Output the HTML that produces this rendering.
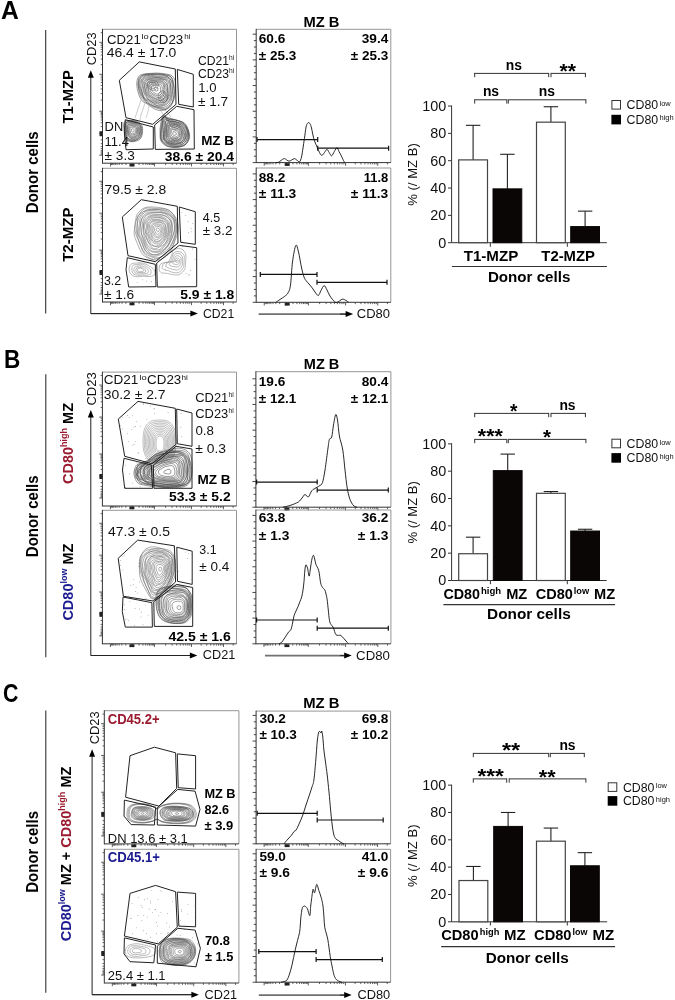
<!DOCTYPE html>
<html><head><meta charset="utf-8"><style>
html,body{margin:0;padding:0;background:#fff;}
svg{display:block;will-change:transform;font-family:"Liberation Sans", sans-serif;}
</style></head><body>
<svg width="675" height="1000" viewBox="0 0 675 1000">
<rect width="675" height="1000" fill="#fff"/>
<text x="1.1" y="19.2" font-size="26" fill="#000" font-weight="bold" textLength="17.8" lengthAdjust="spacingAndGlyphs">A</text>
<line x1="45.7" y1="29.9" x2="45.7" y2="313.6" stroke="#333" stroke-width="1.1"/>
<text transform="translate(38.3,172.3) rotate(-90)" x="0" y="0" font-size="15.6" fill="#000" font-weight="bold" text-anchor="middle" textLength="81.8" lengthAdjust="spacingAndGlyphs">Donor cells</text>
<text transform="translate(72.6,96.8) rotate(-90)" x="0" y="0" font-size="14.5" fill="#000" font-weight="bold" text-anchor="middle" textLength="53.5" lengthAdjust="spacingAndGlyphs">T1-MZP</text>
<text transform="translate(72.6,234.6) rotate(-90)" x="0" y="0" font-size="14.5" fill="#000" font-weight="bold" text-anchor="middle" textLength="54.5" lengthAdjust="spacingAndGlyphs">T2-MZP</text>
<text transform="translate(96.3,48.8) rotate(-90)" x="0" y="0" font-size="13.2" fill="#111" text-anchor="middle" textLength="32.8" lengthAdjust="spacingAndGlyphs">CD23</text>
<line x1="90.8" y1="313.6" x2="90.8" y2="76.3" stroke="#222" stroke-width="1"/>
<polygon points="90.8,70.3 87.8,77.8 93.8,77.8" stroke="none" stroke-width="0" fill="#000" stroke-linejoin="miter"/>
<line x1="90.8" y1="313.6" x2="193" y2="313.6" stroke="#333" stroke-width="1"/>
<line x1="90.8" y1="313.6" x2="191.9" y2="313.6" stroke="#222" stroke-width="1"/>
<polygon points="197.9,313.6 190.4,310.6 190.4,316.6" stroke="none" stroke-width="0" fill="#000" stroke-linejoin="miter"/>
<text x="202.9" y="317.9" font-size="12.6" fill="#111" textLength="31.3" lengthAdjust="spacingAndGlyphs">CD21</text>
<line x1="102.5" y1="29.3" x2="236.5" y2="29.3" stroke="#8a8a8a" stroke-width="0.9"/>
<line x1="236.5" y1="29.3" x2="236.5" y2="163.2" stroke="#8a8a8a" stroke-width="0.9"/>
<line x1="102.5" y1="28.85" x2="102.5" y2="163.65" stroke="#333" stroke-width="1"/>
<line x1="102.5" y1="163.2" x2="236.5" y2="163.2" stroke="#333" stroke-width="1"/>
<line x1="99.3" y1="155.21" x2="102.5" y2="155.21" stroke="#3a3a3a" stroke-width="0.8"/>
<line x1="99.3" y1="133.22" x2="102.5" y2="133.22" stroke="#3a3a3a" stroke-width="0.8"/>
<line x1="99.3" y1="111.24" x2="102.5" y2="111.24" stroke="#3a3a3a" stroke-width="0.8"/>
<line x1="99.3" y1="74.27" x2="102.5" y2="74.27" stroke="#3a3a3a" stroke-width="0.8"/>
<line x1="99.3" y1="42.29" x2="102.5" y2="42.29" stroke="#3a3a3a" stroke-width="0.8"/>
<line x1="100.7" y1="139.84" x2="102.5" y2="139.84" stroke="#3a3a3a" stroke-width="0.8"/>
<line x1="100.7" y1="126.6" x2="102.5" y2="126.6" stroke="#3a3a3a" stroke-width="0.8"/>
<line x1="100.7" y1="100.11" x2="102.5" y2="100.11" stroke="#3a3a3a" stroke-width="0.8"/>
<line x1="100.7" y1="64.64" x2="102.5" y2="64.64" stroke="#3a3a3a" stroke-width="0.8"/>
<line x1="100.7" y1="32.66" x2="102.5" y2="32.66" stroke="#3a3a3a" stroke-width="0.8"/>
<line x1="100.7" y1="143.71" x2="102.5" y2="143.71" stroke="#3a3a3a" stroke-width="0.8"/>
<line x1="100.7" y1="122.73" x2="102.5" y2="122.73" stroke="#3a3a3a" stroke-width="0.8"/>
<line x1="100.7" y1="93.6" x2="102.5" y2="93.6" stroke="#3a3a3a" stroke-width="0.8"/>
<line x1="100.7" y1="59.01" x2="102.5" y2="59.01" stroke="#3a3a3a" stroke-width="0.8"/>
<line x1="100.7" y1="146.46" x2="102.5" y2="146.46" stroke="#3a3a3a" stroke-width="0.8"/>
<line x1="100.7" y1="119.99" x2="102.5" y2="119.99" stroke="#3a3a3a" stroke-width="0.8"/>
<line x1="100.7" y1="88.98" x2="102.5" y2="88.98" stroke="#3a3a3a" stroke-width="0.8"/>
<line x1="100.7" y1="55.01" x2="102.5" y2="55.01" stroke="#3a3a3a" stroke-width="0.8"/>
<line x1="100.7" y1="148.59" x2="102.5" y2="148.59" stroke="#3a3a3a" stroke-width="0.8"/>
<line x1="100.7" y1="117.86" x2="102.5" y2="117.86" stroke="#3a3a3a" stroke-width="0.8"/>
<line x1="100.7" y1="85.4" x2="102.5" y2="85.4" stroke="#3a3a3a" stroke-width="0.8"/>
<line x1="100.7" y1="51.92" x2="102.5" y2="51.92" stroke="#3a3a3a" stroke-width="0.8"/>
<line x1="100.7" y1="150.33" x2="102.5" y2="150.33" stroke="#3a3a3a" stroke-width="0.8"/>
<line x1="100.7" y1="116.12" x2="102.5" y2="116.12" stroke="#3a3a3a" stroke-width="0.8"/>
<line x1="100.7" y1="82.47" x2="102.5" y2="82.47" stroke="#3a3a3a" stroke-width="0.8"/>
<line x1="100.7" y1="49.38" x2="102.5" y2="49.38" stroke="#3a3a3a" stroke-width="0.8"/>
<line x1="100.7" y1="151.8" x2="102.5" y2="151.8" stroke="#3a3a3a" stroke-width="0.8"/>
<line x1="100.7" y1="114.64" x2="102.5" y2="114.64" stroke="#3a3a3a" stroke-width="0.8"/>
<line x1="100.7" y1="79.99" x2="102.5" y2="79.99" stroke="#3a3a3a" stroke-width="0.8"/>
<line x1="100.7" y1="47.24" x2="102.5" y2="47.24" stroke="#3a3a3a" stroke-width="0.8"/>
<line x1="100.7" y1="153.08" x2="102.5" y2="153.08" stroke="#3a3a3a" stroke-width="0.8"/>
<line x1="100.7" y1="113.37" x2="102.5" y2="113.37" stroke="#3a3a3a" stroke-width="0.8"/>
<line x1="100.7" y1="77.85" x2="102.5" y2="77.85" stroke="#3a3a3a" stroke-width="0.8"/>
<line x1="100.7" y1="45.39" x2="102.5" y2="45.39" stroke="#3a3a3a" stroke-width="0.8"/>
<line x1="100.7" y1="154.2" x2="102.5" y2="154.2" stroke="#3a3a3a" stroke-width="0.8"/>
<line x1="100.7" y1="112.24" x2="102.5" y2="112.24" stroke="#3a3a3a" stroke-width="0.8"/>
<line x1="100.7" y1="75.96" x2="102.5" y2="75.96" stroke="#3a3a3a" stroke-width="0.8"/>
<line x1="100.7" y1="43.75" x2="102.5" y2="43.75" stroke="#3a3a3a" stroke-width="0.8"/>
<line x1="110.5" y1="163.2" x2="110.5" y2="166.4" stroke="#3a3a3a" stroke-width="0.8"/>
<line x1="132.5" y1="163.2" x2="132.5" y2="166.4" stroke="#3a3a3a" stroke-width="0.8"/>
<line x1="154.5" y1="163.2" x2="154.5" y2="166.4" stroke="#3a3a3a" stroke-width="0.8"/>
<line x1="191.5" y1="163.2" x2="191.5" y2="166.4" stroke="#3a3a3a" stroke-width="0.8"/>
<line x1="223.5" y1="163.2" x2="223.5" y2="166.4" stroke="#3a3a3a" stroke-width="0.8"/>
<line x1="125.88" y1="163.2" x2="125.88" y2="165" stroke="#3a3a3a" stroke-width="0.8"/>
<line x1="139.12" y1="163.2" x2="139.12" y2="165" stroke="#3a3a3a" stroke-width="0.8"/>
<line x1="165.64" y1="163.2" x2="165.64" y2="165" stroke="#3a3a3a" stroke-width="0.8"/>
<line x1="201.13" y1="163.2" x2="201.13" y2="165" stroke="#3a3a3a" stroke-width="0.8"/>
<line x1="233.13" y1="163.2" x2="233.13" y2="165" stroke="#3a3a3a" stroke-width="0.8"/>
<line x1="122" y1="163.2" x2="122" y2="165" stroke="#3a3a3a" stroke-width="0.8"/>
<line x1="143" y1="163.2" x2="143" y2="165" stroke="#3a3a3a" stroke-width="0.8"/>
<line x1="172.15" y1="163.2" x2="172.15" y2="165" stroke="#3a3a3a" stroke-width="0.8"/>
<line x1="206.77" y1="163.2" x2="206.77" y2="165" stroke="#3a3a3a" stroke-width="0.8"/>
<line x1="119.25" y1="163.2" x2="119.25" y2="165" stroke="#3a3a3a" stroke-width="0.8"/>
<line x1="145.75" y1="163.2" x2="145.75" y2="165" stroke="#3a3a3a" stroke-width="0.8"/>
<line x1="176.78" y1="163.2" x2="176.78" y2="165" stroke="#3a3a3a" stroke-width="0.8"/>
<line x1="210.77" y1="163.2" x2="210.77" y2="165" stroke="#3a3a3a" stroke-width="0.8"/>
<line x1="117.12" y1="163.2" x2="117.12" y2="165" stroke="#3a3a3a" stroke-width="0.8"/>
<line x1="147.88" y1="163.2" x2="147.88" y2="165" stroke="#3a3a3a" stroke-width="0.8"/>
<line x1="180.36" y1="163.2" x2="180.36" y2="165" stroke="#3a3a3a" stroke-width="0.8"/>
<line x1="213.87" y1="163.2" x2="213.87" y2="165" stroke="#3a3a3a" stroke-width="0.8"/>
<line x1="115.38" y1="163.2" x2="115.38" y2="165" stroke="#3a3a3a" stroke-width="0.8"/>
<line x1="149.62" y1="163.2" x2="149.62" y2="165" stroke="#3a3a3a" stroke-width="0.8"/>
<line x1="183.29" y1="163.2" x2="183.29" y2="165" stroke="#3a3a3a" stroke-width="0.8"/>
<line x1="216.4" y1="163.2" x2="216.4" y2="165" stroke="#3a3a3a" stroke-width="0.8"/>
<line x1="113.91" y1="163.2" x2="113.91" y2="165" stroke="#3a3a3a" stroke-width="0.8"/>
<line x1="151.09" y1="163.2" x2="151.09" y2="165" stroke="#3a3a3a" stroke-width="0.8"/>
<line x1="185.77" y1="163.2" x2="185.77" y2="165" stroke="#3a3a3a" stroke-width="0.8"/>
<line x1="218.54" y1="163.2" x2="218.54" y2="165" stroke="#3a3a3a" stroke-width="0.8"/>
<line x1="112.63" y1="163.2" x2="112.63" y2="165" stroke="#3a3a3a" stroke-width="0.8"/>
<line x1="152.37" y1="163.2" x2="152.37" y2="165" stroke="#3a3a3a" stroke-width="0.8"/>
<line x1="187.91" y1="163.2" x2="187.91" y2="165" stroke="#3a3a3a" stroke-width="0.8"/>
<line x1="220.4" y1="163.2" x2="220.4" y2="165" stroke="#3a3a3a" stroke-width="0.8"/>
<line x1="111.51" y1="163.2" x2="111.51" y2="165" stroke="#3a3a3a" stroke-width="0.8"/>
<line x1="153.49" y1="163.2" x2="153.49" y2="165" stroke="#3a3a3a" stroke-width="0.8"/>
<line x1="189.81" y1="163.2" x2="189.81" y2="165" stroke="#3a3a3a" stroke-width="0.8"/>
<line x1="222.04" y1="163.2" x2="222.04" y2="165" stroke="#3a3a3a" stroke-width="0.8"/>
<rect x="129.5" y="163.7" width="5" height="2.8" fill="#222" stroke="none" stroke-width="1"/>
<rect x="99.5" y="131.2" width="3" height="5" fill="#222" stroke="none" stroke-width="1"/>
<path d="M154.14,88.51 C154.14,88.24 154.15,87.96 154.24,87.8 C154.34,87.63 154.52,87.58 154.71,87.52 C154.91,87.45 155.15,87.41 155.4,87.39 C155.64,87.36 155.94,87.36 156.2,87.38 C156.46,87.4 156.74,87.44 156.97,87.5 C157.19,87.56 157.37,87.62 157.54,87.75 C157.7,87.88 157.89,88.04 157.95,88.28 C158.01,88.52 157.94,88.9 157.91,89.2 C157.89,89.5 157.87,89.81 157.81,90.08 C157.75,90.34 157.71,90.6 157.56,90.77 C157.41,90.94 157.12,91.03 156.9,91.1 C156.67,91.16 156.42,91.21 156.21,91.16 C155.99,91.11 155.79,90.9 155.6,90.8 C155.41,90.69 155.25,90.64 155.09,90.52 C154.93,90.4 154.78,90.25 154.64,90.07 C154.5,89.88 154.31,89.66 154.23,89.4 C154.15,89.14 154.14,88.78 154.14,88.51Z" stroke="#444" stroke-width="0.55" fill="none" />
<path d="M151.4,87.79 C151.41,87.16 151.63,86.57 151.88,86.17 C152.12,85.77 152.43,85.57 152.88,85.4 C153.33,85.24 153.97,85.19 154.57,85.19 C155.16,85.18 155.82,85.35 156.45,85.37 C157.09,85.38 157.84,85.19 158.4,85.28 C158.96,85.37 159.46,85.57 159.79,85.92 C160.12,86.27 160.29,86.79 160.4,87.38 C160.5,87.97 160.4,88.74 160.41,89.45 C160.43,90.17 160.63,91.07 160.48,91.66 C160.33,92.25 159.91,92.6 159.52,92.99 C159.13,93.38 158.66,93.84 158.15,94.03 C157.65,94.21 157,94.21 156.48,94.09 C155.97,93.97 155.49,93.55 155.04,93.31 C154.6,93.07 154.2,92.94 153.81,92.65 C153.43,92.36 153.07,92.01 152.73,91.57 C152.4,91.12 152.01,90.59 151.78,89.96 C151.56,89.33 151.38,88.42 151.4,87.79Z" stroke="#444" stroke-width="0.55" fill="none" />
<path d="M149.95,87.41 C149.93,86.53 149.92,85.59 150.21,85.03 C150.51,84.47 151.06,84.22 151.72,84.06 C152.37,83.9 153.33,84.05 154.14,84.05 C154.96,84.05 155.79,84.02 156.62,84.03 C157.45,84.05 158.34,84.05 159.12,84.16 C159.9,84.27 160.82,84.25 161.3,84.69 C161.79,85.13 161.88,85.95 162.04,86.77 C162.21,87.6 162.33,88.7 162.3,89.65 C162.26,90.59 162.07,91.66 161.82,92.46 C161.57,93.26 161.29,93.91 160.8,94.44 C160.3,94.97 159.54,95.45 158.85,95.65 C158.16,95.85 157.32,95.78 156.63,95.63 C155.94,95.49 155.3,95.09 154.71,94.79 C154.12,94.49 153.66,94.19 153.1,93.83 C152.55,93.47 151.84,93.22 151.38,92.63 C150.92,92.04 150.56,91.17 150.32,90.3 C150.09,89.43 149.97,88.29 149.95,87.41Z" stroke="#444" stroke-width="0.55" fill="none" />
<path d="M148.3,86.97 C148.31,85.9 148.55,84.85 148.95,84.17 C149.35,83.49 149.93,83.15 150.71,82.89 C151.49,82.64 152.61,82.65 153.62,82.65 C154.63,82.65 155.69,82.88 156.76,82.9 C157.83,82.92 159.07,82.62 160.03,82.75 C160.99,82.89 161.89,83.15 162.5,83.72 C163.11,84.29 163.49,85.16 163.68,86.17 C163.88,87.18 163.73,88.59 163.68,89.79 C163.63,90.99 163.69,92.43 163.37,93.38 C163.05,94.34 162.37,94.83 161.74,95.51 C161.11,96.18 160.44,97.15 159.62,97.44 C158.79,97.74 157.65,97.53 156.79,97.27 C155.93,97.02 155.16,96.36 154.46,95.93 C153.76,95.5 153.28,95.09 152.6,94.67 C151.91,94.25 150.98,94.1 150.36,93.43 C149.74,92.76 149.22,91.7 148.88,90.63 C148.53,89.55 148.29,88.05 148.3,86.97Z" stroke="#444" stroke-width="0.55" fill="none" />
<path d="M147.61,86.79 C147.55,85.56 147.4,84.15 147.81,83.39 C148.23,82.62 149.18,82.45 150.1,82.2 C151.02,81.95 152.2,81.96 153.34,81.9 C154.47,81.83 155.68,81.83 156.9,81.81 C158.12,81.79 159.56,81.59 160.67,81.77 C161.77,81.95 162.91,82.19 163.53,82.88 C164.14,83.58 164.12,84.75 164.36,85.92 C164.61,87.09 165.03,88.6 164.99,89.92 C164.95,91.24 164.48,92.68 164.14,93.84 C163.81,95.01 163.65,96.13 162.97,96.9 C162.29,97.67 161.06,98.13 160.06,98.46 C159.05,98.79 157.93,99.04 156.94,98.89 C155.95,98.73 154.94,98.04 154.1,97.54 C153.26,97.03 152.68,96.41 151.89,95.85 C151.09,95.3 149.98,95.07 149.35,94.23 C148.72,93.38 148.42,92.04 148.13,90.8 C147.84,89.56 147.66,88.03 147.61,86.79Z" stroke="#444" stroke-width="0.55" fill="none" />
<path d="M146.51,86.5 C146.51,85.11 146.37,83.57 146.88,82.75 C147.38,81.92 148.51,81.84 149.53,81.53 C150.55,81.23 151.72,81.05 152.97,80.93 C154.22,80.8 155.65,80.79 157.03,80.79 C158.4,80.78 160.05,80.63 161.22,80.91 C162.39,81.19 163.34,81.7 164.05,82.46 C164.75,83.23 165.08,84.25 165.47,85.51 C165.85,86.78 166.39,88.55 166.38,90.06 C166.37,91.58 165.81,93.26 165.42,94.6 C165.03,95.95 164.81,97.18 164.04,98.11 C163.27,99.05 161.97,99.93 160.8,100.2 C159.63,100.48 158.17,100.07 157.02,99.75 C155.88,99.43 154.89,98.78 153.94,98.28 C152.99,97.78 152.22,97.36 151.34,96.77 C150.46,96.18 149.42,95.7 148.68,94.75 C147.93,93.81 147.24,92.46 146.88,91.08 C146.52,89.71 146.51,87.89 146.51,86.5Z" stroke="#444" stroke-width="0.55" fill="none" />
<path d="M145.04,86.12 C145.05,84.57 145.32,83.05 145.86,82.05 C146.4,81.04 147.16,80.46 148.28,80.09 C149.39,79.72 151.08,79.85 152.55,79.81 C154.03,79.78 155.59,79.85 157.14,79.87 C158.69,79.89 160.53,79.64 161.84,79.95 C163.15,80.25 164.17,80.85 164.99,81.7 C165.8,82.55 166.29,83.63 166.73,85.05 C167.17,86.46 167.63,88.48 167.62,90.19 C167.6,91.9 167.13,93.89 166.64,95.32 C166.14,96.76 165.59,97.92 164.64,98.79 C163.7,99.67 162.21,100.22 160.96,100.58 C159.71,100.94 158.35,101.17 157.14,100.97 C155.93,100.77 154.71,100.01 153.69,99.4 C152.67,98.78 152,97.95 151.03,97.28 C150.07,96.61 148.75,96.36 147.89,95.37 C147.03,94.38 146.33,92.86 145.85,91.32 C145.38,89.78 145.04,87.66 145.04,86.12Z" stroke="#444" stroke-width="0.55" fill="none" />
<path d="M144.49,85.97 C144.44,84.29 144.34,82.45 144.9,81.39 C145.46,80.33 146.65,80.04 147.86,79.61 C149.07,79.18 150.62,78.9 152.18,78.81 C153.74,78.72 155.54,79.02 157.24,79.07 C158.94,79.12 160.88,78.84 162.38,79.11 C163.88,79.37 165.39,79.74 166.24,80.68 C167.09,81.63 167.21,83.18 167.47,84.77 C167.74,86.36 167.76,88.34 167.81,90.21 C167.86,92.08 168.12,94.36 167.78,96 C167.44,97.65 166.81,99.08 165.77,100.07 C164.73,101.06 162.96,101.58 161.54,101.92 C160.12,102.27 158.6,102.4 157.25,102.14 C155.91,101.88 154.61,101.03 153.47,100.39 C152.33,99.74 151.46,99.04 150.43,98.28 C149.4,97.52 148.18,96.97 147.31,95.83 C146.43,94.7 145.65,93.12 145.18,91.47 C144.71,89.83 144.54,87.65 144.49,85.97Z" stroke="#444" stroke-width="0.55" fill="none" />
<path d="M143.22,85.64 C143.18,83.82 143.34,81.89 144.02,80.78 C144.7,79.67 145.98,79.39 147.31,78.97 C148.63,78.54 150.28,78.41 151.96,78.23 C153.64,78.05 155.63,77.78 157.39,77.89 C159.15,77.99 160.95,78.49 162.54,78.86 C164.13,79.24 165.83,79.23 166.93,80.12 C168.04,81 168.8,82.45 169.16,84.15 C169.51,85.86 169.19,88.31 169.05,90.34 C168.91,92.36 168.73,94.56 168.29,96.31 C167.86,98.06 167.49,99.72 166.44,100.83 C165.39,101.94 163.51,102.63 161.99,102.97 C160.47,103.32 158.77,103.22 157.33,102.92 C155.88,102.61 154.55,101.76 153.3,101.17 C152.04,100.58 150.87,100.18 149.79,99.36 C148.7,98.53 147.71,97.52 146.79,96.24 C145.87,94.96 144.87,93.45 144.28,91.68 C143.68,89.91 143.27,87.45 143.22,85.64Z" stroke="#444" stroke-width="0.55" fill="none" />
<path d="M142.33,85.4 C142.23,83.43 142.19,81.23 142.89,80.01 C143.6,78.8 145.13,78.62 146.56,78.11 C148,77.61 149.69,77.08 151.5,77 C153.31,76.92 155.47,77.5 157.42,77.64 C159.37,77.78 161.47,77.55 163.2,77.84 C164.93,78.14 166.63,78.42 167.81,79.4 C168.99,80.39 169.89,81.9 170.29,83.74 C170.68,85.58 170.35,88.27 170.17,90.45 C169.99,92.64 169.79,95.09 169.2,96.85 C168.6,98.61 167.71,99.77 166.61,101.02 C165.51,102.28 164.11,103.87 162.58,104.35 C161.05,104.84 159.02,104.26 157.42,103.94 C155.83,103.62 154.37,103.07 153.01,102.45 C151.65,101.84 150.42,101.18 149.26,100.24 C148.1,99.3 147.01,98.22 146.05,96.82 C145.08,95.43 144.08,93.77 143.46,91.87 C142.84,89.96 142.42,87.38 142.33,85.4Z" stroke="#444" stroke-width="0.55" fill="none" />
<path d="M140.86,85.02 C140.91,82.91 141.44,80.89 142.24,79.56 C143.03,78.24 144.12,77.53 145.64,77.05 C147.17,76.58 149.41,76.73 151.39,76.71 C153.37,76.69 155.47,76.85 157.51,76.93 C159.55,77 161.78,76.86 163.65,77.15 C165.52,77.44 167.59,77.57 168.73,78.65 C169.88,79.74 170.13,81.68 170.5,83.66 C170.88,85.64 171.01,88.23 170.98,90.54 C170.94,92.84 170.85,95.56 170.29,97.5 C169.73,99.43 168.81,100.85 167.59,102.13 C166.37,103.42 164.61,104.59 162.95,105.21 C161.28,105.84 159.27,106.31 157.61,105.88 C155.95,105.45 154.36,103.56 152.98,102.61 C151.59,101.67 150.65,100.99 149.28,100.2 C147.9,99.41 145.94,99.19 144.73,97.86 C143.51,96.52 142.62,94.35 141.98,92.2 C141.33,90.06 140.82,87.12 140.86,85.02Z" stroke="#444" stroke-width="0.55" fill="none" />
<path d="M139.73,84.72 C139.65,82.55 140.79,80.58 141.65,79.16 C142.51,77.74 143.36,76.82 144.9,76.19 C146.44,75.56 148.77,75.37 150.88,75.36 C153,75.35 155.36,76 157.61,76.1 C159.87,76.21 162.42,75.66 164.41,75.97 C166.39,76.29 168.3,76.8 169.55,77.99 C170.79,79.19 171.44,81.04 171.87,83.15 C172.29,85.26 172.25,88.19 172.1,90.65 C171.95,93.11 171.64,95.88 170.99,97.91 C170.34,99.95 169.5,101.5 168.21,102.84 C166.92,104.17 165.03,105.45 163.26,105.93 C161.49,106.41 159.35,106.05 157.59,105.71 C155.83,105.38 154.16,104.7 152.68,103.94 C151.2,103.18 150.12,102.1 148.71,101.15 C147.29,100.21 145.27,99.79 144.17,98.29 C143.07,96.8 142.84,94.44 142.1,92.18 C141.36,89.91 139.8,86.89 139.73,84.72Z" stroke="#444" stroke-width="0.55" fill="none" />
<path d="M138.94,84.51 C138.85,82.18 139.65,79.9 140.54,78.4 C141.44,76.9 142.63,76.14 144.31,75.51 C145.99,74.88 148.37,74.79 150.62,74.64 C152.86,74.5 155.44,74.51 157.8,74.64 C160.15,74.77 162.82,74.85 164.75,75.43 C166.68,76.02 168.03,76.91 169.38,78.13 C170.73,79.36 172.33,80.7 172.85,82.79 C173.37,84.89 172.69,88.09 172.52,90.69 C172.35,93.3 172.38,96.2 171.83,98.42 C171.28,100.63 170.55,102.5 169.22,103.98 C167.89,105.46 165.76,106.78 163.84,107.3 C161.93,107.83 159.64,107.49 157.73,107.14 C155.82,106.79 154,106.04 152.4,105.21 C150.79,104.38 149.5,103.29 148.1,102.16 C146.7,101.04 145.15,100.07 143.98,98.45 C142.81,96.82 141.92,94.73 141.08,92.41 C140.24,90.09 139.03,86.85 138.94,84.51Z" stroke="#444" stroke-width="0.55" fill="none" />
<path d="M138.13,84.3 C138.08,81.87 139.08,79.6 140.03,78.05 C140.98,76.5 142.09,75.56 143.85,74.98 C145.6,74.39 148.26,74.59 150.58,74.55 C152.9,74.5 155.35,74.69 157.78,74.73 C160.22,74.77 162.97,74.44 165.17,74.79 C167.37,75.14 169.71,75.48 171,76.81 C172.29,78.14 172.37,80.43 172.91,82.77 C173.45,85.11 174.15,88.1 174.24,90.87 C174.34,93.64 174.18,97.05 173.48,99.4 C172.78,101.74 171.56,103.37 170.05,104.92 C168.54,106.47 166.49,108.28 164.44,108.7 C162.39,109.12 159.78,107.95 157.76,107.44 C155.73,106.93 154.01,106.35 152.31,105.63 C150.6,104.9 148.97,104.27 147.53,103.11 C146.09,101.96 144.87,100.45 143.66,98.69 C142.46,96.94 141.22,94.99 140.29,92.59 C139.37,90.19 138.17,86.72 138.13,84.3Z" stroke="#444" stroke-width="0.55" fill="none" />
<path d="M138.14,84.3 C138.1,81.75 138.29,79.08 139.21,77.48 C140.12,75.89 141.78,75.35 143.63,74.72 C145.47,74.1 147.88,73.94 150.27,73.71 C152.66,73.48 155.47,73.17 157.96,73.34 C160.45,73.51 163.06,74.14 165.19,74.75 C167.33,75.36 169.37,75.7 170.78,76.99 C172.18,78.29 173.09,80.19 173.65,82.5 C174.21,84.81 174.2,88.08 174.11,90.86 C174.02,93.64 173.64,96.66 173.1,99.17 C172.57,101.68 172.28,104.15 170.91,105.9 C169.54,107.65 167.04,109.25 164.86,109.68 C162.69,110.1 159.97,109.02 157.85,108.44 C155.74,107.87 153.89,107.12 152.17,106.24 C150.45,105.36 149.07,104.3 147.51,103.15 C145.95,102.01 144.14,101.1 142.79,99.38 C141.45,97.65 140.22,95.3 139.44,92.78 C138.67,90.27 138.18,86.85 138.14,84.3Z" stroke="#444" stroke-width="0.55" fill="none" />
<path d="M136.78,83.94 C136.79,81.25 137.32,78.55 138.38,76.92 C139.44,75.29 141.18,74.75 143.14,74.17 C145.11,73.58 147.68,73.55 150.15,73.4 C152.62,73.24 155.38,73.12 157.97,73.22 C160.56,73.31 163.35,73.51 165.7,73.97 C168.05,74.42 170.47,74.62 172.07,75.94 C173.68,77.26 174.79,79.37 175.33,81.88 C175.87,84.39 175.55,88.02 175.31,90.98 C175.07,93.94 174.66,97.2 173.88,99.63 C173.1,102.06 172.11,103.87 170.61,105.56 C169.12,107.26 167.01,109.02 164.91,109.79 C162.81,110.56 160.18,110.57 158.02,110.18 C155.85,109.78 153.73,108.46 151.91,107.41 C150.09,106.35 148.79,105.05 147.09,103.86 C145.38,102.67 143.12,102.07 141.66,100.27 C140.2,98.46 139.14,95.76 138.33,93.04 C137.51,90.32 136.77,86.63 136.78,83.94Z" stroke="#444" stroke-width="0.55" fill="none" />
<path d="M151.18,84.47 C151.41,84.2 151.91,84.05 152.35,84.05 C152.8,84.05 153.55,84.19 153.84,84.46 C154.13,84.73 154.21,85.26 154.1,85.65 C154,86.04 153.62,86.63 153.22,86.8 C152.83,86.98 152.13,86.88 151.76,86.69 C151.38,86.5 151.05,86.02 150.95,85.66 C150.85,85.29 150.94,84.74 151.18,84.47Z" stroke="#555" stroke-width="0.5" fill="none" />
<path d="M149.5,83.17 C149.97,82.56 151.19,82.16 152.17,82.18 C153.14,82.2 154.71,82.67 155.36,83.28 C156.01,83.88 156.3,84.98 156.09,85.83 C155.87,86.68 154.96,88.01 154.1,88.37 C153.23,88.74 151.71,88.46 150.92,88.03 C150.13,87.61 149.59,86.63 149.35,85.81 C149.12,85 149.04,83.78 149.5,83.17Z" stroke="#555" stroke-width="0.5" fill="none" />
<path d="M148.1,82.08 C148.84,81.14 150.48,80.36 151.98,80.33 C153.49,80.3 156.09,80.96 157.12,81.91 C158.14,82.86 158.48,84.65 158.13,86.01 C157.79,87.38 156.41,89.54 155.06,90.11 C153.71,90.67 151.31,90.09 150.06,89.4 C148.81,88.72 147.9,87.21 147.58,85.99 C147.25,84.77 147.37,83.02 148.1,82.08Z" stroke="#555" stroke-width="0.5" fill="none" />
<path d="M161.79,95.79 C162,95.48 162.59,95.12 163,95.17 C163.41,95.21 164,95.67 164.23,96.08 C164.46,96.49 164.55,97.16 164.4,97.62 C164.24,98.08 163.69,98.73 163.31,98.83 C162.92,98.94 162.34,98.55 162.07,98.24 C161.8,97.93 161.75,97.41 161.7,97 C161.65,96.59 161.57,96.09 161.79,95.79Z" stroke="#555" stroke-width="0.5" fill="none" />
<path d="M160.41,94.41 C160.88,93.73 162.13,92.86 163,92.96 C163.87,93.06 165.13,94.13 165.63,95.03 C166.13,95.92 166.35,97.38 166.02,98.34 C165.69,99.3 164.46,100.57 163.63,100.78 C162.8,100.99 161.64,100.22 161.05,99.59 C160.47,98.96 160.24,97.86 160.13,97 C160.03,96.14 159.93,95.08 160.41,94.41Z" stroke="#555" stroke-width="0.5" fill="none" />
<path d="M158.99,92.99 C159.75,91.98 161.69,90.78 163,90.96 C164.31,91.15 166.11,92.79 166.84,94.12 C167.58,95.45 167.87,97.49 167.4,98.95 C166.92,100.42 165.23,102.53 163.98,102.89 C162.73,103.26 160.83,102.12 159.9,101.13 C158.97,100.15 158.56,98.36 158.4,97 C158.25,95.64 158.22,93.99 158.99,92.99Z" stroke="#555" stroke-width="0.5" fill="none" />
<path d="M141,100 C140.67,101 139.67,104 139,106 C138.33,108 137.67,110 137,112 C136.33,114 135.33,117 135,118" stroke="#888" stroke-width="0.45" fill="none" />
<path d="M145,103 C144.67,104 143.67,107 143,109 C142.33,111 141.5,113.17 141,115 C140.5,116.83 140.17,119.17 140,120" stroke="#888" stroke-width="0.45" fill="none" />
<path d="M149,106 C148.83,107 148.5,110 148,112 C147.5,114 146.33,117 146,118" stroke="#999" stroke-width="0.45" fill="none" />
<path d="M160,110 C160.5,110.67 162,112.67 163,114 C164,115.33 165.5,117.33 166,118" stroke="#888" stroke-width="0.45" fill="none" />
<path d="M164,109 C164.67,109.67 166.83,111.67 168,113 C169.17,114.33 170.5,116.33 171,117" stroke="#888" stroke-width="0.45" fill="none" />
<path d="M131.47,129.06 C131.63,128.79 132.01,128.79 132.3,128.77 C132.58,128.75 132.89,128.83 133.18,128.95 C133.47,129.06 133.9,129.22 134.06,129.48 C134.21,129.75 134.16,130.19 134.11,130.54 C134.07,130.9 134.05,131.34 133.8,131.61 C133.54,131.87 132.94,132.12 132.59,132.11 C132.25,132.1 131.93,131.85 131.73,131.56 C131.53,131.28 131.43,130.82 131.39,130.41 C131.35,129.99 131.32,129.33 131.47,129.06Z" stroke="#444" stroke-width="0.55" fill="none" />
<path d="M130.15,127.71 C130.45,127.17 131.3,127.28 131.9,127.24 C132.49,127.19 133.11,127.22 133.71,127.46 C134.3,127.69 135.13,128.08 135.46,128.64 C135.79,129.2 135.79,130.09 135.71,130.82 C135.64,131.56 135.53,132.54 134.99,133.03 C134.46,133.53 133.21,133.83 132.49,133.81 C131.77,133.79 131.07,133.48 130.68,132.93 C130.28,132.38 130.19,131.38 130.1,130.51 C130.01,129.64 129.85,128.26 130.15,127.71Z" stroke="#444" stroke-width="0.55" fill="none" />
<path d="M129.35,126.91 C129.76,126.14 130.78,126.03 131.56,125.96 C132.35,125.89 133.25,126.13 134.06,126.48 C134.86,126.84 135.93,127.34 136.37,128.09 C136.8,128.84 136.76,130.02 136.66,130.99 C136.55,131.96 136.44,133.26 135.74,133.92 C135.03,134.57 133.38,134.94 132.42,134.92 C131.47,134.9 130.57,134.51 130.01,133.79 C129.46,133.07 129.21,131.74 129.1,130.59 C128.99,129.44 128.95,127.69 129.35,126.91Z" stroke="#444" stroke-width="0.55" fill="none" />
<path d="M128.59,126.14 C129.11,125.24 130.43,125.31 131.38,125.26 C132.33,125.22 133.34,125.46 134.27,125.87 C135.2,126.29 136.43,126.87 136.95,127.74 C137.48,128.61 137.53,129.99 137.41,131.12 C137.29,132.25 137.08,133.66 136.23,134.51 C135.39,135.36 133.47,136.21 132.35,136.2 C131.22,136.2 130.16,135.4 129.48,134.48 C128.8,133.56 128.43,132.05 128.28,130.66 C128.14,129.27 128.07,127.04 128.59,126.14Z" stroke="#444" stroke-width="0.55" fill="none" />
<path d="M127.9,125.44 C128.48,124.43 130.11,124.71 131.22,124.65 C132.33,124.59 133.48,124.62 134.56,125.06 C135.64,125.5 137.12,126.26 137.7,127.29 C138.28,128.32 138.21,129.91 138.06,131.23 C137.91,132.55 137.79,134.23 136.83,135.22 C135.86,136.21 133.59,137.19 132.29,137.17 C130.99,137.15 129.77,136.17 129.01,135.09 C128.25,134.02 127.9,132.31 127.71,130.7 C127.53,129.09 127.31,126.45 127.9,125.44Z" stroke="#444" stroke-width="0.55" fill="none" />
<path d="M127.62,125.15 C128.22,123.98 129.75,123.84 130.96,123.67 C132.17,123.51 133.67,123.61 134.88,124.16 C136.08,124.72 137.55,125.79 138.19,126.99 C138.83,128.19 138.88,129.9 138.72,131.34 C138.56,132.79 138.29,134.6 137.21,135.68 C136.13,136.75 133.69,137.81 132.25,137.81 C130.81,137.8 129.4,136.83 128.58,135.65 C127.76,134.47 127.48,132.48 127.32,130.73 C127.16,128.98 127.01,126.33 127.62,125.15Z" stroke="#444" stroke-width="0.55" fill="none" />
<path d="M126.91,124.44 C127.62,123.1 129.38,122.89 130.73,122.78 C132.08,122.67 133.66,123.14 135.02,123.78 C136.37,124.41 138.08,125.3 138.86,126.59 C139.64,127.88 139.89,129.9 139.7,131.51 C139.5,133.12 138.94,135.06 137.69,136.24 C136.44,137.43 133.8,138.61 132.2,138.61 C130.6,138.62 129.04,137.58 128.09,136.28 C127.14,134.98 126.7,132.77 126.5,130.8 C126.31,128.83 126.21,125.78 126.91,124.44Z" stroke="#444" stroke-width="0.55" fill="none" />
<path d="M126.16,123.68 C126.91,122.32 129.18,122.75 130.7,122.66 C132.21,122.56 133.78,122.52 135.25,123.11 C136.72,123.7 138.73,124.78 139.53,126.19 C140.33,127.6 140.25,129.79 140.03,131.57 C139.81,133.35 139.53,135.52 138.21,136.87 C136.9,138.22 133.95,139.59 132.14,139.66 C130.33,139.72 128.33,138.73 127.34,137.26 C126.35,135.79 126.41,133.09 126.21,130.82 C126.01,128.56 125.41,125.04 126.16,123.68Z" stroke="#444" stroke-width="0.55" fill="none" />
<path d="M125.78,123.3 C126.62,121.72 128.78,121.53 130.38,121.44 C131.98,121.35 133.77,122.01 135.38,122.74 C137,123.48 139.21,124.37 140.07,125.86 C140.93,127.35 140.77,129.73 140.54,131.66 C140.31,133.59 140.1,136.03 138.7,137.44 C137.29,138.86 134.04,140.13 132.11,140.15 C130.18,140.17 128.23,139.12 127.1,137.57 C125.97,136.03 125.54,133.27 125.32,130.89 C125.1,128.51 124.94,124.87 125.78,123.3Z" stroke="#444" stroke-width="0.55" fill="none" />
<path d="M125.65,123.17 C126.5,121.56 128.65,121.49 130.33,121.26 C132.01,121.03 134.01,121.08 135.72,121.8 C137.42,122.51 139.63,123.89 140.57,125.56 C141.52,127.23 141.61,129.74 141.37,131.8 C141.14,133.87 140.69,136.42 139.14,137.97 C137.58,139.52 134.12,141.08 132.05,141.1 C129.98,141.12 127.84,139.78 126.71,138.08 C125.58,136.38 125.44,133.38 125.27,130.9 C125.09,128.41 124.81,124.77 125.65,123.17Z" stroke="#444" stroke-width="0.55" fill="none" />
<path d="M124.76,122.27 C125.67,120.56 128.34,120.82 130.18,120.7 C132.02,120.58 134.03,120.77 135.8,121.56 C137.58,122.34 139.81,123.68 140.83,125.41 C141.85,127.13 142.14,129.73 141.92,131.9 C141.7,134.07 141.15,136.89 139.5,138.41 C137.86,139.92 134.26,140.96 132.06,140.99 C129.86,141.03 127.52,140.28 126.3,138.61 C125.08,136.93 124.99,133.66 124.74,130.94 C124.48,128.22 123.86,123.97 124.76,122.27Z" stroke="#444" stroke-width="0.55" fill="none" />
<path d="M124.31,121.81 C125.32,120.04 128.14,120.56 130.1,120.39 C132.06,120.22 134.14,120.04 136.07,120.79 C138.01,121.54 140.65,123 141.72,124.87 C142.79,126.74 142.76,129.62 142.5,132 C142.23,134.38 141.87,137.52 140.12,139.15 C138.38,140.77 134.39,141.76 132.01,141.76 C129.64,141.77 127.2,140.96 125.87,139.17 C124.55,137.37 124.31,133.89 124.05,131 C123.79,128.1 123.31,123.58 124.31,121.81Z" stroke="#444" stroke-width="0.55" fill="none" />
<path d="M173.13,131.58 C173.26,131.44 173.46,131.75 173.72,131.81 C173.98,131.87 174.37,131.84 174.69,131.94 C175.01,132.04 175.38,132.2 175.64,132.42 C175.9,132.64 176.13,132.96 176.24,133.26 C176.35,133.56 176.37,133.93 176.29,134.22 C176.2,134.51 176,134.83 175.73,135.02 C175.46,135.21 175.04,135.33 174.68,135.36 C174.32,135.39 173.9,135.32 173.59,135.19 C173.28,135.06 172.97,134.86 172.84,134.6 C172.72,134.33 172.83,133.94 172.84,133.62 C172.85,133.3 172.86,133.01 172.91,132.67 C172.95,132.33 172.99,131.73 173.13,131.58Z" stroke="#3a3a3a" stroke-width="0.55" fill="none" />
<path d="M171.76,129.48 C172.02,129.17 172.34,129.63 172.86,129.74 C173.38,129.85 174.23,129.91 174.88,130.15 C175.52,130.38 176.2,130.73 176.75,131.16 C177.31,131.59 177.96,132.15 178.21,132.75 C178.46,133.36 178.46,134.17 178.28,134.8 C178.1,135.43 177.69,136.13 177.12,136.52 C176.55,136.91 175.61,137.11 174.87,137.13 C174.14,137.15 173.3,136.93 172.7,136.65 C172.11,136.36 171.59,135.95 171.3,135.43 C171.01,134.91 170.97,134.16 170.97,133.53 C170.97,132.89 171.16,132.31 171.29,131.63 C171.42,130.96 171.5,129.8 171.76,129.48Z" stroke="#3a3a3a" stroke-width="0.55" fill="none" />
<path d="M170.85,128.09 C171.23,127.72 171.74,128.5 172.43,128.7 C173.12,128.89 174.11,129 174.97,129.25 C175.83,129.51 176.88,129.69 177.58,130.23 C178.29,130.77 178.88,131.68 179.19,132.5 C179.5,133.32 179.66,134.32 179.45,135.14 C179.23,135.95 178.66,136.86 177.92,137.38 C177.18,137.9 175.97,138.19 174.99,138.24 C174.02,138.29 172.88,138.06 172.06,137.7 C171.24,137.35 170.42,136.81 170.05,136.11 C169.69,135.4 169.84,134.34 169.86,133.47 C169.89,132.61 170.02,131.82 170.19,130.92 C170.35,130.02 170.48,128.46 170.85,128.09Z" stroke="#3a3a3a" stroke-width="0.55" fill="none" />
<path d="M169.8,126.47 C170.24,125.97 170.96,127.04 171.85,127.29 C172.73,127.54 174.03,127.62 175.1,127.97 C176.18,128.33 177.46,128.71 178.29,129.43 C179.13,130.14 179.79,131.28 180.11,132.27 C180.42,133.26 180.44,134.39 180.19,135.35 C179.93,136.32 179.41,137.47 178.55,138.06 C177.7,138.66 176.25,138.84 175.07,138.93 C173.89,139.03 172.46,139.03 171.49,138.63 C170.52,138.23 169.7,137.41 169.24,136.54 C168.78,135.67 168.73,134.46 168.73,133.42 C168.73,132.38 169.07,131.47 169.25,130.32 C169.43,129.16 169.37,126.98 169.8,126.47Z" stroke="#3a3a3a" stroke-width="0.55" fill="none" />
<path d="M169.09,125.38 C169.59,124.81 170.46,126.03 171.47,126.38 C172.48,126.74 173.95,127.09 175.15,127.52 C176.36,127.95 177.68,128.22 178.71,128.96 C179.73,129.7 180.88,130.85 181.29,131.97 C181.71,133.08 181.5,134.47 181.2,135.65 C180.89,136.82 180.45,138.31 179.44,139.02 C178.44,139.73 176.55,139.9 175.17,139.91 C173.8,139.92 172.36,139.56 171.22,139.09 C170.07,138.61 168.87,138 168.31,137.04 C167.76,136.09 167.84,134.58 167.87,133.38 C167.9,132.17 168.29,131.16 168.49,129.83 C168.69,128.49 168.6,125.95 169.09,125.38Z" stroke="#3a3a3a" stroke-width="0.55" fill="none" />
<path d="M168.83,124.97 C169.43,124.39 170.15,125.6 171.23,125.8 C172.31,126.01 173.92,125.8 175.29,126.19 C176.66,126.58 178.38,127.19 179.44,128.13 C180.51,129.08 181.26,130.59 181.67,131.87 C182.07,133.16 182.22,134.61 181.89,135.85 C181.56,137.08 180.79,138.5 179.68,139.28 C178.57,140.05 176.75,140.35 175.24,140.49 C173.72,140.63 171.83,140.65 170.59,140.12 C169.34,139.59 168.36,138.46 167.79,137.33 C167.23,136.2 167.2,134.68 167.17,133.34 C167.15,132 167.37,130.68 167.65,129.28 C167.92,127.89 168.23,125.55 168.83,124.97Z" stroke="#3a3a3a" stroke-width="0.55" fill="none" />
<path d="M168.19,123.98 C168.87,123.32 169.58,124.37 170.77,124.7 C171.96,125.03 173.8,125.46 175.32,125.94 C176.84,126.43 178.73,126.65 179.91,127.61 C181.09,128.56 181.93,130.26 182.41,131.68 C182.89,133.1 183.13,134.73 182.78,136.11 C182.42,137.48 181.52,139.04 180.27,139.91 C179.03,140.78 177.02,141.16 175.33,141.32 C173.64,141.49 171.55,141.45 170.12,140.88 C168.68,140.32 167.31,139.17 166.72,137.91 C166.13,136.65 166.58,134.85 166.58,133.31 C166.57,131.77 166.4,130.21 166.67,128.65 C166.94,127.1 167.5,124.64 168.19,123.98Z" stroke="#3a3a3a" stroke-width="0.55" fill="none" />
<path d="M167.61,123.09 C168.28,122.36 169.24,123.88 170.55,124.15 C171.85,124.43 173.81,124.26 175.45,124.74 C177.09,125.23 179.12,125.94 180.39,127.06 C181.67,128.19 182.52,129.94 183.11,131.5 C183.7,133.07 184.32,134.95 183.93,136.44 C183.55,137.94 182.21,139.55 180.79,140.47 C179.37,141.4 177.23,141.84 175.4,142 C173.57,142.16 171.31,142.06 169.8,141.41 C168.29,140.76 166.99,139.47 166.33,138.12 C165.68,136.76 165.84,134.87 165.87,133.28 C165.9,131.68 166.21,130.24 166.5,128.55 C166.79,126.85 166.94,123.83 167.61,123.09Z" stroke="#3a3a3a" stroke-width="0.55" fill="none" />
<path d="M167.14,122.37 C167.87,121.56 168.78,122.89 170.17,123.24 C171.56,123.6 173.69,123.94 175.47,124.5 C177.25,125.05 179.42,125.43 180.84,126.56 C182.26,127.69 183.43,129.61 184,131.28 C184.57,132.94 184.64,134.84 184.26,136.53 C183.87,138.23 183.16,140.4 181.7,141.45 C180.24,142.5 177.52,142.75 175.49,142.82 C173.46,142.89 171.21,142.58 169.51,141.89 C167.81,141.2 166.01,140.11 165.31,138.67 C164.6,137.23 165.19,135.01 165.28,133.25 C165.36,131.49 165.5,129.92 165.81,128.1 C166.12,126.29 166.41,123.18 167.14,122.37Z" stroke="#3a3a3a" stroke-width="0.55" fill="none" />
<path d="M166.09,120.75 C166.85,119.85 168.2,121.78 169.78,122.3 C171.35,122.81 173.66,123.18 175.54,123.84 C177.42,124.51 179.49,125.11 181.06,126.31 C182.63,127.51 184.25,129.27 184.97,131.03 C185.68,132.79 185.89,135.11 185.35,136.85 C184.82,138.6 183.38,140.35 181.76,141.51 C180.13,142.67 177.72,143.63 175.6,143.83 C173.48,144.02 170.82,143.5 169.03,142.68 C167.24,141.86 165.62,140.49 164.86,138.91 C164.09,137.33 164.37,135.07 164.44,133.21 C164.5,131.34 164.97,129.81 165.24,127.73 C165.52,125.66 165.33,121.66 166.09,120.75Z" stroke="#3a3a3a" stroke-width="0.55" fill="none" />
<path d="M166.16,120.86 C166.97,119.88 167.85,121.04 169.42,121.44 C171,121.83 173.55,122.55 175.61,123.23 C177.66,123.91 180.17,124.22 181.77,125.51 C183.37,126.8 184.52,129.05 185.21,130.97 C185.9,132.89 186.39,135.14 185.94,137.02 C185.48,138.91 184.19,141.13 182.47,142.28 C180.75,143.43 177.86,143.85 175.61,143.92 C173.37,144 170.91,143.5 169,142.72 C167.09,141.95 164.97,140.88 164.15,139.3 C163.34,137.71 164.03,135.19 164.1,133.19 C164.17,131.19 164.21,129.34 164.55,127.29 C164.89,125.23 165.35,121.83 166.16,120.86Z" stroke="#3a3a3a" stroke-width="0.55" fill="none" />
<path d="M165.29,119.53 C166.18,118.53 167.44,120.38 169.17,120.83 C170.91,121.29 173.58,121.53 175.71,122.28 C177.83,123.03 180.15,123.93 181.94,125.32 C183.73,126.72 185.76,128.7 186.44,130.65 C187.12,132.61 186.67,135.1 186.02,137.05 C185.37,139 184.27,141.12 182.54,142.36 C180.82,143.6 178.01,144.31 175.67,144.5 C173.34,144.68 170.47,144.32 168.55,143.46 C166.62,142.6 164.98,141.03 164.12,139.31 C163.26,137.6 163.44,135.24 163.4,133.16 C163.35,131.08 163.54,129.11 163.85,126.84 C164.17,124.57 164.4,120.53 165.29,119.53Z" stroke="#3a3a3a" stroke-width="0.55" fill="none" />
<path d="M164.79,118.76 C165.86,117.88 167.38,120.38 169.2,120.91 C171.03,121.43 173.49,121.32 175.75,121.91 C178,122.5 180.83,123.01 182.72,124.44 C184.62,125.86 186.41,128.32 187.14,130.47 C187.87,132.63 187.7,135.21 187.08,137.36 C186.47,139.5 185.33,142 183.45,143.33 C181.56,144.67 178.28,145.3 175.77,145.36 C173.26,145.43 170.41,144.69 168.38,143.73 C166.36,142.77 164.49,141.37 163.59,139.6 C162.68,137.83 163.09,135.38 162.96,133.14 C162.83,130.89 162.49,128.55 162.79,126.16 C163.1,123.76 163.72,119.63 164.79,118.76Z" stroke="#3a3a3a" stroke-width="0.55" fill="none" />
<path d="M164.21,117.86 C165.26,116.78 166.63,118.72 168.56,119.36 C170.49,119.99 173.37,120.87 175.77,121.67 C178.17,122.47 181.05,122.71 182.96,124.17 C184.87,125.63 186.45,128.21 187.26,130.45 C188.06,132.68 188.39,135.38 187.78,137.56 C187.17,139.74 185.6,142.05 183.62,143.51 C181.63,144.97 178.46,146.23 175.87,146.34 C173.29,146.45 170.34,145.2 168.12,144.17 C165.9,143.14 163.64,142 162.56,140.15 C161.49,138.31 161.72,135.47 161.66,133.07 C161.61,130.68 161.8,128.33 162.23,125.79 C162.65,123.25 163.15,118.93 164.21,117.86Z" stroke="#3a3a3a" stroke-width="0.55" fill="none" />
<path d="M163.7,117.08 C164.77,115.97 166.38,118.46 168.41,119 C170.45,119.54 173.39,119.56 175.91,120.31 C178.44,121.06 181.58,121.84 183.54,123.51 C185.51,125.18 186.9,127.96 187.7,130.33 C188.5,132.7 188.88,135.37 188.34,137.72 C187.8,140.07 186.56,142.93 184.49,144.45 C182.42,145.96 178.73,146.71 175.92,146.79 C173.11,146.88 169.99,145.99 167.63,144.96 C165.28,143.92 162.89,142.57 161.77,140.58 C160.66,138.6 160.9,135.53 160.94,133.04 C160.98,130.55 161.53,128.3 161.99,125.64 C162.45,122.98 162.63,118.19 163.7,117.08Z" stroke="#3a3a3a" stroke-width="0.55" fill="none" />
<path d="M163.34,116.52 C164.48,115.43 166.21,118.18 168.31,118.75 C170.41,119.33 173.38,119.2 175.95,119.96 C178.52,120.72 181.71,121.61 183.71,123.33 C185.71,125.04 187.11,127.84 187.97,130.26 C188.83,132.69 189.38,135.42 188.88,137.88 C188.39,140.33 187.14,143.41 184.99,144.99 C182.84,146.57 178.96,147.24 175.99,147.37 C173.01,147.49 169.55,146.86 167.16,145.74 C164.77,144.62 162.75,142.77 161.64,140.65 C160.53,138.53 160.53,135.58 160.5,133.01 C160.46,130.45 160.97,128.03 161.44,125.28 C161.91,122.53 162.19,117.61 163.34,116.52Z" stroke="#3a3a3a" stroke-width="0.55" fill="none" />
<path d="M163.05,116.08 C164.27,114.9 165.67,116.93 167.82,117.58 C169.97,118.22 173.22,119.1 175.95,119.97 C178.68,120.84 182.11,121.09 184.19,122.79 C186.27,124.48 187.58,127.6 188.45,130.14 C189.33,132.68 190,135.56 189.42,138.03 C188.84,140.51 187.23,143.45 184.98,144.98 C182.74,146.51 178.98,147 175.97,147.2 C172.95,147.4 169.38,147.23 166.88,146.2 C164.39,145.16 162.14,143.2 161,141 C159.87,138.8 160.15,135.71 160.07,132.99 C159.99,130.28 160.05,127.53 160.55,124.71 C161.04,121.89 161.84,117.27 163.05,116.08Z" stroke="#3a3a3a" stroke-width="0.55" fill="none" />
<polygon points="119.3,80.3 139.3,61.9 175.3,69 176,104.3 152.7,124.3 126,117.7" stroke="#222" stroke-width="1" fill="none" stroke-linejoin="miter"/>
<polygon points="177.3,69.4 193.3,74.3 193.3,107 178.7,104.3" stroke="#222" stroke-width="1" fill="none" stroke-linejoin="miter"/>
<polygon points="176.7,106.3 194,109.7 194.3,149 155.3,149.4 154.7,125" stroke="#222" stroke-width="1" fill="none" stroke-linejoin="miter"/>
<polygon points="125.3,119.7 153.3,127 153.3,149 126,149.7 124.5,135" stroke="#222" stroke-width="1" fill="none" stroke-linejoin="miter"/>
<text x="107.1" y="43.6" font-size="13.1" fill="#111" textLength="33.6" lengthAdjust="spacingAndGlyphs">CD21</text>
<text x="141.5" y="39.1" font-size="7.8" fill="#111" textLength="7.2" lengthAdjust="spacingAndGlyphs">lo</text>
<text x="149.2" y="43.6" font-size="13.1" fill="#111" textLength="34.1" lengthAdjust="spacingAndGlyphs">CD23</text>
<text x="184.2" y="39.1" font-size="7.6" fill="#111" textLength="6.3" lengthAdjust="spacingAndGlyphs">hi</text>
<text x="106.7" y="56.9" font-size="13.1" fill="#111" textLength="69.6" lengthAdjust="spacingAndGlyphs">46.4 ± 17.0</text>
<text x="198" y="64.9" font-size="13.1" fill="#111" textLength="31" lengthAdjust="spacingAndGlyphs">CD21</text>
<text x="229" y="59.8" font-size="7.4" fill="#111" textLength="5.2" lengthAdjust="spacingAndGlyphs">hi</text>
<text x="198" y="78.3" font-size="13.1" fill="#111" textLength="31" lengthAdjust="spacingAndGlyphs">CD23</text>
<text x="229" y="73.2" font-size="7.4" fill="#111" textLength="5.2" lengthAdjust="spacingAndGlyphs">hi</text>
<text x="198.3" y="92" font-size="13.1" fill="#111" textLength="18.2" lengthAdjust="spacingAndGlyphs">1.0</text>
<text x="198" y="106.3" font-size="13.1" fill="#111" textLength="30.2" lengthAdjust="spacingAndGlyphs">± 1.7</text>
<text x="104.6" y="130.6" font-size="12.7" fill="#111" textLength="18.6" lengthAdjust="spacingAndGlyphs">DN</text>
<text x="104.6" y="145.7" font-size="12.7" fill="#111" textLength="24.4" lengthAdjust="spacingAndGlyphs">11.4</text>
<text x="104.6" y="160.2" font-size="12.7" fill="#111" textLength="30.2" lengthAdjust="spacingAndGlyphs">± 3.3</text>
<text x="201.2" y="144.8" font-size="13.4" fill="#000" font-weight="bold" textLength="32.8" lengthAdjust="spacingAndGlyphs">MZ B</text>
<text x="164.7" y="161" font-size="13.4" fill="#000" font-weight="bold" textLength="69.3" lengthAdjust="spacingAndGlyphs">38.6 ± 20.4</text>
<line x1="102.5" y1="168.3" x2="236.5" y2="168.3" stroke="#8a8a8a" stroke-width="0.9"/>
<line x1="236.5" y1="168.3" x2="236.5" y2="302" stroke="#8a8a8a" stroke-width="0.9"/>
<line x1="102.5" y1="167.85" x2="102.5" y2="302.45" stroke="#333" stroke-width="1"/>
<line x1="102.5" y1="302" x2="236.5" y2="302" stroke="#333" stroke-width="1"/>
<line x1="99.3" y1="294.02" x2="102.5" y2="294.02" stroke="#3a3a3a" stroke-width="0.8"/>
<line x1="99.3" y1="272.07" x2="102.5" y2="272.07" stroke="#3a3a3a" stroke-width="0.8"/>
<line x1="99.3" y1="250.12" x2="102.5" y2="250.12" stroke="#3a3a3a" stroke-width="0.8"/>
<line x1="99.3" y1="213.2" x2="102.5" y2="213.2" stroke="#3a3a3a" stroke-width="0.8"/>
<line x1="99.3" y1="181.27" x2="102.5" y2="181.27" stroke="#3a3a3a" stroke-width="0.8"/>
<line x1="100.7" y1="278.67" x2="102.5" y2="278.67" stroke="#3a3a3a" stroke-width="0.8"/>
<line x1="100.7" y1="265.46" x2="102.5" y2="265.46" stroke="#3a3a3a" stroke-width="0.8"/>
<line x1="100.7" y1="239" x2="102.5" y2="239" stroke="#3a3a3a" stroke-width="0.8"/>
<line x1="100.7" y1="203.59" x2="102.5" y2="203.59" stroke="#3a3a3a" stroke-width="0.8"/>
<line x1="100.7" y1="171.66" x2="102.5" y2="171.66" stroke="#3a3a3a" stroke-width="0.8"/>
<line x1="100.7" y1="282.54" x2="102.5" y2="282.54" stroke="#3a3a3a" stroke-width="0.8"/>
<line x1="100.7" y1="261.59" x2="102.5" y2="261.59" stroke="#3a3a3a" stroke-width="0.8"/>
<line x1="100.7" y1="232.5" x2="102.5" y2="232.5" stroke="#3a3a3a" stroke-width="0.8"/>
<line x1="100.7" y1="197.97" x2="102.5" y2="197.97" stroke="#3a3a3a" stroke-width="0.8"/>
<line x1="100.7" y1="285.28" x2="102.5" y2="285.28" stroke="#3a3a3a" stroke-width="0.8"/>
<line x1="100.7" y1="258.85" x2="102.5" y2="258.85" stroke="#3a3a3a" stroke-width="0.8"/>
<line x1="100.7" y1="227.89" x2="102.5" y2="227.89" stroke="#3a3a3a" stroke-width="0.8"/>
<line x1="100.7" y1="193.98" x2="102.5" y2="193.98" stroke="#3a3a3a" stroke-width="0.8"/>
<line x1="100.7" y1="287.41" x2="102.5" y2="287.41" stroke="#3a3a3a" stroke-width="0.8"/>
<line x1="100.7" y1="256.72" x2="102.5" y2="256.72" stroke="#3a3a3a" stroke-width="0.8"/>
<line x1="100.7" y1="224.31" x2="102.5" y2="224.31" stroke="#3a3a3a" stroke-width="0.8"/>
<line x1="100.7" y1="190.88" x2="102.5" y2="190.88" stroke="#3a3a3a" stroke-width="0.8"/>
<line x1="100.7" y1="289.15" x2="102.5" y2="289.15" stroke="#3a3a3a" stroke-width="0.8"/>
<line x1="100.7" y1="254.99" x2="102.5" y2="254.99" stroke="#3a3a3a" stroke-width="0.8"/>
<line x1="100.7" y1="221.39" x2="102.5" y2="221.39" stroke="#3a3a3a" stroke-width="0.8"/>
<line x1="100.7" y1="188.35" x2="102.5" y2="188.35" stroke="#3a3a3a" stroke-width="0.8"/>
<line x1="100.7" y1="290.62" x2="102.5" y2="290.62" stroke="#3a3a3a" stroke-width="0.8"/>
<line x1="100.7" y1="253.52" x2="102.5" y2="253.52" stroke="#3a3a3a" stroke-width="0.8"/>
<line x1="100.7" y1="218.92" x2="102.5" y2="218.92" stroke="#3a3a3a" stroke-width="0.8"/>
<line x1="100.7" y1="186.22" x2="102.5" y2="186.22" stroke="#3a3a3a" stroke-width="0.8"/>
<line x1="100.7" y1="291.89" x2="102.5" y2="291.89" stroke="#3a3a3a" stroke-width="0.8"/>
<line x1="100.7" y1="252.24" x2="102.5" y2="252.24" stroke="#3a3a3a" stroke-width="0.8"/>
<line x1="100.7" y1="216.78" x2="102.5" y2="216.78" stroke="#3a3a3a" stroke-width="0.8"/>
<line x1="100.7" y1="184.37" x2="102.5" y2="184.37" stroke="#3a3a3a" stroke-width="0.8"/>
<line x1="100.7" y1="293.01" x2="102.5" y2="293.01" stroke="#3a3a3a" stroke-width="0.8"/>
<line x1="100.7" y1="251.12" x2="102.5" y2="251.12" stroke="#3a3a3a" stroke-width="0.8"/>
<line x1="100.7" y1="214.89" x2="102.5" y2="214.89" stroke="#3a3a3a" stroke-width="0.8"/>
<line x1="100.7" y1="182.73" x2="102.5" y2="182.73" stroke="#3a3a3a" stroke-width="0.8"/>
<line x1="110.5" y1="302" x2="110.5" y2="305.2" stroke="#3a3a3a" stroke-width="0.8"/>
<line x1="132.5" y1="302" x2="132.5" y2="305.2" stroke="#3a3a3a" stroke-width="0.8"/>
<line x1="154.5" y1="302" x2="154.5" y2="305.2" stroke="#3a3a3a" stroke-width="0.8"/>
<line x1="191.5" y1="302" x2="191.5" y2="305.2" stroke="#3a3a3a" stroke-width="0.8"/>
<line x1="223.5" y1="302" x2="223.5" y2="305.2" stroke="#3a3a3a" stroke-width="0.8"/>
<line x1="125.88" y1="302" x2="125.88" y2="303.8" stroke="#3a3a3a" stroke-width="0.8"/>
<line x1="139.12" y1="302" x2="139.12" y2="303.8" stroke="#3a3a3a" stroke-width="0.8"/>
<line x1="165.64" y1="302" x2="165.64" y2="303.8" stroke="#3a3a3a" stroke-width="0.8"/>
<line x1="201.13" y1="302" x2="201.13" y2="303.8" stroke="#3a3a3a" stroke-width="0.8"/>
<line x1="233.13" y1="302" x2="233.13" y2="303.8" stroke="#3a3a3a" stroke-width="0.8"/>
<line x1="122" y1="302" x2="122" y2="303.8" stroke="#3a3a3a" stroke-width="0.8"/>
<line x1="143" y1="302" x2="143" y2="303.8" stroke="#3a3a3a" stroke-width="0.8"/>
<line x1="172.15" y1="302" x2="172.15" y2="303.8" stroke="#3a3a3a" stroke-width="0.8"/>
<line x1="206.77" y1="302" x2="206.77" y2="303.8" stroke="#3a3a3a" stroke-width="0.8"/>
<line x1="119.25" y1="302" x2="119.25" y2="303.8" stroke="#3a3a3a" stroke-width="0.8"/>
<line x1="145.75" y1="302" x2="145.75" y2="303.8" stroke="#3a3a3a" stroke-width="0.8"/>
<line x1="176.78" y1="302" x2="176.78" y2="303.8" stroke="#3a3a3a" stroke-width="0.8"/>
<line x1="210.77" y1="302" x2="210.77" y2="303.8" stroke="#3a3a3a" stroke-width="0.8"/>
<line x1="117.12" y1="302" x2="117.12" y2="303.8" stroke="#3a3a3a" stroke-width="0.8"/>
<line x1="147.88" y1="302" x2="147.88" y2="303.8" stroke="#3a3a3a" stroke-width="0.8"/>
<line x1="180.36" y1="302" x2="180.36" y2="303.8" stroke="#3a3a3a" stroke-width="0.8"/>
<line x1="213.87" y1="302" x2="213.87" y2="303.8" stroke="#3a3a3a" stroke-width="0.8"/>
<line x1="115.38" y1="302" x2="115.38" y2="303.8" stroke="#3a3a3a" stroke-width="0.8"/>
<line x1="149.62" y1="302" x2="149.62" y2="303.8" stroke="#3a3a3a" stroke-width="0.8"/>
<line x1="183.29" y1="302" x2="183.29" y2="303.8" stroke="#3a3a3a" stroke-width="0.8"/>
<line x1="216.4" y1="302" x2="216.4" y2="303.8" stroke="#3a3a3a" stroke-width="0.8"/>
<line x1="113.91" y1="302" x2="113.91" y2="303.8" stroke="#3a3a3a" stroke-width="0.8"/>
<line x1="151.09" y1="302" x2="151.09" y2="303.8" stroke="#3a3a3a" stroke-width="0.8"/>
<line x1="185.77" y1="302" x2="185.77" y2="303.8" stroke="#3a3a3a" stroke-width="0.8"/>
<line x1="218.54" y1="302" x2="218.54" y2="303.8" stroke="#3a3a3a" stroke-width="0.8"/>
<line x1="112.63" y1="302" x2="112.63" y2="303.8" stroke="#3a3a3a" stroke-width="0.8"/>
<line x1="152.37" y1="302" x2="152.37" y2="303.8" stroke="#3a3a3a" stroke-width="0.8"/>
<line x1="187.91" y1="302" x2="187.91" y2="303.8" stroke="#3a3a3a" stroke-width="0.8"/>
<line x1="220.4" y1="302" x2="220.4" y2="303.8" stroke="#3a3a3a" stroke-width="0.8"/>
<line x1="111.51" y1="302" x2="111.51" y2="303.8" stroke="#3a3a3a" stroke-width="0.8"/>
<line x1="153.49" y1="302" x2="153.49" y2="303.8" stroke="#3a3a3a" stroke-width="0.8"/>
<line x1="189.81" y1="302" x2="189.81" y2="303.8" stroke="#3a3a3a" stroke-width="0.8"/>
<line x1="222.04" y1="302" x2="222.04" y2="303.8" stroke="#3a3a3a" stroke-width="0.8"/>
<rect x="129.5" y="302.5" width="5" height="2.8" fill="#222" stroke="none" stroke-width="1"/>
<rect x="99.5" y="270" width="3" height="5" fill="#222" stroke="none" stroke-width="1"/>
<path d="M156.4,229.33 C156.42,229.11 156.38,228.85 156.49,228.66 C156.6,228.46 156.82,228.28 157.06,228.18 C157.29,228.08 157.63,228.04 157.91,228.07 C158.19,228.09 158.5,228.2 158.73,228.34 C158.96,228.47 159.18,228.65 159.28,228.88 C159.39,229.11 159.38,229.44 159.36,229.7 C159.34,229.96 159.27,230.17 159.18,230.43 C159.1,230.68 159.02,231.01 158.86,231.22 C158.69,231.43 158.4,231.59 158.18,231.69 C157.96,231.8 157.73,231.91 157.53,231.85 C157.33,231.79 157.15,231.55 156.99,231.34 C156.84,231.14 156.73,230.84 156.62,230.62 C156.52,230.39 156.42,230.19 156.38,229.98 C156.34,229.76 156.38,229.55 156.4,229.33Z" stroke="#5e5e5e" stroke-width="0.5" fill="none" />
<path d="M154.5,228.89 C154.56,228.43 154.59,227.9 154.86,227.53 C155.13,227.17 155.64,226.88 156.13,226.69 C156.62,226.51 157.25,226.41 157.81,226.44 C158.38,226.47 159.02,226.62 159.52,226.86 C160.02,227.1 160.57,227.42 160.81,227.89 C161.06,228.37 161.03,229.13 160.99,229.7 C160.96,230.27 160.79,230.75 160.59,231.29 C160.39,231.82 160.16,232.43 159.8,232.89 C159.43,233.36 158.87,233.83 158.4,234.07 C157.93,234.31 157.42,234.46 156.99,234.33 C156.55,234.2 156.11,233.74 155.8,233.29 C155.49,232.84 155.35,232.1 155.13,231.61 C154.92,231.11 154.61,230.75 154.5,230.3 C154.39,229.85 154.44,229.35 154.5,228.89Z" stroke="#5e5e5e" stroke-width="0.5" fill="none" />
<path d="M153.18,228.58 C153.25,227.92 153.15,227.15 153.5,226.59 C153.84,226.04 154.52,225.5 155.23,225.24 C155.94,224.98 156.9,224.96 157.73,225.02 C158.56,225.08 159.51,225.23 160.19,225.6 C160.88,225.97 161.54,226.54 161.85,227.23 C162.17,227.91 162.15,228.93 162.08,229.7 C162.02,230.47 161.73,231.07 161.48,231.83 C161.22,232.58 161.03,233.55 160.55,234.23 C160.07,234.91 159.24,235.57 158.57,235.92 C157.91,236.26 157.17,236.48 156.56,236.29 C155.95,236.09 155.36,235.39 154.91,234.75 C154.45,234.11 154.14,233.17 153.84,232.47 C153.53,231.77 153.19,231.19 153.08,230.55 C152.97,229.9 153.11,229.24 153.18,228.58Z" stroke="#5e5e5e" stroke-width="0.5" fill="none" />
<path d="M152.04,228.32 C152.09,227.49 151.89,226.47 152.3,225.77 C152.72,225.06 153.62,224.4 154.51,224.08 C155.4,223.77 156.63,223.79 157.67,223.87 C158.71,223.95 159.88,224.11 160.75,224.55 C161.63,225 162.54,225.67 162.94,226.53 C163.34,227.39 163.24,228.71 163.17,229.7 C163.1,230.69 162.88,231.54 162.55,232.49 C162.22,233.43 161.83,234.55 161.19,235.36 C160.55,236.18 159.52,237 158.71,237.36 C157.89,237.72 157.05,237.75 156.29,237.53 C155.52,237.31 154.7,236.76 154.13,236.02 C153.55,235.29 153.19,234.01 152.84,233.13 C152.48,232.25 152.12,231.53 151.99,230.73 C151.85,229.93 151.98,229.14 152.04,228.32Z" stroke="#5e5e5e" stroke-width="0.5" fill="none" />
<path d="M150.79,228.03 C150.87,227.05 150.79,225.9 151.31,225.08 C151.84,224.27 152.88,223.59 153.92,223.14 C154.97,222.69 156.32,222.41 157.58,222.41 C158.85,222.41 160.47,222.54 161.52,223.12 C162.57,223.71 163.39,224.83 163.88,225.93 C164.37,227.02 164.49,228.49 164.46,229.7 C164.42,230.91 164.14,232.09 163.68,233.18 C163.22,234.27 162.48,235.29 161.67,236.21 C160.86,237.14 159.81,238.16 158.83,238.73 C157.86,239.3 156.76,239.85 155.82,239.65 C154.88,239.45 153.92,238.47 153.21,237.52 C152.5,236.58 151.98,235.07 151.58,233.97 C151.18,232.87 150.94,231.92 150.81,230.93 C150.67,229.94 150.7,229 150.79,228.03Z" stroke="#5e5e5e" stroke-width="0.5" fill="none" />
<path d="M149.46,227.72 C149.56,226.54 149.33,225.14 149.91,224.12 C150.49,223.09 151.67,222.06 152.94,221.56 C154.21,221.06 156.02,220.96 157.51,221.12 C158.99,221.28 160.59,221.82 161.85,222.5 C163.12,223.17 164.52,223.95 165.1,225.15 C165.67,226.35 165.41,228.28 165.31,229.7 C165.21,231.12 165,232.41 164.49,233.68 C163.99,234.95 163.21,236.12 162.3,237.33 C161.39,238.54 160.17,240.29 159.03,240.92 C157.9,241.54 156.6,241.45 155.51,241.08 C154.41,240.72 153.27,239.81 152.48,238.71 C151.69,237.62 151.32,235.75 150.79,234.49 C150.26,233.24 149.54,232.32 149.32,231.19 C149.1,230.06 149.36,228.9 149.46,227.72Z" stroke="#5e5e5e" stroke-width="0.5" fill="none" />
<path d="M148.17,227.42 C148.31,226.11 148.29,224.59 149.01,223.49 C149.73,222.4 151.08,221.41 152.49,220.83 C153.89,220.25 155.79,219.91 157.45,220.01 C159.1,220.11 161.05,220.63 162.43,221.42 C163.8,222.21 165.09,223.37 165.71,224.75 C166.33,226.13 166.22,228.12 166.16,229.7 C166.1,231.28 165.9,232.77 165.36,234.21 C164.81,235.65 163.92,237.1 162.87,238.35 C161.83,239.6 160.37,241.09 159.11,241.71 C157.84,242.33 156.51,242.39 155.29,242.08 C154.07,241.78 152.72,241 151.77,239.87 C150.82,238.74 150.17,236.71 149.58,235.3 C148.99,233.88 148.44,232.7 148.2,231.38 C147.97,230.07 148.04,228.74 148.17,227.42Z" stroke="#5e5e5e" stroke-width="0.5" fill="none" />
<path d="M147.5,227.27 C147.71,225.8 147.35,224.1 148.08,222.85 C148.81,221.61 150.3,220.38 151.85,219.81 C153.41,219.24 155.59,219.27 157.41,219.42 C159.24,219.57 161.19,219.97 162.81,220.71 C164.42,221.45 166.39,222.36 167.1,223.86 C167.81,225.36 167.27,227.91 167.08,229.7 C166.89,231.49 166.56,232.95 165.97,234.58 C165.37,236.21 164.63,237.99 163.51,239.48 C162.4,240.97 160.7,242.84 159.27,243.52 C157.85,244.19 156.33,243.97 154.97,243.54 C153.61,243.1 152.18,242.18 151.14,240.9 C150.1,239.63 149.46,237.41 148.74,235.86 C148.02,234.31 147.01,233.05 146.8,231.62 C146.6,230.19 147.29,228.73 147.5,227.27Z" stroke="#5e5e5e" stroke-width="0.5" fill="none" />
<path d="M146.46,227.02 C146.68,225.43 146.38,223.61 147.16,222.22 C147.94,220.82 149.45,219.44 151.14,218.66 C152.83,217.89 155.24,217.43 157.3,217.55 C159.37,217.67 161.81,218.37 163.53,219.37 C165.25,220.37 166.8,221.8 167.63,223.52 C168.45,225.24 168.6,227.77 168.46,229.7 C168.32,231.63 167.53,233.32 166.78,235.08 C166.03,236.84 165.19,238.65 163.96,240.28 C162.73,241.9 160.98,243.86 159.39,244.82 C157.8,245.77 155.95,246.42 154.43,246 C152.91,245.59 151.36,243.91 150.27,242.32 C149.18,240.72 148.63,238.18 147.88,236.43 C147.14,234.67 146.04,233.36 145.8,231.79 C145.57,230.23 146.23,228.62 146.46,227.02Z" stroke="#5e5e5e" stroke-width="0.5" fill="none" />
<path d="M144.52,226.58 C144.66,224.86 145.25,223.09 146.24,221.59 C147.23,220.09 148.62,218.32 150.46,217.57 C152.3,216.82 155.04,216.89 157.28,217.07 C159.52,217.26 162.05,217.68 163.9,218.67 C165.74,219.67 167.5,221.22 168.34,223.06 C169.19,224.9 169.11,227.61 168.99,229.7 C168.87,231.79 168.37,233.67 167.62,235.59 C166.87,237.52 165.86,239.5 164.5,241.24 C163.15,242.99 161.2,245.2 159.51,246.05 C157.82,246.91 156.01,246.78 154.35,246.35 C152.7,245.92 150.84,245 149.56,243.49 C148.27,241.97 147.35,239.18 146.65,237.24 C145.96,235.31 145.76,233.64 145.41,231.86 C145.05,230.08 144.38,228.29 144.52,226.58Z" stroke="#5e5e5e" stroke-width="0.5" fill="none" />
<path d="M143.5,226.34 C143.74,224.48 144.28,222.58 145.35,220.97 C146.42,219.36 147.94,217.55 149.91,216.69 C151.89,215.83 154.79,215.65 157.2,215.82 C159.62,215.98 162.43,216.57 164.43,217.68 C166.43,218.8 168.25,220.51 169.2,222.52 C170.14,224.52 170.28,227.46 170.12,229.7 C169.95,231.94 168.99,233.74 168.23,235.97 C167.46,238.19 166.96,241.21 165.52,243.05 C164.08,244.88 161.54,246.03 159.59,246.99 C157.64,247.95 155.54,249.32 153.81,248.82 C152.09,248.32 150.55,245.84 149.25,243.99 C147.95,242.13 146.9,239.65 146.01,237.67 C145.13,235.69 144.36,234 143.94,232.11 C143.52,230.23 143.27,228.2 143.5,226.34Z" stroke="#5e5e5e" stroke-width="0.5" fill="none" />
<path d="M143.32,226.3 C143.53,224.32 143.46,222.11 144.48,220.37 C145.49,218.62 147.28,216.76 149.39,215.85 C151.51,214.94 154.52,214.85 157.15,214.91 C159.79,214.97 162.95,215.11 165.21,216.22 C167.47,217.32 169.82,219.29 170.72,221.54 C171.62,223.79 170.84,227.18 170.61,229.7 C170.38,232.22 170.18,234.4 169.35,236.66 C168.52,238.91 167.21,241.11 165.62,243.23 C164.03,245.34 161.8,248.3 159.81,249.34 C157.82,250.38 155.63,250.01 153.68,249.44 C151.72,248.87 149.55,247.73 148.08,245.9 C146.61,244.07 145.68,240.71 144.86,238.44 C144.05,236.16 143.47,234.26 143.21,232.24 C142.95,230.22 143.11,228.28 143.32,226.3Z" stroke="#5e5e5e" stroke-width="0.5" fill="none" />
<path d="M142.35,226.07 C142.73,223.91 142.39,221.59 143.41,219.63 C144.42,217.66 146.14,215.19 148.43,214.29 C150.71,213.4 154.28,214.03 157.12,214.27 C159.96,214.51 163.17,214.55 165.47,215.74 C167.77,216.93 169.89,219.07 170.94,221.39 C172,223.72 171.9,227.05 171.81,229.7 C171.72,232.35 171.33,234.87 170.39,237.29 C169.45,239.72 167.94,242.04 166.2,244.25 C164.45,246.46 162.08,249.36 159.92,250.55 C157.76,251.74 155.35,251.96 153.25,251.38 C151.16,250.8 148.91,249.13 147.36,247.07 C145.82,245.01 145.03,241.43 143.99,239.02 C142.96,236.6 141.43,234.75 141.16,232.59 C140.89,230.43 141.98,228.23 142.35,226.07Z" stroke="#5e5e5e" stroke-width="0.5" fill="none" />
<path d="M140.76,225.7 C140.89,223.39 140.86,220.72 142.07,218.71 C143.28,216.69 145.53,214.69 148.01,213.63 C150.5,212.58 153.97,212.24 157.01,212.36 C160.04,212.48 163.8,212.91 166.21,214.36 C168.62,215.8 170.44,218.49 171.48,221.05 C172.52,223.61 172.54,226.94 172.44,229.7 C172.34,232.46 171.78,234.9 170.9,237.6 C170.02,240.31 168.96,243.61 167.15,245.93 C165.33,248.26 162.35,250.52 160.01,251.55 C157.67,252.57 155.32,252.65 153.1,252.09 C150.87,251.53 148.29,250.32 146.67,248.21 C145.04,246.1 144.27,242.03 143.37,239.43 C142.47,236.82 141.68,234.86 141.25,232.58 C140.81,230.29 140.62,228.02 140.76,225.7Z" stroke="#5e5e5e" stroke-width="0.5" fill="none" />
<path d="M140.31,225.6 C140.74,223.21 140.69,220.74 141.86,218.56 C143.03,216.38 144.81,213.57 147.34,212.54 C149.86,211.52 153.8,212.2 157.01,212.39 C160.21,212.58 163.88,212.42 166.57,213.68 C169.26,214.94 171.85,217.3 173.16,219.97 C174.46,222.64 174.58,226.65 174.38,229.7 C174.18,232.75 173.12,235.47 171.96,238.25 C170.79,241.03 169.36,243.91 167.39,246.37 C165.42,248.83 162.61,251.65 160.15,253 C157.68,254.34 154.9,255.11 152.58,254.44 C150.26,253.76 147.9,251.33 146.23,248.92 C144.55,246.52 143.68,242.66 142.52,240 C141.36,237.33 139.64,235.31 139.27,232.92 C138.9,230.52 139.88,227.99 140.31,225.6Z" stroke="#5e5e5e" stroke-width="0.5" fill="none" />
<path d="M139.25,225.35 C139.66,222.78 139.37,220.03 140.58,217.68 C141.79,215.32 143.79,212.35 146.51,211.22 C149.24,210.09 153.55,210.52 156.92,210.89 C160.29,211.25 163.9,211.96 166.72,213.39 C169.55,214.83 172.58,216.79 173.89,219.5 C175.19,222.22 174.9,226.59 174.55,229.7 C174.2,232.81 172.96,235.32 171.8,238.16 C170.64,240.99 169.53,244.16 167.59,246.73 C165.66,249.3 162.71,252.23 160.2,253.57 C157.69,254.91 154.98,255.32 152.51,254.78 C150.04,254.24 147.16,252.71 145.36,250.33 C143.56,247.96 142.93,243.39 141.72,240.53 C140.51,237.66 138.51,235.64 138.1,233.12 C137.69,230.59 138.84,227.93 139.25,225.35Z" stroke="#5e5e5e" stroke-width="0.5" fill="none" />
<path d="M137.07,224.85 C137.4,222.14 138.04,219.37 139.52,216.94 C140.99,214.51 143.04,211.52 145.92,210.27 C148.81,209.02 153.27,209.12 156.84,209.45 C160.41,209.78 164.47,210.59 167.34,212.25 C170.2,213.91 172.68,216.51 174.02,219.42 C175.37,222.33 175.49,226.39 175.42,229.7 C175.35,233.01 174.75,236.15 173.6,239.26 C172.45,242.37 170.73,245.79 168.51,248.36 C166.3,250.93 163.02,253.37 160.3,254.67 C157.58,255.97 154.72,256.84 152.21,256.17 C149.69,255.49 147.06,253.15 145.18,250.63 C143.31,248.1 142.24,243.93 140.96,241.03 C139.68,238.13 138.17,235.91 137.53,233.21 C136.88,230.52 136.74,227.56 137.07,224.85Z" stroke="#5e5e5e" stroke-width="0.5" fill="none" />
<path d="M137.45,224.94 C137.65,222.03 136.54,218.28 137.99,215.89 C139.43,213.5 142.99,211.65 146.13,210.6 C149.27,209.55 153.22,209.46 156.85,209.57 C160.47,209.67 164.87,209.7 167.87,211.25 C170.88,212.8 173.36,215.8 174.87,218.88 C176.37,221.95 177.06,226.28 176.89,229.7 C176.72,233.12 175.16,236.15 173.84,239.41 C172.53,242.67 171.23,246.27 169.01,249.25 C166.79,252.22 163.37,255.95 160.54,257.26 C157.7,258.57 154.71,257.95 152,257.09 C149.29,256.24 146.36,254.63 144.27,252.12 C142.18,249.61 140.71,245.16 139.46,242.03 C138.21,238.9 137.11,236.19 136.78,233.34 C136.44,230.49 137.25,227.85 137.45,224.94Z" stroke="#5e5e5e" stroke-width="0.5" fill="none" />
<path d="M134.85,224.34 C135.31,221.44 136.7,218.78 138.37,216.15 C140.04,213.53 141.82,209.86 144.89,208.6 C147.96,207.34 152.85,208.33 156.79,208.57 C160.73,208.8 165.43,208.36 168.53,210.01 C171.64,211.67 174.1,215.24 175.42,218.52 C176.75,221.8 176.62,226.14 176.48,229.7 C176.34,233.26 175.68,236.34 174.58,239.86 C173.48,243.38 172.23,247.91 169.89,250.81 C167.55,253.7 163.59,255.87 160.54,257.23 C157.49,258.6 154.38,259.71 151.59,258.99 C148.8,258.27 145.85,255.7 143.79,252.9 C141.73,250.1 140.59,245.41 139.23,242.18 C137.87,238.96 136.35,236.52 135.62,233.54 C134.89,230.57 134.39,227.23 134.85,224.34Z" stroke="#5e5e5e" stroke-width="0.5" fill="none" />
<path d="M135.61,224.51 C136.06,221.39 135.32,217.84 136.79,215.06 C138.25,212.28 141.1,209.15 144.42,207.86 C147.75,206.56 152.71,206.91 156.72,207.29 C160.72,207.67 165.24,208.34 168.46,210.15 C171.68,211.95 174.38,214.87 176.03,218.13 C177.67,221.39 178.46,226.02 178.32,229.7 C178.18,233.38 176.52,236.57 175.2,240.24 C173.88,243.91 172.81,248.48 170.4,251.71 C167.99,254.93 163.9,258.29 160.75,259.56 C157.6,260.83 154.5,260.17 151.51,259.32 C148.52,258.48 145.18,257.14 142.81,254.5 C140.45,251.85 138.76,246.91 137.31,243.46 C135.86,240.01 134.39,236.96 134.11,233.8 C133.83,230.64 135.17,227.64 135.61,224.51Z" stroke="#5e5e5e" stroke-width="0.5" fill="none" />
<path d="M137.74,268.52 C138.05,268.23 138.76,268.32 139.28,268.27 C139.8,268.22 140.36,268.11 140.84,268.22 C141.33,268.32 141.72,268.62 142.19,268.91 C142.65,269.19 143.44,269.54 143.64,269.92 C143.83,270.3 143.63,270.91 143.36,271.2 C143.1,271.49 142.48,271.61 142.06,271.67 C141.64,271.74 141.31,271.59 140.84,271.6 C140.36,271.61 139.75,271.8 139.23,271.75 C138.71,271.7 138.04,271.59 137.74,271.3 C137.44,271.01 137.43,270.46 137.43,270 C137.43,269.54 137.44,268.81 137.74,268.52Z" stroke="#777" stroke-width="0.5" fill="none" />
<path d="M136.63,267.79 C137.12,267.32 138.03,267.21 138.8,267.13 C139.58,267.05 140.49,267.11 141.27,267.3 C142.05,267.49 142.78,267.84 143.46,268.27 C144.15,268.7 145.01,269.26 145.37,269.88 C145.73,270.51 146,271.56 145.65,272.02 C145.29,272.47 143.95,272.54 143.23,272.63 C142.51,272.71 142.05,272.53 141.32,272.53 C140.59,272.53 139.66,272.69 138.85,272.61 C138.04,272.52 136.97,272.46 136.47,272.03 C135.98,271.59 135.85,270.71 135.88,270 C135.91,269.29 136.15,268.27 136.63,267.79Z" stroke="#777" stroke-width="0.5" fill="none" />
<path d="M135.09,266.78 C135.84,266.1 137.14,266 138.28,265.86 C139.41,265.73 140.77,265.72 141.89,265.99 C143.01,266.26 143.98,266.85 145.01,267.49 C146.05,268.13 147.62,268.93 148.11,269.83 C148.61,270.72 148.56,272.19 147.98,272.85 C147.4,273.51 145.64,273.62 144.64,273.77 C143.64,273.92 143.03,273.72 141.97,273.76 C140.9,273.79 139.41,274.11 138.25,273.97 C137.09,273.82 135.77,273.52 135.02,272.86 C134.28,272.2 133.76,271.01 133.77,270 C133.78,268.99 134.34,267.47 135.09,266.78Z" stroke="#777" stroke-width="0.5" fill="none" />
<path d="M132.94,265.37 C133.91,264.44 136.04,264.55 137.66,264.38 C139.28,264.21 141.15,263.96 142.67,264.34 C144.19,264.71 145.43,265.71 146.76,266.62 C148.08,267.53 149.97,268.58 150.62,269.77 C151.27,270.97 151.34,272.89 150.65,273.8 C149.96,274.72 147.81,275.06 146.47,275.25 C145.13,275.45 144.09,274.97 142.62,275 C141.14,275.02 139.17,275.6 137.62,275.4 C136.07,275.21 134.29,274.74 133.32,273.84 C132.35,272.94 131.87,271.41 131.8,270 C131.74,268.59 131.96,266.31 132.94,265.37Z" stroke="#777" stroke-width="0.5" fill="none" />
<path d="M131.03,264.12 C132.36,262.96 135.07,263.18 137.1,263.03 C139.12,262.88 141.27,262.78 143.2,263.21 C145.13,263.65 146.88,264.58 148.67,265.66 C150.47,266.74 153.01,268.12 153.96,269.7 C154.92,271.28 155.37,274 154.38,275.14 C153.39,276.27 149.89,276.34 148.04,276.53 C146.18,276.71 145.11,276.2 143.27,276.25 C141.43,276.3 138.96,277.03 137,276.8 C135.04,276.57 132.84,276.01 131.52,274.87 C130.21,273.74 129.21,271.79 129.12,270 C129.04,268.21 129.7,265.29 131.03,264.12Z" stroke="#777" stroke-width="0.5" fill="none" />
<path d="M176.84,260 C176.94,259.9 177.11,259.8 177.27,259.77 C177.43,259.74 177.65,259.74 177.79,259.83 C177.93,259.92 178.04,260.15 178.11,260.31 C178.17,260.47 178.18,260.61 178.19,260.8 C178.19,260.98 178.16,261.23 178.13,261.41 C178.11,261.59 178.16,261.72 178.05,261.88 C177.94,262.04 177.7,262.28 177.49,262.36 C177.28,262.43 176.99,262.36 176.79,262.35 C176.59,262.33 176.48,262.29 176.31,262.26 C176.13,262.23 175.87,262.24 175.74,262.17 C175.61,262.11 175.55,261.99 175.54,261.85 C175.52,261.71 175.55,261.45 175.64,261.33 C175.73,261.21 175.96,261.19 176.09,261.15 C176.22,261.1 176.32,261.2 176.42,261.07 C176.51,260.94 176.61,260.56 176.68,260.38 C176.75,260.2 176.74,260.1 176.84,260Z" stroke="#777" stroke-width="0.5" fill="none" />
<path d="M176.14,258.49 C176.39,258.22 176.84,257.88 177.22,257.84 C177.61,257.8 178.08,258.01 178.45,258.24 C178.82,258.46 179.24,258.81 179.43,259.18 C179.62,259.56 179.59,260.01 179.57,260.48 C179.55,260.95 179.38,261.52 179.32,261.98 C179.26,262.44 179.46,262.81 179.2,263.24 C178.95,263.67 178.36,264.32 177.81,264.56 C177.26,264.8 176.41,264.74 175.91,264.67 C175.41,264.6 175.24,264.27 174.83,264.14 C174.41,264.02 173.78,264.07 173.41,263.92 C173.04,263.78 172.66,263.62 172.6,263.27 C172.54,262.92 172.78,262.16 173.05,261.84 C173.32,261.53 173.88,261.49 174.23,261.37 C174.59,261.26 174.95,261.5 175.19,261.17 C175.44,260.85 175.57,259.87 175.73,259.43 C175.89,258.98 175.9,258.75 176.14,258.49Z" stroke="#777" stroke-width="0.5" fill="none" />
<path d="M175.33,256.72 C175.73,256.25 176.51,255.73 177.17,255.65 C177.82,255.58 178.63,255.92 179.26,256.3 C179.88,256.68 180.59,257.29 180.9,257.93 C181.21,258.56 181.12,259.31 181.12,260.12 C181.13,260.93 181.06,262.03 180.93,262.77 C180.8,263.52 180.81,263.89 180.35,264.58 C179.88,265.28 179.02,266.57 178.15,266.94 C177.28,267.3 175.98,266.85 175.11,266.78 C174.24,266.72 173.64,266.7 172.93,266.55 C172.21,266.4 171.42,266.15 170.82,265.87 C170.22,265.59 169.4,265.44 169.3,264.86 C169.21,264.29 169.82,262.93 170.26,262.4 C170.69,261.87 171.37,261.84 171.91,261.66 C172.46,261.47 173.03,261.84 173.51,261.31 C173.98,260.78 174.48,259.25 174.78,258.48 C175.09,257.72 174.94,257.2 175.33,256.72Z" stroke="#777" stroke-width="0.5" fill="none" />
<path d="M174.47,254.84 C175.07,254.2 176.16,253.5 177.11,253.37 C178.06,253.24 179.33,253.49 180.19,254.06 C181.05,254.62 181.88,255.8 182.27,256.76 C182.66,257.71 182.51,258.67 182.53,259.8 C182.56,260.92 182.58,262.44 182.44,263.51 C182.31,264.58 182.38,265.18 181.73,266.2 C181.07,267.23 179.82,269.09 178.54,269.65 C177.25,270.22 175.27,269.76 174.04,269.62 C172.8,269.48 172.12,269.12 171.14,268.82 C170.17,268.52 169.03,268.24 168.2,267.84 C167.36,267.44 166.36,267.19 166.12,266.4 C165.89,265.61 166.16,263.84 166.78,263.09 C167.41,262.34 168.98,262.18 169.87,261.91 C170.75,261.63 171.49,262.21 172.1,261.42 C172.7,260.64 173.11,258.3 173.5,257.2 C173.9,256.1 173.87,255.48 174.47,254.84Z" stroke="#777" stroke-width="0.5" fill="none" />
<path d="M173.58,252.91 C174.35,252.15 175.84,251.63 177.06,251.53 C178.29,251.42 179.77,251.65 180.93,252.27 C182.09,252.89 183.48,254.07 184.03,255.26 C184.57,256.45 184.24,257.92 184.21,259.41 C184.19,260.9 184.05,262.8 183.88,264.21 C183.7,265.62 183.97,266.51 183.14,267.87 C182.32,269.23 180.62,271.61 178.93,272.38 C177.23,273.14 174.55,272.68 172.96,272.46 C171.37,272.24 170.64,271.48 169.38,271.06 C168.12,270.64 166.6,270.4 165.42,269.93 C164.23,269.47 162.58,269.3 162.26,268.27 C161.95,267.24 162.59,264.76 163.51,263.74 C164.43,262.72 166.65,262.52 167.79,262.16 C168.93,261.8 169.58,262.58 170.35,261.57 C171.12,260.56 171.87,257.55 172.4,256.1 C172.94,254.66 172.8,253.67 173.58,252.91Z" stroke="#777" stroke-width="0.5" fill="none" />
<path d="M172.74,251.08 C173.65,250 175.42,249.08 176.99,248.78 C178.57,248.48 180.75,248.42 182.17,249.28 C183.6,250.15 184.93,252.33 185.56,253.95 C186.18,255.57 185.97,257.19 185.92,259.02 C185.88,260.84 185.53,263.15 185.3,264.9 C185.07,266.65 185.56,267.91 184.55,269.53 C183.54,271.14 181.31,273.77 179.24,274.61 C177.18,275.45 174.12,274.76 172.17,274.56 C170.21,274.36 169.29,273.7 167.53,273.41 C165.77,273.12 162.96,273.43 161.58,272.81 C160.2,272.2 159.46,271.13 159.25,269.73 C159.03,268.32 159.41,265.58 160.3,264.38 C161.19,263.18 163.22,262.99 164.59,262.55 C165.95,262.11 167.33,262.94 168.49,261.72 C169.64,260.5 170.81,256.99 171.52,255.22 C172.22,253.44 171.82,252.15 172.74,251.08Z" stroke="#777" stroke-width="0.5" fill="none" />
<polygon points="122.3,217 141.3,199.7 177.3,206.3 178,243 155.3,261.7 128,255.7" stroke="#222" stroke-width="1" fill="none" stroke-linejoin="miter"/>
<polygon points="179.3,207 195.3,211.7 195.3,244.3 180.7,242.3" stroke="#222" stroke-width="1" fill="none" stroke-linejoin="miter"/>
<circle cx="185.4" cy="215.61" r="0.45" fill="#777"/>
<circle cx="181.96" cy="241.09" r="0.45" fill="#777"/>
<circle cx="188.55" cy="232.74" r="0.45" fill="#777"/>
<circle cx="188.15" cy="221.31" r="0.45" fill="#777"/>
<circle cx="191.01" cy="228.5" r="0.45" fill="#777"/>
<circle cx="191.8" cy="231.68" r="0.45" fill="#777"/>
<circle cx="192.73" cy="223.39" r="0.45" fill="#777"/>
<circle cx="181.78" cy="212.59" r="0.45" fill="#777"/>
<circle cx="182.28" cy="246.44" r="0.45" fill="#777"/>
<circle cx="167.7" cy="254.69" r="0.45" fill="#777"/>
<circle cx="186.16" cy="273.55" r="0.45" fill="#777"/>
<circle cx="192.39" cy="249.02" r="0.45" fill="#777"/>
<circle cx="165.45" cy="266.42" r="0.45" fill="#777"/>
<circle cx="165.52" cy="269.91" r="0.45" fill="#777"/>
<circle cx="188.93" cy="274.44" r="0.45" fill="#777"/>
<circle cx="194.99" cy="259.4" r="0.45" fill="#777"/>
<circle cx="190.6" cy="270.52" r="0.45" fill="#777"/>
<circle cx="188.99" cy="275.76" r="0.45" fill="#777"/>
<circle cx="146.15" cy="280.93" r="0.45" fill="#777"/>
<circle cx="126.57" cy="270.37" r="0.45" fill="#777"/>
<circle cx="137.17" cy="282.67" r="0.45" fill="#777"/>
<circle cx="142.41" cy="279.83" r="0.45" fill="#777"/>
<circle cx="139.02" cy="262.86" r="0.45" fill="#777"/>
<circle cx="151.53" cy="281.73" r="0.45" fill="#777"/>
<polygon points="179.3,245.4 196.7,247.7 196.7,286.7 157.3,287 156.7,263" stroke="#222" stroke-width="1" fill="none" stroke-linejoin="miter"/>
<polygon points="127.3,257.7 155.3,264.3 156,286.7 128.7,287 126,269.7" stroke="#222" stroke-width="1" fill="none" stroke-linejoin="miter"/>
<text x="104.5" y="193.9" font-size="13" fill="#111" textLength="61.6" lengthAdjust="spacingAndGlyphs">79.5 ± 2.8</text>
<text x="202.8" y="222.1" font-size="13" fill="#111" textLength="17.3" lengthAdjust="spacingAndGlyphs">4.5</text>
<text x="202.8" y="235.4" font-size="13" fill="#111" textLength="29.7" lengthAdjust="spacingAndGlyphs">± 3.2</text>
<text x="103.9" y="284.6" font-size="13" fill="#111" textLength="17.3" lengthAdjust="spacingAndGlyphs">3.2</text>
<text x="103.9" y="299.2" font-size="13" fill="#111" textLength="30.3" lengthAdjust="spacingAndGlyphs">± 1.6</text>
<text x="180.3" y="299.2" font-size="13" fill="#000" font-weight="bold" textLength="53.9" lengthAdjust="spacingAndGlyphs">5.9 ± 1.8</text>
<text x="321.5" y="26.5" font-size="14.8" fill="#000" font-weight="bold" text-anchor="middle" textLength="36" lengthAdjust="spacingAndGlyphs">MZ B</text>
<line x1="256.2" y1="29.3" x2="390.8" y2="29.3" stroke="#8a8a8a" stroke-width="0.9"/>
<line x1="390.8" y1="29.3" x2="390.8" y2="162.6" stroke="#8a8a8a" stroke-width="0.9"/>
<line x1="256.2" y1="28.85" x2="256.2" y2="163.05" stroke="#333" stroke-width="1"/>
<line x1="256.2" y1="162.6" x2="390.8" y2="162.6" stroke="#333" stroke-width="1"/>
<line x1="252.7" y1="162.6" x2="256.2" y2="162.6" stroke="#333" stroke-width="0.9"/>
<line x1="253.9" y1="156.18" x2="256.2" y2="156.18" stroke="#333" stroke-width="0.9"/>
<line x1="253.9" y1="149.76" x2="256.2" y2="149.76" stroke="#333" stroke-width="0.9"/>
<line x1="253.9" y1="143.34" x2="256.2" y2="143.34" stroke="#333" stroke-width="0.9"/>
<line x1="252.7" y1="136.92" x2="256.2" y2="136.92" stroke="#333" stroke-width="0.9"/>
<line x1="253.9" y1="130.5" x2="256.2" y2="130.5" stroke="#333" stroke-width="0.9"/>
<line x1="253.9" y1="124.08" x2="256.2" y2="124.08" stroke="#333" stroke-width="0.9"/>
<line x1="253.9" y1="117.66" x2="256.2" y2="117.66" stroke="#333" stroke-width="0.9"/>
<line x1="252.7" y1="111.24" x2="256.2" y2="111.24" stroke="#333" stroke-width="0.9"/>
<line x1="253.9" y1="104.82" x2="256.2" y2="104.82" stroke="#333" stroke-width="0.9"/>
<line x1="253.9" y1="98.4" x2="256.2" y2="98.4" stroke="#333" stroke-width="0.9"/>
<line x1="253.9" y1="91.98" x2="256.2" y2="91.98" stroke="#333" stroke-width="0.9"/>
<line x1="252.7" y1="85.56" x2="256.2" y2="85.56" stroke="#333" stroke-width="0.9"/>
<line x1="253.9" y1="79.14" x2="256.2" y2="79.14" stroke="#333" stroke-width="0.9"/>
<line x1="253.9" y1="72.72" x2="256.2" y2="72.72" stroke="#333" stroke-width="0.9"/>
<line x1="253.9" y1="66.3" x2="256.2" y2="66.3" stroke="#333" stroke-width="0.9"/>
<line x1="252.7" y1="59.88" x2="256.2" y2="59.88" stroke="#333" stroke-width="0.9"/>
<line x1="253.9" y1="53.46" x2="256.2" y2="53.46" stroke="#333" stroke-width="0.9"/>
<line x1="253.9" y1="47.04" x2="256.2" y2="47.04" stroke="#333" stroke-width="0.9"/>
<line x1="253.9" y1="40.62" x2="256.2" y2="40.62" stroke="#333" stroke-width="0.9"/>
<line x1="252.7" y1="34.2" x2="256.2" y2="34.2" stroke="#333" stroke-width="0.9"/>
<line x1="264.24" y1="162.6" x2="264.24" y2="165.8" stroke="#3a3a3a" stroke-width="0.8"/>
<line x1="286.33" y1="162.6" x2="286.33" y2="165.8" stroke="#3a3a3a" stroke-width="0.8"/>
<line x1="308.43" y1="162.6" x2="308.43" y2="165.8" stroke="#3a3a3a" stroke-width="0.8"/>
<line x1="345.6" y1="162.6" x2="345.6" y2="165.8" stroke="#3a3a3a" stroke-width="0.8"/>
<line x1="377.74" y1="162.6" x2="377.74" y2="165.8" stroke="#3a3a3a" stroke-width="0.8"/>
<line x1="279.68" y1="162.6" x2="279.68" y2="164.4" stroke="#3a3a3a" stroke-width="0.8"/>
<line x1="292.99" y1="162.6" x2="292.99" y2="164.4" stroke="#3a3a3a" stroke-width="0.8"/>
<line x1="319.62" y1="162.6" x2="319.62" y2="164.4" stroke="#3a3a3a" stroke-width="0.8"/>
<line x1="355.27" y1="162.6" x2="355.27" y2="164.4" stroke="#3a3a3a" stroke-width="0.8"/>
<line x1="387.42" y1="162.6" x2="387.42" y2="164.4" stroke="#3a3a3a" stroke-width="0.8"/>
<line x1="275.79" y1="162.6" x2="275.79" y2="164.4" stroke="#3a3a3a" stroke-width="0.8"/>
<line x1="296.88" y1="162.6" x2="296.88" y2="164.4" stroke="#3a3a3a" stroke-width="0.8"/>
<line x1="326.17" y1="162.6" x2="326.17" y2="164.4" stroke="#3a3a3a" stroke-width="0.8"/>
<line x1="360.93" y1="162.6" x2="360.93" y2="164.4" stroke="#3a3a3a" stroke-width="0.8"/>
<line x1="273.03" y1="162.6" x2="273.03" y2="164.4" stroke="#3a3a3a" stroke-width="0.8"/>
<line x1="299.64" y1="162.6" x2="299.64" y2="164.4" stroke="#3a3a3a" stroke-width="0.8"/>
<line x1="330.81" y1="162.6" x2="330.81" y2="164.4" stroke="#3a3a3a" stroke-width="0.8"/>
<line x1="364.95" y1="162.6" x2="364.95" y2="164.4" stroke="#3a3a3a" stroke-width="0.8"/>
<line x1="270.89" y1="162.6" x2="270.89" y2="164.4" stroke="#3a3a3a" stroke-width="0.8"/>
<line x1="301.78" y1="162.6" x2="301.78" y2="164.4" stroke="#3a3a3a" stroke-width="0.8"/>
<line x1="334.41" y1="162.6" x2="334.41" y2="164.4" stroke="#3a3a3a" stroke-width="0.8"/>
<line x1="368.07" y1="162.6" x2="368.07" y2="164.4" stroke="#3a3a3a" stroke-width="0.8"/>
<line x1="269.14" y1="162.6" x2="269.14" y2="164.4" stroke="#3a3a3a" stroke-width="0.8"/>
<line x1="303.53" y1="162.6" x2="303.53" y2="164.4" stroke="#3a3a3a" stroke-width="0.8"/>
<line x1="337.35" y1="162.6" x2="337.35" y2="164.4" stroke="#3a3a3a" stroke-width="0.8"/>
<line x1="370.61" y1="162.6" x2="370.61" y2="164.4" stroke="#3a3a3a" stroke-width="0.8"/>
<line x1="267.66" y1="162.6" x2="267.66" y2="164.4" stroke="#3a3a3a" stroke-width="0.8"/>
<line x1="305.01" y1="162.6" x2="305.01" y2="164.4" stroke="#3a3a3a" stroke-width="0.8"/>
<line x1="339.84" y1="162.6" x2="339.84" y2="164.4" stroke="#3a3a3a" stroke-width="0.8"/>
<line x1="372.76" y1="162.6" x2="372.76" y2="164.4" stroke="#3a3a3a" stroke-width="0.8"/>
<line x1="266.38" y1="162.6" x2="266.38" y2="164.4" stroke="#3a3a3a" stroke-width="0.8"/>
<line x1="306.29" y1="162.6" x2="306.29" y2="164.4" stroke="#3a3a3a" stroke-width="0.8"/>
<line x1="342" y1="162.6" x2="342" y2="164.4" stroke="#3a3a3a" stroke-width="0.8"/>
<line x1="374.63" y1="162.6" x2="374.63" y2="164.4" stroke="#3a3a3a" stroke-width="0.8"/>
<line x1="265.25" y1="162.6" x2="265.25" y2="164.4" stroke="#3a3a3a" stroke-width="0.8"/>
<line x1="307.42" y1="162.6" x2="307.42" y2="164.4" stroke="#3a3a3a" stroke-width="0.8"/>
<line x1="343.9" y1="162.6" x2="343.9" y2="164.4" stroke="#3a3a3a" stroke-width="0.8"/>
<line x1="376.27" y1="162.6" x2="376.27" y2="164.4" stroke="#3a3a3a" stroke-width="0.8"/>
<rect x="284.7" y="163.1" width="5" height="2.8" fill="#222" stroke="none" stroke-width="1"/>
<text x="258.8" y="43.3" font-size="13.5" fill="#000" font-weight="bold" textLength="26.5" lengthAdjust="spacingAndGlyphs">60.6</text>
<text x="258.8" y="60" font-size="13.5" fill="#000" font-weight="bold" textLength="37.5" lengthAdjust="spacingAndGlyphs">± 25.3</text>
<text x="388.3" y="43.3" font-size="13.5" fill="#000" font-weight="bold" text-anchor="end" textLength="26.5" lengthAdjust="spacingAndGlyphs">39.4</text>
<text x="388.3" y="60" font-size="13.5" fill="#000" font-weight="bold" text-anchor="end" textLength="37.5" lengthAdjust="spacingAndGlyphs">± 25.3</text>
<path d="M276,162.6 C276.38,162.57 277.47,162.75 278.3,162.4 C279.13,162.05 280.02,161.13 281,160.5 C281.98,159.87 283.23,158.68 284.2,158.6 C285.17,158.52 286,159.57 286.8,160 C287.6,160.43 288.18,161.2 289,161.2 C289.82,161.2 290.82,160.43 291.7,160 C292.58,159.57 293.42,158.57 294.3,158.6 C295.18,158.63 296.12,159.67 297,160.2 C297.88,160.73 298.85,162.33 299.6,161.8 C300.35,161.27 300.93,159.3 301.5,157 C302.07,154.7 302.52,151.05 303,148 C303.48,144.95 303.88,142.22 304.4,138.7 C304.92,135.18 305.57,129.48 306.1,126.9 C306.63,124.32 307.1,123.9 307.6,123.2 C308.1,122.5 308.63,122.48 309.1,122.7 C309.57,122.92 310,123.62 310.4,124.5 C310.8,125.38 310.93,125.63 311.5,128 C312.07,130.37 312.92,135.63 313.8,138.7 C314.68,141.77 316,144.43 316.8,146.4 C317.6,148.37 318.02,149.23 318.6,150.5 C319.18,151.77 319.72,153.2 320.3,154 C320.88,154.8 321.4,155.55 322.1,155.3 C322.8,155.05 323.7,153.48 324.5,152.5 C325.3,151.52 326.12,149.4 326.9,149.4 C327.68,149.4 328.42,151.42 329.2,152.5 C329.98,153.58 330.75,156.07 331.6,155.9 C332.45,155.73 333.4,152.88 334.3,151.5 C335.2,150.12 336.22,147.6 337,147.6 C337.78,147.6 338.32,150.22 339,151.5 C339.68,152.78 340.43,153.97 341.1,155.3 C341.77,156.63 342.4,158.28 343,159.5 C343.6,160.72 344.42,162.08 344.7,162.6" stroke="#111" stroke-width="0.9" fill="none" />
<line x1="257" y1="139.6" x2="317.7" y2="139.6" stroke="#111" stroke-width="1.2"/>
<line x1="257" y1="137.1" x2="257" y2="142.1" stroke="#111" stroke-width="1.2"/>
<line x1="317.7" y1="137.1" x2="317.7" y2="142.1" stroke="#111" stroke-width="1.2"/>
<line x1="317.7" y1="148.2" x2="388.6" y2="148.2" stroke="#111" stroke-width="1.2"/>
<line x1="317.7" y1="145.7" x2="317.7" y2="150.7" stroke="#111" stroke-width="1.2"/>
<line x1="388.6" y1="145.7" x2="388.6" y2="150.7" stroke="#111" stroke-width="1.2"/>
<line x1="256.2" y1="168" x2="390.8" y2="168" stroke="#8a8a8a" stroke-width="0.9"/>
<line x1="390.8" y1="168" x2="390.8" y2="302.3" stroke="#8a8a8a" stroke-width="0.9"/>
<line x1="256.2" y1="167.55" x2="256.2" y2="302.75" stroke="#333" stroke-width="1"/>
<line x1="256.2" y1="302.3" x2="390.8" y2="302.3" stroke="#333" stroke-width="1"/>
<line x1="252.7" y1="302.3" x2="256.2" y2="302.3" stroke="#333" stroke-width="0.9"/>
<line x1="253.9" y1="295.88" x2="256.2" y2="295.88" stroke="#333" stroke-width="0.9"/>
<line x1="253.9" y1="289.46" x2="256.2" y2="289.46" stroke="#333" stroke-width="0.9"/>
<line x1="253.9" y1="283.04" x2="256.2" y2="283.04" stroke="#333" stroke-width="0.9"/>
<line x1="252.7" y1="276.62" x2="256.2" y2="276.62" stroke="#333" stroke-width="0.9"/>
<line x1="253.9" y1="270.2" x2="256.2" y2="270.2" stroke="#333" stroke-width="0.9"/>
<line x1="253.9" y1="263.78" x2="256.2" y2="263.78" stroke="#333" stroke-width="0.9"/>
<line x1="253.9" y1="257.36" x2="256.2" y2="257.36" stroke="#333" stroke-width="0.9"/>
<line x1="252.7" y1="250.94" x2="256.2" y2="250.94" stroke="#333" stroke-width="0.9"/>
<line x1="253.9" y1="244.52" x2="256.2" y2="244.52" stroke="#333" stroke-width="0.9"/>
<line x1="253.9" y1="238.1" x2="256.2" y2="238.1" stroke="#333" stroke-width="0.9"/>
<line x1="253.9" y1="231.68" x2="256.2" y2="231.68" stroke="#333" stroke-width="0.9"/>
<line x1="252.7" y1="225.26" x2="256.2" y2="225.26" stroke="#333" stroke-width="0.9"/>
<line x1="253.9" y1="218.84" x2="256.2" y2="218.84" stroke="#333" stroke-width="0.9"/>
<line x1="253.9" y1="212.42" x2="256.2" y2="212.42" stroke="#333" stroke-width="0.9"/>
<line x1="253.9" y1="206" x2="256.2" y2="206" stroke="#333" stroke-width="0.9"/>
<line x1="252.7" y1="199.58" x2="256.2" y2="199.58" stroke="#333" stroke-width="0.9"/>
<line x1="253.9" y1="193.16" x2="256.2" y2="193.16" stroke="#333" stroke-width="0.9"/>
<line x1="253.9" y1="186.74" x2="256.2" y2="186.74" stroke="#333" stroke-width="0.9"/>
<line x1="253.9" y1="180.32" x2="256.2" y2="180.32" stroke="#333" stroke-width="0.9"/>
<line x1="252.7" y1="173.9" x2="256.2" y2="173.9" stroke="#333" stroke-width="0.9"/>
<line x1="264.24" y1="302.3" x2="264.24" y2="305.5" stroke="#3a3a3a" stroke-width="0.8"/>
<line x1="286.33" y1="302.3" x2="286.33" y2="305.5" stroke="#3a3a3a" stroke-width="0.8"/>
<line x1="308.43" y1="302.3" x2="308.43" y2="305.5" stroke="#3a3a3a" stroke-width="0.8"/>
<line x1="345.6" y1="302.3" x2="345.6" y2="305.5" stroke="#3a3a3a" stroke-width="0.8"/>
<line x1="377.74" y1="302.3" x2="377.74" y2="305.5" stroke="#3a3a3a" stroke-width="0.8"/>
<line x1="279.68" y1="302.3" x2="279.68" y2="304.1" stroke="#3a3a3a" stroke-width="0.8"/>
<line x1="292.99" y1="302.3" x2="292.99" y2="304.1" stroke="#3a3a3a" stroke-width="0.8"/>
<line x1="319.62" y1="302.3" x2="319.62" y2="304.1" stroke="#3a3a3a" stroke-width="0.8"/>
<line x1="355.27" y1="302.3" x2="355.27" y2="304.1" stroke="#3a3a3a" stroke-width="0.8"/>
<line x1="387.42" y1="302.3" x2="387.42" y2="304.1" stroke="#3a3a3a" stroke-width="0.8"/>
<line x1="275.79" y1="302.3" x2="275.79" y2="304.1" stroke="#3a3a3a" stroke-width="0.8"/>
<line x1="296.88" y1="302.3" x2="296.88" y2="304.1" stroke="#3a3a3a" stroke-width="0.8"/>
<line x1="326.17" y1="302.3" x2="326.17" y2="304.1" stroke="#3a3a3a" stroke-width="0.8"/>
<line x1="360.93" y1="302.3" x2="360.93" y2="304.1" stroke="#3a3a3a" stroke-width="0.8"/>
<line x1="273.03" y1="302.3" x2="273.03" y2="304.1" stroke="#3a3a3a" stroke-width="0.8"/>
<line x1="299.64" y1="302.3" x2="299.64" y2="304.1" stroke="#3a3a3a" stroke-width="0.8"/>
<line x1="330.81" y1="302.3" x2="330.81" y2="304.1" stroke="#3a3a3a" stroke-width="0.8"/>
<line x1="364.95" y1="302.3" x2="364.95" y2="304.1" stroke="#3a3a3a" stroke-width="0.8"/>
<line x1="270.89" y1="302.3" x2="270.89" y2="304.1" stroke="#3a3a3a" stroke-width="0.8"/>
<line x1="301.78" y1="302.3" x2="301.78" y2="304.1" stroke="#3a3a3a" stroke-width="0.8"/>
<line x1="334.41" y1="302.3" x2="334.41" y2="304.1" stroke="#3a3a3a" stroke-width="0.8"/>
<line x1="368.07" y1="302.3" x2="368.07" y2="304.1" stroke="#3a3a3a" stroke-width="0.8"/>
<line x1="269.14" y1="302.3" x2="269.14" y2="304.1" stroke="#3a3a3a" stroke-width="0.8"/>
<line x1="303.53" y1="302.3" x2="303.53" y2="304.1" stroke="#3a3a3a" stroke-width="0.8"/>
<line x1="337.35" y1="302.3" x2="337.35" y2="304.1" stroke="#3a3a3a" stroke-width="0.8"/>
<line x1="370.61" y1="302.3" x2="370.61" y2="304.1" stroke="#3a3a3a" stroke-width="0.8"/>
<line x1="267.66" y1="302.3" x2="267.66" y2="304.1" stroke="#3a3a3a" stroke-width="0.8"/>
<line x1="305.01" y1="302.3" x2="305.01" y2="304.1" stroke="#3a3a3a" stroke-width="0.8"/>
<line x1="339.84" y1="302.3" x2="339.84" y2="304.1" stroke="#3a3a3a" stroke-width="0.8"/>
<line x1="372.76" y1="302.3" x2="372.76" y2="304.1" stroke="#3a3a3a" stroke-width="0.8"/>
<line x1="266.38" y1="302.3" x2="266.38" y2="304.1" stroke="#3a3a3a" stroke-width="0.8"/>
<line x1="306.29" y1="302.3" x2="306.29" y2="304.1" stroke="#3a3a3a" stroke-width="0.8"/>
<line x1="342" y1="302.3" x2="342" y2="304.1" stroke="#3a3a3a" stroke-width="0.8"/>
<line x1="374.63" y1="302.3" x2="374.63" y2="304.1" stroke="#3a3a3a" stroke-width="0.8"/>
<line x1="265.25" y1="302.3" x2="265.25" y2="304.1" stroke="#3a3a3a" stroke-width="0.8"/>
<line x1="307.42" y1="302.3" x2="307.42" y2="304.1" stroke="#3a3a3a" stroke-width="0.8"/>
<line x1="343.9" y1="302.3" x2="343.9" y2="304.1" stroke="#3a3a3a" stroke-width="0.8"/>
<line x1="376.27" y1="302.3" x2="376.27" y2="304.1" stroke="#3a3a3a" stroke-width="0.8"/>
<rect x="284.7" y="302.8" width="5" height="2.8" fill="#222" stroke="none" stroke-width="1"/>
<text x="258.8" y="181.5" font-size="13.5" fill="#000" font-weight="bold" textLength="26.5" lengthAdjust="spacingAndGlyphs">88.2</text>
<text x="258.8" y="198" font-size="13.5" fill="#000" font-weight="bold" textLength="37.5" lengthAdjust="spacingAndGlyphs">± 11.3</text>
<text x="388.3" y="181.5" font-size="13.5" fill="#000" font-weight="bold" text-anchor="end" textLength="24.5" lengthAdjust="spacingAndGlyphs">11.8</text>
<text x="388.3" y="198" font-size="13.5" fill="#000" font-weight="bold" text-anchor="end" textLength="37.5" lengthAdjust="spacingAndGlyphs">± 11.3</text>
<path d="M275.8,302.3 C276.5,301.83 278.57,300.47 280,299.5 C281.43,298.53 283.07,297.58 284.4,296.5 C285.73,295.42 286.98,294.92 288,293 C289.02,291.08 289.75,290.17 290.5,285 C291.25,279.83 291.62,268.6 292.5,262 C293.38,255.4 294.8,247.07 295.8,245.4 C296.8,243.73 297.53,248.23 298.5,252 C299.47,255.77 300.68,263.83 301.6,268 C302.52,272.17 303.27,274.92 304,277 C304.73,279.08 305.17,279.33 306,280.5 C306.83,281.67 307.95,282.75 309,284 C310.05,285.25 311.3,286.67 312.3,288 C313.3,289.33 314,290.75 315,292 C316,293.25 317.3,295.75 318.3,295.5 C319.3,295.25 320.03,292.15 321,290.5 C321.97,288.85 323.1,285.68 324.1,285.6 C325.1,285.52 326.02,288.27 327,290 C327.98,291.73 328.68,294 330,296 C331.32,298 333.57,301 334.9,302 C336.23,303 336.98,302.37 338,302 C339.02,301.63 340.1,300.27 341,299.8 C341.9,299.33 342.57,299.08 343.4,299.2 C344.23,299.32 345.1,299.98 346,300.5 C346.9,301.02 348.33,302 348.8,302.3" stroke="#111" stroke-width="0.9" fill="none" />
<line x1="260.3" y1="274.4" x2="317" y2="274.4" stroke="#111" stroke-width="1.2"/>
<line x1="260.3" y1="271.9" x2="260.3" y2="276.9" stroke="#111" stroke-width="1.2"/>
<line x1="317" y1="271.9" x2="317" y2="276.9" stroke="#111" stroke-width="1.2"/>
<line x1="317" y1="282.3" x2="387" y2="282.3" stroke="#111" stroke-width="1.2"/>
<line x1="317" y1="279.8" x2="317" y2="284.8" stroke="#111" stroke-width="1.2"/>
<line x1="387" y1="279.8" x2="387" y2="284.8" stroke="#111" stroke-width="1.2"/>
<line x1="258.6" y1="314.1" x2="346" y2="314.1" stroke="#707070" stroke-width="1.6"/>
<line x1="340" y1="314.1" x2="347.1" y2="314.1" stroke="#222" stroke-width="1"/>
<polygon points="353.1,314.1 345.6,311.1 345.6,317.1" stroke="none" stroke-width="0" fill="#000" stroke-linejoin="miter"/>
<text x="356.8" y="317.8" font-size="12.6" fill="#111" textLength="33.2" lengthAdjust="spacingAndGlyphs">CD80</text>
<line x1="451.6" y1="105.55" x2="451.6" y2="242.7" stroke="#333" stroke-width="1"/>
<line x1="451.6" y1="242.7" x2="606.9" y2="242.7" stroke="#333" stroke-width="1"/>
<line x1="448" y1="242.7" x2="451.6" y2="242.7" stroke="#333" stroke-width="1"/>
<text x="446.3" y="247.6" font-size="14.4" fill="#111" text-anchor="end">0</text>
<line x1="448" y1="215.37" x2="451.6" y2="215.37" stroke="#333" stroke-width="1"/>
<text x="446.3" y="220.27" font-size="14.4" fill="#111" text-anchor="end">20</text>
<line x1="448" y1="188.04" x2="451.6" y2="188.04" stroke="#333" stroke-width="1"/>
<text x="446.3" y="192.94" font-size="14.4" fill="#111" text-anchor="end">40</text>
<line x1="448" y1="160.71" x2="451.6" y2="160.71" stroke="#333" stroke-width="1"/>
<text x="446.3" y="165.61" font-size="14.4" fill="#111" text-anchor="end">60</text>
<line x1="448" y1="133.38" x2="451.6" y2="133.38" stroke="#333" stroke-width="1"/>
<text x="446.3" y="138.28" font-size="14.4" fill="#111" text-anchor="end">80</text>
<line x1="448" y1="106.05" x2="451.6" y2="106.05" stroke="#333" stroke-width="1"/>
<text x="446.3" y="110.95" font-size="14.4" fill="#111" text-anchor="end">100</text>
<line x1="490.3" y1="242.7" x2="490.3" y2="246.8" stroke="#333" stroke-width="1"/>
<line x1="567.3" y1="242.7" x2="567.3" y2="246.8" stroke="#333" stroke-width="1"/>
<line x1="473.1" y1="159.89" x2="473.1" y2="125.32" stroke="#222" stroke-width="1.1"/>
<line x1="465.9" y1="125.32" x2="480.3" y2="125.32" stroke="#222" stroke-width="1.1"/>
<rect x="458.7" y="159.89" width="28.8" height="82.81" fill="#fff" stroke="#444" stroke-width="1.2"/>
<line x1="507.4" y1="188.86" x2="507.4" y2="154.29" stroke="#222" stroke-width="1.1"/>
<line x1="500.2" y1="154.29" x2="514.6" y2="154.29" stroke="#222" stroke-width="1.1"/>
<rect x="493" y="188.86" width="28.8" height="53.84" fill="#0a0606" stroke="#0a0606" stroke-width="1"/>
<line x1="550.9" y1="122.17" x2="550.9" y2="106.73" stroke="#222" stroke-width="1.1"/>
<line x1="543.7" y1="106.73" x2="558.1" y2="106.73" stroke="#222" stroke-width="1.1"/>
<rect x="536.5" y="122.17" width="28.8" height="120.53" fill="#fff" stroke="#444" stroke-width="1.2"/>
<line x1="585.1" y1="226.58" x2="585.1" y2="211.13" stroke="#222" stroke-width="1.1"/>
<line x1="577.9" y1="211.13" x2="592.3" y2="211.13" stroke="#222" stroke-width="1.1"/>
<rect x="570.7" y="226.58" width="28.8" height="16.12" fill="#0a0606" stroke="#0a0606" stroke-width="1"/>
<text transform="translate(416.7,174.5) rotate(-90)" x="0" y="0" font-size="12.5" fill="#111" text-anchor="middle" textLength="62.5" lengthAdjust="spacingAndGlyphs">% (/ MZ B)</text>
<text x="463.7" y="261.1" font-size="14" fill="#000" font-weight="bold" textLength="54.6" lengthAdjust="spacingAndGlyphs">T1-MZP</text>
<text x="541.3" y="261.1" font-size="14" fill="#000" font-weight="bold" textLength="53.7" lengthAdjust="spacingAndGlyphs">T2-MZP</text>
<line x1="451.9" y1="266.5" x2="606.9" y2="266.5" stroke="#333" stroke-width="1.1"/>
<text x="487.9" y="281.7" font-size="14" fill="#000" font-weight="bold" textLength="82.5" lengthAdjust="spacingAndGlyphs">Donor cells</text>
<line x1="474.7" y1="73.4" x2="548.7" y2="73.4" stroke="#333" stroke-width="1"/>
<line x1="474.7" y1="72.9" x2="474.7" y2="77.2" stroke="#333" stroke-width="1"/>
<line x1="548.7" y1="72.9" x2="548.7" y2="77.2" stroke="#333" stroke-width="1"/>
<line x1="551" y1="73.4" x2="585.4" y2="73.4" stroke="#333" stroke-width="1"/>
<line x1="551" y1="72.9" x2="551" y2="77.2" stroke="#333" stroke-width="1"/>
<line x1="585.4" y1="72.9" x2="585.4" y2="77.2" stroke="#333" stroke-width="1"/>
<line x1="474.7" y1="99.8" x2="506.8" y2="99.8" stroke="#333" stroke-width="1"/>
<line x1="474.7" y1="99.3" x2="474.7" y2="103.6" stroke="#333" stroke-width="1"/>
<line x1="506.8" y1="99.3" x2="506.8" y2="103.6" stroke="#333" stroke-width="1"/>
<line x1="508.3" y1="99.8" x2="585.9" y2="99.8" stroke="#333" stroke-width="1"/>
<line x1="508.3" y1="99.3" x2="508.3" y2="103.6" stroke="#333" stroke-width="1"/>
<line x1="585.9" y1="99.3" x2="585.9" y2="103.6" stroke="#333" stroke-width="1"/>
<text x="513.9" y="69.7" font-size="14" fill="#000" font-weight="bold" text-anchor="middle" textLength="16.2" lengthAdjust="spacingAndGlyphs">ns</text>
<text x="559.6" y="77.6" font-size="21" fill="#000" font-weight="bold" textLength="16.5" lengthAdjust="spacingAndGlyphs">**</text>
<text x="491" y="96" font-size="14" fill="#000" font-weight="bold" text-anchor="middle" textLength="16.2" lengthAdjust="spacingAndGlyphs">ns</text>
<text x="546.9" y="95.6" font-size="14" fill="#000" font-weight="bold" text-anchor="middle" textLength="16.2" lengthAdjust="spacingAndGlyphs">ns</text>
<rect x="611.9" y="100.5" width="8.6" height="8.6" fill="#fff" stroke="#333" stroke-width="1"/>
<rect x="611.4" y="114.8" width="9.6" height="9.6" fill="#000" stroke="none" stroke-width="1"/>
<text x="626.6" y="109.2" font-size="12.6" fill="#111" textLength="31.6" lengthAdjust="spacingAndGlyphs">CD80</text>
<text x="659.5" y="105.8" font-size="7.4" fill="#111" textLength="11.2" lengthAdjust="spacingAndGlyphs">low</text>
<text x="626.6" y="124" font-size="12.6" fill="#111" textLength="31.6" lengthAdjust="spacingAndGlyphs">CD80</text>
<text x="659.5" y="120.4" font-size="7.4" fill="#111" textLength="14.2" lengthAdjust="spacingAndGlyphs">high</text>
<text x="3.9" y="367.6" font-size="26" fill="#000" font-weight="bold" textLength="16.3" lengthAdjust="spacingAndGlyphs">B</text>
<line x1="45.8" y1="374.3" x2="45.8" y2="657.2" stroke="#333" stroke-width="1.1"/>
<text transform="translate(37.5,516.3) rotate(-90)" x="0" y="0" font-size="15.6" fill="#000" font-weight="bold" text-anchor="middle" textLength="81.8" lengthAdjust="spacingAndGlyphs">Donor cells</text>
<text transform="translate(72.6,484) rotate(-90)" font-size="14.5" font-weight="bold"><tspan fill="#9a1b2f">CD80</tspan><tspan fill="#9a1b2f" font-size="9" dy="-5.6">high</tspan><tspan dy="5.6" fill="#000"> MZ</tspan></text>
<text transform="translate(72.6,620.6) rotate(-90)" font-size="14.5" font-weight="bold"><tspan fill="#1b1b8f">CD80</tspan><tspan fill="#1b1b8f" font-size="9" dy="-5.6">low</tspan><tspan dy="5.6" fill="#000"> MZ</tspan></text>
<text transform="translate(96.4,389) rotate(-90)" x="0" y="0" font-size="13.2" fill="#111" text-anchor="middle" textLength="33.2" lengthAdjust="spacingAndGlyphs">CD23</text>
<line x1="90.8" y1="655.5" x2="90.8" y2="416" stroke="#222" stroke-width="1"/>
<polygon points="90.8,410 87.8,417.5 93.8,417.5" stroke="none" stroke-width="0" fill="#000" stroke-linejoin="miter"/>
<line x1="90.8" y1="655.5" x2="193" y2="655.5" stroke="#333" stroke-width="1"/>
<line x1="90.8" y1="655.5" x2="191.4" y2="655.5" stroke="#222" stroke-width="1"/>
<polygon points="197.4,655.5 189.9,652.5 189.9,658.5" stroke="none" stroke-width="0" fill="#000" stroke-linejoin="miter"/>
<text x="202.8" y="659" font-size="12.6" fill="#111" textLength="32.5" lengthAdjust="spacingAndGlyphs">CD21</text>
<line x1="102.4" y1="372.1" x2="236.5" y2="372.1" stroke="#8a8a8a" stroke-width="0.9"/>
<line x1="236.5" y1="372.1" x2="236.5" y2="506" stroke="#8a8a8a" stroke-width="0.9"/>
<line x1="102.4" y1="371.65" x2="102.4" y2="506.45" stroke="#333" stroke-width="1"/>
<line x1="102.4" y1="506" x2="236.5" y2="506" stroke="#333" stroke-width="1"/>
<line x1="99.2" y1="498.01" x2="102.4" y2="498.01" stroke="#3a3a3a" stroke-width="0.8"/>
<line x1="99.2" y1="476.02" x2="102.4" y2="476.02" stroke="#3a3a3a" stroke-width="0.8"/>
<line x1="99.2" y1="454.04" x2="102.4" y2="454.04" stroke="#3a3a3a" stroke-width="0.8"/>
<line x1="99.2" y1="417.07" x2="102.4" y2="417.07" stroke="#3a3a3a" stroke-width="0.8"/>
<line x1="99.2" y1="385.09" x2="102.4" y2="385.09" stroke="#3a3a3a" stroke-width="0.8"/>
<line x1="100.6" y1="482.64" x2="102.4" y2="482.64" stroke="#3a3a3a" stroke-width="0.8"/>
<line x1="100.6" y1="469.4" x2="102.4" y2="469.4" stroke="#3a3a3a" stroke-width="0.8"/>
<line x1="100.6" y1="442.91" x2="102.4" y2="442.91" stroke="#3a3a3a" stroke-width="0.8"/>
<line x1="100.6" y1="407.44" x2="102.4" y2="407.44" stroke="#3a3a3a" stroke-width="0.8"/>
<line x1="100.6" y1="375.46" x2="102.4" y2="375.46" stroke="#3a3a3a" stroke-width="0.8"/>
<line x1="100.6" y1="486.51" x2="102.4" y2="486.51" stroke="#3a3a3a" stroke-width="0.8"/>
<line x1="100.6" y1="465.53" x2="102.4" y2="465.53" stroke="#3a3a3a" stroke-width="0.8"/>
<line x1="100.6" y1="436.4" x2="102.4" y2="436.4" stroke="#3a3a3a" stroke-width="0.8"/>
<line x1="100.6" y1="401.81" x2="102.4" y2="401.81" stroke="#3a3a3a" stroke-width="0.8"/>
<line x1="100.6" y1="489.26" x2="102.4" y2="489.26" stroke="#3a3a3a" stroke-width="0.8"/>
<line x1="100.6" y1="462.79" x2="102.4" y2="462.79" stroke="#3a3a3a" stroke-width="0.8"/>
<line x1="100.6" y1="431.78" x2="102.4" y2="431.78" stroke="#3a3a3a" stroke-width="0.8"/>
<line x1="100.6" y1="397.81" x2="102.4" y2="397.81" stroke="#3a3a3a" stroke-width="0.8"/>
<line x1="100.6" y1="491.39" x2="102.4" y2="491.39" stroke="#3a3a3a" stroke-width="0.8"/>
<line x1="100.6" y1="460.66" x2="102.4" y2="460.66" stroke="#3a3a3a" stroke-width="0.8"/>
<line x1="100.6" y1="428.2" x2="102.4" y2="428.2" stroke="#3a3a3a" stroke-width="0.8"/>
<line x1="100.6" y1="394.72" x2="102.4" y2="394.72" stroke="#3a3a3a" stroke-width="0.8"/>
<line x1="100.6" y1="493.13" x2="102.4" y2="493.13" stroke="#3a3a3a" stroke-width="0.8"/>
<line x1="100.6" y1="458.92" x2="102.4" y2="458.92" stroke="#3a3a3a" stroke-width="0.8"/>
<line x1="100.6" y1="425.27" x2="102.4" y2="425.27" stroke="#3a3a3a" stroke-width="0.8"/>
<line x1="100.6" y1="392.18" x2="102.4" y2="392.18" stroke="#3a3a3a" stroke-width="0.8"/>
<line x1="100.6" y1="494.6" x2="102.4" y2="494.6" stroke="#3a3a3a" stroke-width="0.8"/>
<line x1="100.6" y1="457.44" x2="102.4" y2="457.44" stroke="#3a3a3a" stroke-width="0.8"/>
<line x1="100.6" y1="422.79" x2="102.4" y2="422.79" stroke="#3a3a3a" stroke-width="0.8"/>
<line x1="100.6" y1="390.04" x2="102.4" y2="390.04" stroke="#3a3a3a" stroke-width="0.8"/>
<line x1="100.6" y1="495.88" x2="102.4" y2="495.88" stroke="#3a3a3a" stroke-width="0.8"/>
<line x1="100.6" y1="456.17" x2="102.4" y2="456.17" stroke="#3a3a3a" stroke-width="0.8"/>
<line x1="100.6" y1="420.65" x2="102.4" y2="420.65" stroke="#3a3a3a" stroke-width="0.8"/>
<line x1="100.6" y1="388.19" x2="102.4" y2="388.19" stroke="#3a3a3a" stroke-width="0.8"/>
<line x1="100.6" y1="497" x2="102.4" y2="497" stroke="#3a3a3a" stroke-width="0.8"/>
<line x1="100.6" y1="455.04" x2="102.4" y2="455.04" stroke="#3a3a3a" stroke-width="0.8"/>
<line x1="100.6" y1="418.76" x2="102.4" y2="418.76" stroke="#3a3a3a" stroke-width="0.8"/>
<line x1="100.6" y1="386.55" x2="102.4" y2="386.55" stroke="#3a3a3a" stroke-width="0.8"/>
<line x1="110.41" y1="506" x2="110.41" y2="509.2" stroke="#3a3a3a" stroke-width="0.8"/>
<line x1="132.42" y1="506" x2="132.42" y2="509.2" stroke="#3a3a3a" stroke-width="0.8"/>
<line x1="154.44" y1="506" x2="154.44" y2="509.2" stroke="#3a3a3a" stroke-width="0.8"/>
<line x1="191.47" y1="506" x2="191.47" y2="509.2" stroke="#3a3a3a" stroke-width="0.8"/>
<line x1="223.49" y1="506" x2="223.49" y2="509.2" stroke="#3a3a3a" stroke-width="0.8"/>
<line x1="125.79" y1="506" x2="125.79" y2="507.8" stroke="#3a3a3a" stroke-width="0.8"/>
<line x1="139.05" y1="506" x2="139.05" y2="507.8" stroke="#3a3a3a" stroke-width="0.8"/>
<line x1="165.59" y1="506" x2="165.59" y2="507.8" stroke="#3a3a3a" stroke-width="0.8"/>
<line x1="201.11" y1="506" x2="201.11" y2="507.8" stroke="#3a3a3a" stroke-width="0.8"/>
<line x1="233.13" y1="506" x2="233.13" y2="507.8" stroke="#3a3a3a" stroke-width="0.8"/>
<line x1="121.92" y1="506" x2="121.92" y2="507.8" stroke="#3a3a3a" stroke-width="0.8"/>
<line x1="142.93" y1="506" x2="142.93" y2="507.8" stroke="#3a3a3a" stroke-width="0.8"/>
<line x1="172.11" y1="506" x2="172.11" y2="507.8" stroke="#3a3a3a" stroke-width="0.8"/>
<line x1="206.75" y1="506" x2="206.75" y2="507.8" stroke="#3a3a3a" stroke-width="0.8"/>
<line x1="119.17" y1="506" x2="119.17" y2="507.8" stroke="#3a3a3a" stroke-width="0.8"/>
<line x1="145.68" y1="506" x2="145.68" y2="507.8" stroke="#3a3a3a" stroke-width="0.8"/>
<line x1="176.73" y1="506" x2="176.73" y2="507.8" stroke="#3a3a3a" stroke-width="0.8"/>
<line x1="210.75" y1="506" x2="210.75" y2="507.8" stroke="#3a3a3a" stroke-width="0.8"/>
<line x1="117.03" y1="506" x2="117.03" y2="507.8" stroke="#3a3a3a" stroke-width="0.8"/>
<line x1="147.81" y1="506" x2="147.81" y2="507.8" stroke="#3a3a3a" stroke-width="0.8"/>
<line x1="180.32" y1="506" x2="180.32" y2="507.8" stroke="#3a3a3a" stroke-width="0.8"/>
<line x1="213.85" y1="506" x2="213.85" y2="507.8" stroke="#3a3a3a" stroke-width="0.8"/>
<line x1="115.29" y1="506" x2="115.29" y2="507.8" stroke="#3a3a3a" stroke-width="0.8"/>
<line x1="149.55" y1="506" x2="149.55" y2="507.8" stroke="#3a3a3a" stroke-width="0.8"/>
<line x1="183.25" y1="506" x2="183.25" y2="507.8" stroke="#3a3a3a" stroke-width="0.8"/>
<line x1="216.39" y1="506" x2="216.39" y2="507.8" stroke="#3a3a3a" stroke-width="0.8"/>
<line x1="113.82" y1="506" x2="113.82" y2="507.8" stroke="#3a3a3a" stroke-width="0.8"/>
<line x1="151.03" y1="506" x2="151.03" y2="507.8" stroke="#3a3a3a" stroke-width="0.8"/>
<line x1="185.73" y1="506" x2="185.73" y2="507.8" stroke="#3a3a3a" stroke-width="0.8"/>
<line x1="218.53" y1="506" x2="218.53" y2="507.8" stroke="#3a3a3a" stroke-width="0.8"/>
<line x1="112.54" y1="506" x2="112.54" y2="507.8" stroke="#3a3a3a" stroke-width="0.8"/>
<line x1="152.31" y1="506" x2="152.31" y2="507.8" stroke="#3a3a3a" stroke-width="0.8"/>
<line x1="187.88" y1="506" x2="187.88" y2="507.8" stroke="#3a3a3a" stroke-width="0.8"/>
<line x1="220.39" y1="506" x2="220.39" y2="507.8" stroke="#3a3a3a" stroke-width="0.8"/>
<line x1="111.41" y1="506" x2="111.41" y2="507.8" stroke="#3a3a3a" stroke-width="0.8"/>
<line x1="153.43" y1="506" x2="153.43" y2="507.8" stroke="#3a3a3a" stroke-width="0.8"/>
<line x1="189.77" y1="506" x2="189.77" y2="507.8" stroke="#3a3a3a" stroke-width="0.8"/>
<line x1="222.02" y1="506" x2="222.02" y2="507.8" stroke="#3a3a3a" stroke-width="0.8"/>
<rect x="129.4" y="506.5" width="5" height="2.8" fill="#222" stroke="none" stroke-width="1"/>
<rect x="99.4" y="474" width="3" height="5" fill="#222" stroke="none" stroke-width="1"/>
<path d="M176,441 C176,443.15 175.9,445.73 175.71,447.61 C175.52,449.49 175.23,450.87 174.84,452.28 C174.45,453.69 173.97,454.94 173.39,456.08 C172.81,457.21 172.14,458.21 171.35,459.07 C170.57,459.93 169.71,460.66 168.7,461.24 C167.68,461.82 166.8,462.26 165.26,462.56 C163.73,462.85 161.42,463 159.5,463 C157.58,463 155.27,462.85 153.74,462.56 C152.2,462.26 151.32,461.82 150.3,461.24 C149.29,460.66 148.43,459.93 147.65,459.07 C146.86,458.21 146.19,457.21 145.61,456.08 C145.03,454.94 144.55,453.69 144.16,452.28 C143.77,450.87 143.48,449.49 143.29,447.61 C143.1,445.73 143,443.15 143,441 C143,438.85 143.1,436.48 143.29,434.69 C143.48,432.89 143.77,431.58 144.16,430.23 C144.55,428.89 145.03,427.69 145.61,426.61 C146.19,425.53 146.86,424.57 147.65,423.75 C148.43,422.93 149.29,422.24 150.3,421.68 C151.32,421.13 152.2,420.7 153.74,420.42 C155.27,420.14 157.58,420 159.5,420 C161.42,420 163.73,420.14 165.26,420.42 C166.8,420.7 167.68,421.13 168.7,421.68 C169.71,422.24 170.57,422.93 171.35,423.75 C172.14,424.57 172.81,425.53 173.39,426.61 C173.97,427.69 174.45,428.89 174.84,430.23 C175.23,431.58 175.52,432.89 175.71,434.69 C175.9,436.48 176,438.85 176,441Z" stroke="#7c7c7c" stroke-width="0.5" fill="none" />
<path d="M174.8,441.3 C174.8,443.31 174.71,445.71 174.53,447.46 C174.35,449.21 174.08,450.5 173.73,451.81 C173.37,453.13 172.92,454.29 172.39,455.35 C171.85,456.4 171.23,457.33 170.51,458.14 C169.78,458.94 168.99,459.62 168.05,460.16 C167.11,460.7 166.29,461.11 164.88,461.39 C163.46,461.66 161.33,461.8 159.55,461.8 C157.77,461.8 155.64,461.66 154.22,461.39 C152.81,461.11 151.99,460.7 151.05,460.16 C150.11,459.62 149.32,458.94 148.59,458.14 C147.87,457.33 147.25,456.4 146.71,455.35 C146.18,454.29 145.73,453.13 145.37,451.81 C145.02,450.5 144.75,449.21 144.57,447.46 C144.39,445.71 144.3,443.31 144.3,441.3 C144.3,439.29 144.39,437.06 144.57,435.38 C144.75,433.7 145.02,432.46 145.37,431.2 C145.73,429.94 146.18,428.81 146.71,427.8 C147.25,426.79 147.87,425.89 148.59,425.12 C149.32,424.35 150.11,423.7 151.05,423.18 C151.99,422.66 152.81,422.26 154.22,422 C155.64,421.73 157.77,421.6 159.55,421.6 C161.33,421.6 163.46,421.73 164.88,422 C166.29,422.26 167.11,422.66 168.05,423.18 C168.99,423.7 169.78,424.35 170.51,425.12 C171.23,425.89 171.85,426.79 172.39,427.8 C172.92,428.81 173.37,429.94 173.73,431.2 C174.08,432.46 174.35,433.7 174.53,435.38 C174.71,437.06 174.8,439.29 174.8,441.3Z" stroke="#7c7c7c" stroke-width="0.5" fill="none" />
<path d="M173.6,441.6 C173.6,443.47 173.52,445.69 173.35,447.31 C173.19,448.93 172.94,450.12 172.61,451.34 C172.29,452.56 171.88,453.64 171.38,454.62 C170.89,455.6 170.32,456.46 169.66,457.2 C168.99,457.95 168.26,458.58 167.4,459.08 C166.54,459.58 165.79,459.96 164.49,460.22 C163.19,460.47 161.23,460.6 159.6,460.6 C157.97,460.6 156.01,460.47 154.71,460.22 C153.41,459.96 152.66,459.58 151.8,459.08 C150.94,458.58 150.21,457.95 149.54,457.2 C148.88,456.46 148.31,455.6 147.82,454.62 C147.32,453.64 146.91,452.56 146.59,451.34 C146.26,450.12 146.01,448.93 145.85,447.31 C145.68,445.69 145.6,443.47 145.6,441.6 C145.6,439.73 145.68,437.64 145.85,436.07 C146.01,434.5 146.26,433.35 146.59,432.17 C146.91,430.99 147.32,429.94 147.82,428.99 C148.31,428.04 148.88,427.21 149.54,426.49 C150.21,425.77 150.94,425.16 151.8,424.67 C152.66,424.19 153.41,423.82 154.71,423.57 C156.01,423.32 157.97,423.2 159.6,423.2 C161.23,423.2 163.19,423.32 164.49,423.57 C165.79,423.82 166.54,424.19 167.4,424.67 C168.26,425.16 168.99,425.77 169.66,426.49 C170.32,427.21 170.89,428.04 171.38,428.99 C171.88,429.94 172.29,430.99 172.61,432.17 C172.94,433.35 173.19,434.5 173.35,436.07 C173.52,437.64 173.6,439.73 173.6,441.6Z" stroke="#7c7c7c" stroke-width="0.5" fill="none" />
<path d="M172.4,441.9 C172.4,443.63 172.32,445.66 172.18,447.16 C172.03,448.65 171.8,449.75 171.5,450.87 C171.2,452 170.83,452.99 170.38,453.89 C169.93,454.79 169.41,455.59 168.81,456.27 C168.21,456.96 167.54,457.54 166.76,458 C165.97,458.46 165.29,458.81 164.1,459.05 C162.92,459.28 161.13,459.4 159.65,459.4 C158.17,459.4 156.38,459.28 155.2,459.05 C154.01,458.81 153.33,458.46 152.54,458 C151.76,457.54 151.09,456.96 150.49,456.27 C149.89,455.59 149.37,454.79 148.92,453.89 C148.47,452.99 148.1,452 147.8,450.87 C147.5,449.75 147.27,448.65 147.12,447.16 C146.98,445.66 146.9,443.63 146.9,441.9 C146.9,440.17 146.98,438.22 147.12,436.76 C147.27,435.3 147.5,434.23 147.8,433.13 C148.1,432.04 148.47,431.06 148.92,430.18 C149.37,429.3 149.89,428.52 150.49,427.86 C151.09,427.19 151.76,426.62 152.54,426.17 C153.33,425.72 154.01,425.37 155.2,425.14 C156.38,424.92 158.17,424.8 159.65,424.8 C161.13,424.8 162.92,424.92 164.1,425.14 C165.29,425.37 165.97,425.72 166.76,426.17 C167.54,426.62 168.21,427.19 168.81,427.86 C169.41,428.52 169.93,429.3 170.38,430.18 C170.83,431.06 171.2,432.04 171.5,433.13 C171.8,434.23 172.03,435.3 172.18,436.76 C172.32,438.22 172.4,440.17 172.4,441.9Z" stroke="#7c7c7c" stroke-width="0.5" fill="none" />
<path d="M171.2,442.2 C171.2,443.79 171.13,445.64 171,447.01 C170.86,448.38 170.66,449.38 170.39,450.4 C170.12,451.43 169.78,452.34 169.38,453.16 C168.98,453.99 168.51,454.71 167.96,455.34 C167.42,455.97 166.82,456.5 166.11,456.92 C165.4,457.34 164.78,457.66 163.72,457.88 C162.65,458.09 161.04,458.2 159.7,458.2 C158.36,458.2 156.75,458.09 155.68,457.88 C154.62,457.66 154,457.34 153.29,456.92 C152.58,456.5 151.98,455.97 151.44,455.34 C150.89,454.71 150.42,453.99 150.02,453.16 C149.62,452.34 149.28,451.43 149.01,450.4 C148.74,449.38 148.54,448.38 148.4,447.01 C148.27,445.64 148.2,443.79 148.2,442.2 C148.2,440.61 148.27,438.8 148.4,437.45 C148.54,436.1 148.74,435.11 149.01,434.1 C149.28,433.09 149.62,432.19 150.02,431.37 C150.42,430.56 150.89,429.84 151.44,429.22 C151.98,428.61 152.58,428.08 153.29,427.66 C154,427.25 154.62,426.93 155.68,426.72 C156.75,426.51 158.36,426.4 159.7,426.4 C161.04,426.4 162.65,426.51 163.72,426.72 C164.78,426.93 165.4,427.25 166.11,427.66 C166.82,428.08 167.42,428.61 167.96,429.22 C168.51,429.84 168.98,430.56 169.38,431.37 C169.78,432.19 170.12,433.09 170.39,434.1 C170.66,435.11 170.86,436.1 171,437.45 C171.13,438.8 171.2,440.61 171.2,442.2Z" stroke="#7c7c7c" stroke-width="0.5" fill="none" />
<path d="M170,442.5 C170,443.95 169.94,445.62 169.82,446.86 C169.7,448.1 169.52,449 169.28,449.93 C169.04,450.86 168.74,451.69 168.38,452.44 C168.02,453.18 167.6,453.84 167.11,454.41 C166.63,454.98 166.09,455.46 165.46,455.84 C164.83,456.22 164.28,456.51 163.33,456.71 C162.38,456.9 160.94,457 159.75,457 C158.56,457 157.12,456.9 156.17,456.71 C155.22,456.51 154.67,456.22 154.04,455.84 C153.41,455.46 152.87,454.98 152.39,454.41 C151.9,453.84 151.48,453.18 151.12,452.44 C150.76,451.69 150.46,450.86 150.22,449.93 C149.98,449 149.8,448.1 149.68,446.86 C149.56,445.62 149.5,443.95 149.5,442.5 C149.5,441.05 149.56,439.38 149.68,438.14 C149.8,436.9 149.98,436 150.22,435.07 C150.46,434.14 150.76,433.31 151.12,432.56 C151.48,431.82 151.9,431.16 152.39,430.59 C152.87,430.02 153.41,429.54 154.04,429.16 C154.67,428.78 155.22,428.49 156.17,428.29 C157.12,428.1 158.56,428 159.75,428 C160.94,428 162.38,428.1 163.33,428.29 C164.28,428.49 164.83,428.78 165.46,429.16 C166.09,429.54 166.63,430.02 167.11,430.59 C167.6,431.16 168.02,431.82 168.38,432.56 C168.74,433.31 169.04,434.14 169.28,435.07 C169.52,436 169.7,436.9 169.82,438.14 C169.94,439.38 170,441.05 170,442.5Z" stroke="#7c7c7c" stroke-width="0.5" fill="none" />
<path d="M168.8,442.8 C168.8,444.11 168.75,445.6 168.64,446.71 C168.54,447.82 168.38,448.63 168.17,449.47 C167.96,450.3 167.69,451.04 167.38,451.71 C167.06,452.38 166.69,452.97 166.27,453.48 C165.84,453.99 165.37,454.42 164.82,454.76 C164.26,455.1 163.78,455.37 162.94,455.54 C162.11,455.71 160.85,455.8 159.8,455.8 C158.75,455.8 157.49,455.71 156.66,455.54 C155.82,455.37 155.34,455.1 154.78,454.76 C154.23,454.42 153.76,453.99 153.33,453.48 C152.91,452.97 152.54,452.38 152.22,451.71 C151.91,451.04 151.64,450.3 151.43,449.47 C151.22,448.63 151.06,447.82 150.96,446.71 C150.85,445.6 150.8,444.11 150.8,442.8 C150.8,441.49 150.85,439.96 150.96,438.83 C151.06,437.7 151.22,436.88 151.43,436.03 C151.64,435.19 151.91,434.43 152.22,433.75 C152.54,433.08 152.91,432.48 153.33,431.96 C153.76,431.44 154.23,431.01 154.78,430.66 C155.34,430.31 155.82,430.04 156.66,429.87 C157.49,429.69 158.75,429.6 159.8,429.6 C160.85,429.6 162.11,429.69 162.94,429.87 C163.78,430.04 164.26,430.31 164.82,430.66 C165.37,431.01 165.84,431.44 166.27,431.96 C166.69,432.48 167.06,433.08 167.38,433.75 C167.69,434.43 167.96,435.19 168.17,436.03 C168.38,436.88 168.54,437.7 168.64,438.83 C168.75,439.96 168.8,441.49 168.8,442.8Z" stroke="#7c7c7c" stroke-width="0.5" fill="none" />
<path d="M167.6,443.1 C167.6,444.27 167.55,445.57 167.46,446.56 C167.37,447.54 167.24,448.26 167.05,449 C166.87,449.73 166.65,450.39 166.37,450.98 C166.1,451.57 165.79,452.09 165.42,452.54 C165.05,452.99 164.65,453.38 164.17,453.68 C163.69,453.98 163.28,454.22 162.56,454.37 C161.84,454.52 160.75,454.6 159.85,454.6 C158.95,454.6 157.86,454.52 157.14,454.37 C156.42,454.22 156.01,453.98 155.53,453.68 C155.05,453.38 154.65,452.99 154.28,452.54 C153.91,452.09 153.6,451.57 153.33,450.98 C153.05,450.39 152.83,449.73 152.65,449 C152.46,448.26 152.33,447.54 152.24,446.56 C152.15,445.57 152.1,444.27 152.1,443.1 C152.1,441.93 152.15,440.54 152.24,439.52 C152.33,438.51 152.46,437.76 152.65,437 C152.83,436.24 153.05,435.56 153.33,434.95 C153.6,434.33 153.91,433.79 154.28,433.33 C154.65,432.86 155.05,432.47 155.53,432.15 C156.01,431.84 156.42,431.6 157.14,431.44 C157.86,431.28 158.95,431.2 159.85,431.2 C160.75,431.2 161.84,431.28 162.56,431.44 C163.28,431.6 163.69,431.84 164.17,432.15 C164.65,432.47 165.05,432.86 165.42,433.33 C165.79,433.79 166.1,434.33 166.37,434.95 C166.65,435.56 166.87,436.24 167.05,437 C167.24,437.76 167.37,438.51 167.46,439.52 C167.55,440.54 167.6,441.93 167.6,443.1Z" stroke="#7c7c7c" stroke-width="0.5" fill="none" />
<path d="M166.4,443.4 C166.4,444.43 166.36,445.55 166.29,446.41 C166.21,447.26 166.09,447.89 165.94,448.53 C165.79,449.17 165.6,449.74 165.37,450.25 C165.14,450.77 164.88,451.22 164.57,451.61 C164.26,452 163.92,452.34 163.52,452.6 C163.12,452.86 162.77,453.07 162.17,453.2 C161.57,453.33 160.66,453.4 159.9,453.4 C159.14,453.4 158.23,453.33 157.63,453.2 C157.03,453.07 156.68,452.86 156.28,452.6 C155.88,452.34 155.54,452 155.23,451.61 C154.92,451.22 154.66,450.77 154.43,450.25 C154.2,449.74 154.01,449.17 153.86,448.53 C153.71,447.89 153.59,447.26 153.51,446.41 C153.44,445.55 153.4,444.43 153.4,443.4 C153.4,442.37 153.44,441.12 153.51,440.21 C153.59,439.31 153.71,438.64 153.86,437.96 C154.01,437.29 154.2,436.68 154.43,436.14 C154.66,435.59 154.92,435.11 155.23,434.69 C155.54,434.28 155.88,433.93 156.28,433.65 C156.68,433.37 157.03,433.15 157.63,433.01 C158.23,432.87 159.14,432.8 159.9,432.8 C160.66,432.8 161.57,432.87 162.17,433.01 C162.77,433.15 163.12,433.37 163.52,433.65 C163.92,433.93 164.26,434.28 164.57,434.69 C164.88,435.11 165.14,435.59 165.37,436.14 C165.6,436.68 165.79,437.29 165.94,437.96 C166.09,438.64 166.21,439.31 166.29,440.21 C166.36,441.12 166.4,442.37 166.4,443.4Z" stroke="#7c7c7c" stroke-width="0.5" fill="none" />
<path d="M165.2,443.7 C165.2,444.59 165.17,445.53 165.11,446.25 C165.05,446.98 164.95,447.51 164.83,448.06 C164.71,448.6 164.55,449.09 164.37,449.52 C164.18,449.96 163.97,450.35 163.72,450.68 C163.47,451.01 163.2,451.29 162.88,451.52 C162.55,451.74 162.27,451.92 161.78,452.03 C161.3,452.14 160.56,452.2 159.95,452.2 C159.34,452.2 158.6,452.14 158.12,452.03 C157.63,451.92 157.35,451.74 157.02,451.52 C156.7,451.29 156.43,451.01 156.18,450.68 C155.93,450.35 155.72,449.96 155.53,449.52 C155.35,449.09 155.19,448.6 155.07,448.06 C154.95,447.51 154.85,446.98 154.79,446.25 C154.73,445.53 154.7,444.59 154.7,443.7 C154.7,442.81 154.73,441.7 154.79,440.91 C154.85,440.11 154.95,439.53 155.07,438.93 C155.19,438.34 155.35,437.81 155.53,437.33 C155.72,436.85 155.93,436.43 156.18,436.06 C156.43,435.7 156.7,435.39 157.02,435.14 C157.35,434.9 157.63,434.71 158.12,434.59 C158.6,434.46 159.34,434.4 159.95,434.4 C160.56,434.4 161.3,434.46 161.78,434.59 C162.27,434.71 162.55,434.9 162.88,435.14 C163.2,435.39 163.47,435.7 163.72,436.06 C163.97,436.43 164.18,436.85 164.37,437.33 C164.55,437.81 164.71,438.34 164.83,438.93 C164.95,439.53 165.05,440.11 165.11,440.91 C165.17,441.7 165.2,442.81 165.2,443.7Z" stroke="#7c7c7c" stroke-width="0.5" fill="none" />
<path d="M164,444 C164,444.75 163.98,445.51 163.93,446.1 C163.88,446.7 163.81,447.14 163.72,447.59 C163.62,448.04 163.51,448.44 163.37,448.8 C163.23,449.16 163.06,449.48 162.87,449.75 C162.68,450.02 162.48,450.25 162.23,450.44 C161.98,450.62 161.77,450.77 161.4,450.86 C161.03,450.95 160.47,451 160,451 C159.53,451 158.97,450.95 158.6,450.86 C158.23,450.77 158.02,450.62 157.77,450.44 C157.52,450.25 157.32,450.02 157.13,449.75 C156.94,449.48 156.77,449.16 156.63,448.8 C156.49,448.44 156.38,448.04 156.28,447.59 C156.19,447.14 156.12,446.7 156.07,446.1 C156.02,445.51 156,444.75 156,444 C156,443.25 156.02,442.28 156.07,441.6 C156.12,440.91 156.19,440.41 156.28,439.9 C156.38,439.39 156.49,438.93 156.63,438.52 C156.77,438.11 156.94,437.74 157.13,437.43 C157.32,437.12 157.52,436.85 157.77,436.64 C158.02,436.43 158.23,436.27 158.6,436.16 C158.97,436.05 159.53,436 160,436 C160.47,436 161.03,436.05 161.4,436.16 C161.77,436.27 161.98,436.43 162.23,436.64 C162.48,436.85 162.68,437.12 162.87,437.43 C163.06,437.74 163.23,438.11 163.37,438.52 C163.51,438.93 163.62,439.39 163.72,439.9 C163.81,440.41 163.88,440.91 163.93,441.6 C163.98,442.28 164,443.25 164,444Z" stroke="#7c7c7c" stroke-width="0.5" fill="none" />
<path d="M163.96,472 C164,471.73 163.94,471.36 164.14,471.13 C164.34,470.91 164.76,470.83 165.15,470.64 C165.54,470.46 166.07,470.21 166.48,470.01 C166.89,469.8 167.16,469.54 167.62,469.41 C168.07,469.27 168.78,469.16 169.21,469.21 C169.64,469.26 169.94,469.47 170.21,469.69 C170.48,469.9 170.74,470.12 170.85,470.51 C170.95,470.89 170.87,471.55 170.83,472 C170.79,472.45 170.78,472.88 170.6,473.18 C170.43,473.48 170.29,473.66 169.79,473.79 C169.3,473.91 168.28,473.96 167.63,473.93 C166.99,473.91 166.42,473.73 165.92,473.63 C165.41,473.53 164.92,473.49 164.58,473.34 C164.25,473.19 164.03,472.96 163.93,472.74 C163.82,472.52 163.93,472.27 163.96,472Z" stroke="#3e3e3e" stroke-width="0.55" fill="none" />
<path d="M158.44,472 C158.45,471.39 158.57,470.51 159.07,469.99 C159.58,469.47 160.61,469.36 161.47,468.88 C162.33,468.4 163.28,467.54 164.23,467.1 C165.19,466.67 166.11,466.5 167.2,466.25 C168.29,466.01 169.77,465.59 170.79,465.62 C171.81,465.64 172.74,465.88 173.32,466.4 C173.91,466.92 174.01,467.8 174.28,468.74 C174.55,469.67 174.97,470.98 174.96,472 C174.95,473.02 174.71,474.16 174.24,474.84 C173.76,475.52 173.28,475.8 172.1,476.08 C170.92,476.36 168.67,476.55 167.15,476.52 C165.63,476.49 164.12,476.16 162.99,475.9 C161.85,475.65 161.02,475.39 160.35,475.01 C159.69,474.63 159.33,474.14 159.01,473.64 C158.69,473.14 158.43,472.61 158.44,472Z" stroke="#3e3e3e" stroke-width="0.55" fill="none" />
<path d="M155.68,472 C155.87,471.23 156.5,470.21 157.15,469.54 C157.8,468.87 158.57,468.6 159.59,467.98 C160.61,467.36 162.03,466.37 163.27,465.81 C164.5,465.25 165.57,464.99 166.97,464.59 C168.38,464.19 170.43,463.32 171.71,463.38 C173,463.45 173.95,464.27 174.7,464.99 C175.44,465.72 175.8,466.58 176.17,467.75 C176.54,468.92 176.98,470.7 176.92,472 C176.87,473.3 176.43,474.65 175.85,475.56 C175.26,476.46 174.92,477.04 173.43,477.42 C171.94,477.8 168.89,477.91 166.9,477.85 C164.91,477.79 163.01,477.37 161.49,477.07 C159.98,476.76 158.74,476.48 157.82,476 C156.91,475.52 156.35,474.85 155.99,474.18 C155.64,473.52 155.48,472.77 155.68,472Z" stroke="#3e3e3e" stroke-width="0.55" fill="none" />
<path d="M153.37,472 C153.53,471.1 154.42,469.9 155.16,469.09 C155.9,468.28 156.58,467.86 157.81,467.14 C159.03,466.43 161.02,465.45 162.52,464.8 C164.02,464.16 165.17,463.72 166.8,463.28 C168.43,462.84 170.69,462.18 172.29,462.16 C173.88,462.15 175.41,462.4 176.36,463.17 C177.31,463.94 177.67,465.3 178,466.78 C178.32,468.25 178.4,470.41 178.31,472 C178.22,473.59 178.12,475.25 177.46,476.3 C176.8,477.35 176.14,477.87 174.35,478.32 C172.55,478.76 169.02,479.02 166.68,478.96 C164.35,478.9 162.07,478.36 160.35,477.96 C158.64,477.56 157.42,477.15 156.4,476.57 C155.38,476 154.75,475.27 154.24,474.51 C153.74,473.75 153.22,472.9 153.37,472Z" stroke="#3e3e3e" stroke-width="0.55" fill="none" />
<path d="M151.95,472 C152.07,470.93 151.85,469.45 152.58,468.52 C153.32,467.6 154.87,467.29 156.36,466.45 C157.84,465.62 159.77,464.26 161.48,463.51 C163.19,462.76 164.71,462.36 166.6,461.95 C168.48,461.55 170.97,461.08 172.8,461.06 C174.63,461.05 176.52,461.01 177.58,461.86 C178.64,462.71 178.84,464.5 179.16,466.19 C179.47,467.88 179.53,470.21 179.47,472 C179.41,473.79 179.5,475.69 178.82,476.92 C178.14,478.16 177.45,478.92 175.4,479.41 C173.35,479.9 169.22,479.95 166.52,479.86 C163.83,479.76 161.23,479.25 159.23,478.82 C157.23,478.4 155.76,477.95 154.54,477.3 C153.31,476.65 152.29,475.82 151.86,474.93 C151.43,474.05 151.83,473.07 151.95,472Z" stroke="#3e3e3e" stroke-width="0.55" fill="none" />
<path d="M149.63,472 C149.83,470.81 149.93,469.14 150.92,468.15 C151.91,467.16 153.9,466.94 155.59,466.06 C157.27,465.18 159.27,463.87 161.05,462.89 C162.83,461.91 164.2,460.66 166.25,460.17 C168.29,459.67 171.27,459.79 173.3,459.92 C175.34,460.04 177.3,460 178.48,460.93 C179.66,461.87 179.93,463.69 180.4,465.54 C180.87,467.38 181.34,470 181.29,472 C181.24,474 180.96,476.15 180.1,477.51 C179.25,478.88 178.46,479.64 176.17,480.18 C173.88,480.72 169.29,480.88 166.34,480.75 C163.4,480.63 160.63,479.93 158.49,479.43 C156.34,478.92 154.93,478.42 153.47,477.73 C152.01,477.05 150.36,476.27 149.72,475.32 C149.08,474.36 149.43,473.19 149.63,472Z" stroke="#3e3e3e" stroke-width="0.55" fill="none" />
<path d="M148.32,472 C148.68,470.73 149.35,469.1 150.3,467.99 C151.25,466.88 152.36,466.35 154.02,465.34 C155.68,464.32 158.19,462.76 160.25,461.88 C162.3,461 164.08,460.63 166.36,460.05 C168.64,459.47 171.81,458.31 173.92,458.38 C176.02,458.46 177.64,459.44 178.98,460.5 C180.31,461.55 181.44,462.78 181.94,464.7 C182.44,466.62 182.05,469.76 181.96,472 C181.87,474.24 182.24,476.63 181.4,478.12 C180.56,479.61 179.44,480.44 176.93,480.95 C174.42,481.45 169.59,481.26 166.35,481.14 C163.1,481.02 160.05,480.61 157.45,480.21 C154.85,479.82 152.32,479.51 150.77,478.74 C149.22,477.98 148.56,476.73 148.15,475.6 C147.75,474.48 147.97,473.27 148.32,472Z" stroke="#3e3e3e" stroke-width="0.55" fill="none" />
<path d="M147,472 C147.15,470.65 147.38,468.74 148.49,467.59 C149.6,466.44 151.73,466.13 153.65,465.12 C155.58,464.11 157.99,462.63 160.05,461.53 C162.12,460.43 163.66,459.26 166.06,458.53 C168.46,457.79 172.14,456.96 174.44,457.13 C176.74,457.3 178.49,458.35 179.87,459.55 C181.24,460.75 182.06,462.25 182.7,464.33 C183.33,466.4 183.72,469.63 183.67,472 C183.62,474.37 183.44,477.02 182.39,478.57 C181.34,480.12 180.04,480.75 177.35,481.3 C174.66,481.85 169.76,481.86 166.22,481.84 C162.68,481.83 158.73,481.7 156.1,481.21 C153.47,480.72 151.86,479.82 150.45,478.91 C149.03,477.99 148.17,476.87 147.6,475.72 C147.03,474.57 146.85,473.35 147,472Z" stroke="#3e3e3e" stroke-width="0.55" fill="none" />
<path d="M144.28,472 C144.42,470.57 146.07,468.6 147.36,467.33 C148.66,466.06 150.12,465.57 152.06,464.39 C153.99,463.21 156.67,461.34 159,460.27 C161.32,459.19 163.4,458.6 166.03,457.96 C168.66,457.32 172.33,456.3 174.78,456.41 C177.23,456.52 179.2,457.43 180.73,458.63 C182.26,459.84 183.41,461.41 183.97,463.64 C184.53,465.87 184.28,469.49 184.07,472 C183.86,474.51 183.66,476.93 182.72,478.68 C181.78,480.42 181.21,481.82 178.43,482.49 C175.65,483.16 169.8,482.85 166.03,482.68 C162.27,482.51 158.68,482 155.84,481.47 C152.99,480.94 150.49,480.41 148.94,479.49 C147.39,478.56 147.32,477.16 146.54,475.92 C145.76,474.67 144.15,473.43 144.28,472Z" stroke="#3e3e3e" stroke-width="0.55" fill="none" />
<path d="M143.95,472 C143.96,470.45 144.05,468.23 145.18,466.86 C146.3,465.48 148.43,464.92 150.7,463.77 C152.97,462.61 156.25,461.05 158.78,459.9 C161.3,458.75 163.14,457.54 165.85,456.89 C168.55,456.24 172.39,455.89 175.03,456.01 C177.67,456.13 180.12,456.36 181.68,457.6 C183.25,458.84 183.81,461.05 184.42,463.45 C185.02,465.85 185.43,469.39 185.3,472 C185.17,474.61 184.74,477.32 183.64,479.09 C182.53,480.87 181.67,481.85 178.68,482.65 C175.69,483.46 169.69,483.97 165.69,483.91 C161.7,483.86 157.63,482.99 154.69,482.32 C151.75,481.64 149.66,480.86 148.07,479.84 C146.47,478.82 145.79,477.48 145.1,476.18 C144.42,474.87 143.93,473.55 143.95,472Z" stroke="#3e3e3e" stroke-width="0.55" fill="none" />
<path d="M143.17,472 C143.39,470.41 143.95,468.2 145.27,466.85 C146.6,465.5 148.98,465.2 151.1,463.89 C153.23,462.58 155.6,460.31 158.04,458.99 C160.47,457.68 162.81,456.67 165.71,456.01 C168.61,455.35 172.59,454.98 175.44,455.04 C178.29,455.09 181.1,455.05 182.81,456.34 C184.52,457.63 185.07,460.14 185.69,462.76 C186.3,465.37 186.59,469.15 186.51,472 C186.42,474.85 186.39,477.97 185.18,479.84 C183.97,481.71 182.53,482.45 179.26,483.23 C176,484.02 169.83,484.58 165.57,484.55 C161.31,484.52 156.98,483.7 153.71,483.05 C150.44,482.39 147.58,481.74 145.95,480.63 C144.31,479.53 144.38,477.83 143.91,476.39 C143.45,474.96 142.94,473.59 143.17,472Z" stroke="#3e3e3e" stroke-width="0.55" fill="none" />
<path d="M140.05,472 C140.13,470.24 140.51,467.62 142.22,466.2 C143.93,464.78 147.8,464.86 150.3,463.5 C152.81,462.14 154.73,459.49 157.26,458.04 C159.79,456.6 162.4,455.44 165.49,454.83 C168.57,454.21 172.79,454.18 175.77,454.34 C178.75,454.5 181.55,454.47 183.37,455.78 C185.19,457.1 185.99,459.53 186.68,462.23 C187.36,464.93 187.76,469.09 187.48,472 C187.2,474.91 186.21,477.63 185.01,479.69 C183.82,481.76 183.53,483.64 180.33,484.42 C177.12,485.19 170.12,484.6 165.77,484.33 C161.42,484.06 157.7,483.34 154.2,482.8 C150.7,482.26 146.86,482.09 144.78,481.09 C142.7,480.09 142.51,478.29 141.72,476.78 C140.93,475.26 139.97,473.76 140.05,472Z" stroke="#3e3e3e" stroke-width="0.55" fill="none" />
<path d="M140.44,472 C140.62,470.22 141.02,467.76 142.38,466.21 C143.74,464.67 146.1,464.09 148.6,462.73 C151.11,461.38 154.62,459.56 157.4,458.08 C160.19,456.61 162.16,454.83 165.33,453.9 C168.5,452.98 173.36,452.29 176.42,452.55 C179.49,452.81 181.96,453.88 183.73,455.47 C185.49,457.06 186.38,459.34 187,462.1 C187.63,464.85 187.49,468.91 187.48,472 C187.47,475.09 188.15,478.61 186.96,480.66 C185.78,482.72 183.96,483.46 180.36,484.32 C176.75,485.18 169.89,485.91 165.32,485.81 C160.75,485.71 156.39,484.48 152.93,483.71 C149.47,482.95 146.52,482.34 144.57,481.2 C142.62,480.06 141.94,478.41 141.26,476.87 C140.57,475.34 140.25,473.78 140.44,472Z" stroke="#3e3e3e" stroke-width="0.55" fill="none" />
<path d="M138.44,472 C139.04,470.12 140.39,467.7 142,466.11 C143.62,464.52 145.67,463.98 148.1,462.48 C150.53,460.98 153.72,458.65 156.57,457.09 C159.43,455.53 161.88,453.9 165.21,453.13 C168.55,452.35 173.4,452.13 176.56,452.46 C179.71,452.78 182.19,453.58 184.16,455.06 C186.13,456.54 187.7,458.51 188.39,461.33 C189.08,464.15 188.6,468.81 188.32,472 C188.04,475.19 187.94,478.31 186.72,480.48 C185.5,482.65 184.57,484.12 181.02,485.01 C177.47,485.91 170.32,485.89 165.42,485.83 C160.53,485.76 155.11,485.41 151.64,484.65 C148.16,483.88 146.81,482.44 144.6,481.23 C142.39,480.02 139.42,478.91 138.39,477.37 C137.36,475.83 137.84,473.88 138.44,472Z" stroke="#3e3e3e" stroke-width="0.55" fill="none" />
<path d="M137.39,472 C137.82,470.08 139.17,467.48 140.89,465.86 C142.61,464.24 145.23,463.89 147.72,462.27 C150.2,460.65 152.83,457.6 155.79,456.14 C158.74,454.68 161.9,454.32 165.43,453.52 C168.97,452.72 173.79,451.17 176.99,451.35 C180.19,451.53 182.67,452.97 184.63,454.6 C186.59,456.24 187.86,458.27 188.76,461.17 C189.65,464.07 190.07,468.66 189.98,472 C189.89,475.34 189.62,478.97 188.2,481.2 C186.77,483.43 185.22,484.51 181.41,485.38 C177.6,486.24 170.35,486.43 165.32,486.37 C160.3,486.3 155.16,485.66 151.25,484.97 C147.34,484.29 144.02,483.5 141.86,482.24 C139.71,480.97 139.08,479.1 138.33,477.4 C137.59,475.69 136.96,473.92 137.39,472Z" stroke="#3e3e3e" stroke-width="0.55" fill="none" />
<path d="M137.4,472 C137.72,469.9 136.29,466.91 137.86,465.22 C139.42,463.52 143.77,463.35 146.77,461.83 C149.77,460.31 152.75,457.58 155.86,456.11 C158.96,454.65 161.85,453.85 165.39,453.05 C168.94,452.25 173.79,451.15 177.11,451.29 C180.43,451.42 183.25,452.28 185.33,453.85 C187.41,455.43 188.81,457.7 189.6,460.72 C190.4,463.75 190.19,468.52 190.1,472 C190,475.48 190.41,479.31 189.02,481.58 C187.62,483.86 185.71,484.72 181.73,485.65 C177.74,486.58 170.09,487.34 165.12,487.17 C160.15,486.99 155.73,485.44 151.9,484.61 C148.06,483.78 144.77,483.32 142.11,482.18 C139.44,481.05 136.7,479.51 135.91,477.82 C135.12,476.12 137.07,474.1 137.4,472Z" stroke="#3e3e3e" stroke-width="0.55" fill="none" />
<path d="M135.77,472 C135.99,469.95 136.65,467.03 138.46,465.32 C140.28,463.61 143.92,463.46 146.67,461.75 C149.41,460.03 151.88,456.72 154.95,455.04 C158.02,453.36 161.33,452.48 165.1,451.67 C168.86,450.86 173.99,450.02 177.55,450.17 C181.11,450.31 184.42,450.8 186.48,452.53 C188.54,454.27 189.02,457.35 189.92,460.59 C190.82,463.84 192,468.49 191.88,472 C191.76,475.51 190.82,479.29 189.2,481.63 C187.57,483.97 186.12,485.11 182.13,486.03 C178.13,486.95 170.36,487.31 165.23,487.15 C160.09,486.99 155.46,485.79 151.29,485.08 C147.13,484.36 142.61,484.12 140.25,482.88 C137.89,481.64 137.89,479.44 137.15,477.63 C136.4,475.81 135.55,474.05 135.77,472Z" stroke="#3e3e3e" stroke-width="0.55" fill="none" />
<path d="M134.05,472 C134.34,469.82 134.78,466.72 136.75,464.95 C138.71,463.17 142.83,463.05 145.84,461.36 C148.86,459.67 151.64,456.57 154.82,454.81 C158,453.05 161.03,451.89 164.94,450.79 C168.84,449.69 174.47,448.12 178.24,448.21 C182.01,448.29 185.31,449.41 187.56,451.3 C189.81,453.19 191.02,456.09 191.77,459.54 C192.51,462.99 192.34,468.26 192.04,472 C191.75,475.74 191.5,479.5 189.98,481.99 C188.46,484.47 187.07,485.99 182.93,486.92 C178.8,487.84 170.69,487.66 165.18,487.53 C159.66,487.39 154.24,486.79 149.84,486.11 C145.44,485.42 141.24,484.79 138.76,483.44 C136.29,482.09 135.78,479.91 134.99,478 C134.2,476.1 133.75,474.18 134.05,472Z" stroke="#3e3e3e" stroke-width="0.55" fill="none" />
<path d="M141.74,471.59 C141.85,471.23 142.19,470.83 142.57,470.65 C142.95,470.48 143.59,470.46 144.02,470.56 C144.44,470.65 144.91,470.95 145.14,471.23 C145.38,471.5 145.44,471.87 145.41,472.2 C145.39,472.53 145.26,472.96 144.99,473.19 C144.72,473.43 144.19,473.58 143.8,473.6 C143.41,473.63 142.94,473.5 142.63,473.36 C142.32,473.22 142.09,473.08 141.94,472.78 C141.79,472.48 141.64,471.94 141.74,471.59Z" stroke="#555" stroke-width="0.5" fill="none" />
<path d="M139.94,471.16 C140.2,470.43 140.88,469.68 141.65,469.33 C142.42,468.98 143.67,468.89 144.55,469.07 C145.43,469.24 146.47,469.82 146.94,470.38 C147.41,470.94 147.4,471.71 147.36,472.41 C147.33,473.1 147.25,474.08 146.71,474.57 C146.17,475.06 144.98,475.28 144.13,475.34 C143.28,475.41 142.28,475.22 141.6,474.95 C140.93,474.68 140.35,474.35 140.07,473.71 C139.79,473.08 139.68,471.89 139.94,471.16Z" stroke="#555" stroke-width="0.5" fill="none" />
<path d="M138.59,470.84 C138.96,469.84 139.9,468.84 140.96,468.34 C142.03,467.83 143.74,467.6 144.99,467.82 C146.25,468.04 147.81,468.85 148.5,469.65 C149.19,470.44 149.22,471.61 149.12,472.59 C149.03,473.57 148.71,474.83 147.93,475.54 C147.14,476.25 145.58,476.77 144.41,476.85 C143.24,476.94 141.85,476.46 140.9,476.05 C139.95,475.63 139.11,475.25 138.73,474.39 C138.34,473.52 138.22,471.85 138.59,470.84Z" stroke="#555" stroke-width="0.5" fill="none" />
<path d="M137.35,470.55 C137.77,469.27 138.85,467.84 140.19,467.22 C141.52,466.59 143.78,466.5 145.35,466.81 C146.93,467.13 148.82,468.13 149.63,469.12 C150.44,470.1 150.33,471.5 150.22,472.71 C150.11,473.92 149.91,475.51 148.98,476.38 C148.04,477.26 146.08,477.83 144.62,477.96 C143.15,478.08 141.34,477.67 140.18,477.16 C139.03,476.65 138.14,476.02 137.67,474.91 C137.2,473.81 136.93,471.83 137.35,470.55Z" stroke="#555" stroke-width="0.5" fill="none" />
<path d="M136.03,470.24 C136.51,468.77 138.09,467.19 139.69,466.49 C141.29,465.8 143.77,465.73 145.62,466.07 C147.47,466.42 149.73,467.44 150.78,468.57 C151.84,469.71 152.12,471.47 151.97,472.89 C151.81,474.31 151.06,476.11 149.86,477.09 C148.66,478.06 146.45,478.61 144.76,478.74 C143.07,478.87 141.04,478.45 139.71,477.89 C138.39,477.32 137.42,476.62 136.8,475.35 C136.19,474.07 135.55,471.72 136.03,470.24Z" stroke="#555" stroke-width="0.5" fill="none" />
<path d="M135.15,470.04 C135.74,468.28 137.16,466.33 138.97,465.46 C140.79,464.59 143.91,464.39 146.06,464.82 C148.22,465.25 150.75,466.69 151.88,468.05 C153.02,469.42 153.07,471.35 152.9,472.99 C152.73,474.63 152.19,476.75 150.87,477.9 C149.55,479.05 146.97,479.67 144.98,479.88 C142.98,480.08 140.48,479.8 138.9,479.16 C137.32,478.51 136.09,477.54 135.47,476.02 C134.84,474.5 134.57,471.79 135.15,470.04Z" stroke="#555" stroke-width="0.5" fill="none" />
<polygon points="118.3,419 138,401.4 175.3,408.3 176,444.3 152,463.7 124.7,456.3" stroke="#222" stroke-width="1" fill="none" stroke-linejoin="miter"/>
<polygon points="176.7,409 192,413 192,446.3 177.3,443.7" stroke="#222" stroke-width="1" fill="none" stroke-linejoin="miter"/>
<circle cx="168.04" cy="412.41" r="0.45" fill="#777"/>
<circle cx="127.34" cy="433.4" r="0.45" fill="#777"/>
<circle cx="140.14" cy="426.63" r="0.45" fill="#777"/>
<circle cx="153.91" cy="408.38" r="0.45" fill="#777"/>
<circle cx="173.63" cy="408.11" r="0.45" fill="#777"/>
<circle cx="120.32" cy="425.44" r="0.45" fill="#777"/>
<circle cx="145.84" cy="458.52" r="0.45" fill="#777"/>
<circle cx="129.18" cy="417.5" r="0.45" fill="#777"/>
<circle cx="143.48" cy="403.76" r="0.45" fill="#777"/>
<circle cx="131.76" cy="429.78" r="0.45" fill="#777"/>
<circle cx="138.26" cy="452.46" r="0.45" fill="#777"/>
<circle cx="127.37" cy="415.3" r="0.45" fill="#777"/>
<circle cx="137.93" cy="453.61" r="0.45" fill="#777"/>
<circle cx="153.31" cy="405.09" r="0.45" fill="#777"/>
<circle cx="143.3" cy="404.39" r="0.45" fill="#777"/>
<circle cx="154.25" cy="409.03" r="0.45" fill="#777"/>
<circle cx="128.65" cy="441.42" r="0.45" fill="#777"/>
<circle cx="135.25" cy="441.6" r="0.45" fill="#777"/>
<circle cx="134.1" cy="444.28" r="0.45" fill="#777"/>
<circle cx="154.45" cy="413.4" r="0.45" fill="#777"/>
<circle cx="146.44" cy="419.1" r="0.45" fill="#777"/>
<circle cx="135.6" cy="426.51" r="0.45" fill="#777"/>
<circle cx="149.87" cy="460.14" r="0.45" fill="#777"/>
<circle cx="122.5" cy="417.11" r="0.45" fill="#777"/>
<circle cx="122.59" cy="428.91" r="0.45" fill="#777"/>
<circle cx="132.33" cy="445.09" r="0.45" fill="#777"/>
<circle cx="150.62" cy="405.95" r="0.45" fill="#777"/>
<circle cx="133.98" cy="427.1" r="0.45" fill="#777"/>
<circle cx="132.73" cy="415.84" r="0.45" fill="#777"/>
<circle cx="136.71" cy="421.67" r="0.45" fill="#777"/>
<circle cx="180.86" cy="427.2" r="0.45" fill="#777"/>
<circle cx="177.95" cy="421.63" r="0.45" fill="#777"/>
<circle cx="177.81" cy="409.41" r="0.45" fill="#777"/>
<circle cx="181.04" cy="413.39" r="0.45" fill="#777"/>
<circle cx="181.46" cy="436.73" r="0.45" fill="#777"/>
<circle cx="177.25" cy="432.31" r="0.45" fill="#777"/>
<circle cx="140.28" cy="484.09" r="0.45" fill="#777"/>
<circle cx="129.4" cy="473.77" r="0.45" fill="#777"/>
<circle cx="140.13" cy="486.72" r="0.45" fill="#777"/>
<circle cx="132.17" cy="483.05" r="0.45" fill="#777"/>
<circle cx="151.73" cy="486.34" r="0.45" fill="#777"/>
<circle cx="125.31" cy="487.53" r="0.45" fill="#777"/>
<circle cx="136.96" cy="462.98" r="0.45" fill="#777"/>
<circle cx="125.8" cy="465.09" r="0.45" fill="#777"/>
<polygon points="176,446.3 192,449 192,488.3 154,488.3 153.3,465" stroke="#222" stroke-width="1" fill="none" stroke-linejoin="miter"/>
<polygon points="124,458.3 151.3,465 152.7,488.3 124.7,488.3 122.5,470" stroke="#222" stroke-width="1" fill="none" stroke-linejoin="miter"/>
<text x="103.7" y="384.1" font-size="13.1" fill="#111" textLength="34.6" lengthAdjust="spacingAndGlyphs">CD21</text>
<text x="139.5" y="379.6" font-size="7.8" fill="#111" textLength="7.2" lengthAdjust="spacingAndGlyphs">lo</text>
<text x="147.1" y="384.1" font-size="13.1" fill="#111" textLength="34.2" lengthAdjust="spacingAndGlyphs">CD23</text>
<text x="181.6" y="379.6" font-size="7.6" fill="#111" textLength="6.3" lengthAdjust="spacingAndGlyphs">hi</text>
<text x="103.7" y="399" font-size="13.1" fill="#111" textLength="61.8" lengthAdjust="spacingAndGlyphs">30.2 ± 2.7</text>
<text x="195.3" y="402.1" font-size="13.1" fill="#111" textLength="33" lengthAdjust="spacingAndGlyphs">CD21</text>
<text x="228.6" y="397" font-size="7.4" fill="#111" textLength="5.2" lengthAdjust="spacingAndGlyphs">hi</text>
<text x="195.3" y="418.2" font-size="13.1" fill="#111" textLength="33" lengthAdjust="spacingAndGlyphs">CD23</text>
<text x="228.6" y="413.1" font-size="7.4" fill="#111" textLength="5.2" lengthAdjust="spacingAndGlyphs">hi</text>
<text x="195.5" y="435.4" font-size="13.1" fill="#111" textLength="18.4" lengthAdjust="spacingAndGlyphs">0.8</text>
<text x="195.3" y="452.6" font-size="13.1" fill="#111" textLength="30.8" lengthAdjust="spacingAndGlyphs">± 0.3</text>
<text x="197.4" y="484" font-size="13" fill="#000" font-weight="bold" textLength="33.2" lengthAdjust="spacingAndGlyphs">MZ B</text>
<text x="169" y="501.3" font-size="13" fill="#000" font-weight="bold" textLength="61.6" lengthAdjust="spacingAndGlyphs">53.3 ± 5.2</text>
<line x1="102.4" y1="510.3" x2="236.5" y2="510.3" stroke="#8a8a8a" stroke-width="0.9"/>
<line x1="236.5" y1="510.3" x2="236.5" y2="643.8" stroke="#8a8a8a" stroke-width="0.9"/>
<line x1="102.4" y1="509.85" x2="102.4" y2="644.25" stroke="#333" stroke-width="1"/>
<line x1="102.4" y1="643.8" x2="236.5" y2="643.8" stroke="#333" stroke-width="1"/>
<line x1="99.2" y1="635.83" x2="102.4" y2="635.83" stroke="#3a3a3a" stroke-width="0.8"/>
<line x1="99.2" y1="613.91" x2="102.4" y2="613.91" stroke="#3a3a3a" stroke-width="0.8"/>
<line x1="99.2" y1="591.99" x2="102.4" y2="591.99" stroke="#3a3a3a" stroke-width="0.8"/>
<line x1="99.2" y1="555.13" x2="102.4" y2="555.13" stroke="#3a3a3a" stroke-width="0.8"/>
<line x1="99.2" y1="523.25" x2="102.4" y2="523.25" stroke="#3a3a3a" stroke-width="0.8"/>
<line x1="100.6" y1="620.51" x2="102.4" y2="620.51" stroke="#3a3a3a" stroke-width="0.8"/>
<line x1="100.6" y1="607.31" x2="102.4" y2="607.31" stroke="#3a3a3a" stroke-width="0.8"/>
<line x1="100.6" y1="580.9" x2="102.4" y2="580.9" stroke="#3a3a3a" stroke-width="0.8"/>
<line x1="100.6" y1="545.54" x2="102.4" y2="545.54" stroke="#3a3a3a" stroke-width="0.8"/>
<line x1="100.6" y1="513.65" x2="102.4" y2="513.65" stroke="#3a3a3a" stroke-width="0.8"/>
<line x1="100.6" y1="624.37" x2="102.4" y2="624.37" stroke="#3a3a3a" stroke-width="0.8"/>
<line x1="100.6" y1="603.45" x2="102.4" y2="603.45" stroke="#3a3a3a" stroke-width="0.8"/>
<line x1="100.6" y1="574.41" x2="102.4" y2="574.41" stroke="#3a3a3a" stroke-width="0.8"/>
<line x1="100.6" y1="539.92" x2="102.4" y2="539.92" stroke="#3a3a3a" stroke-width="0.8"/>
<line x1="100.6" y1="627.11" x2="102.4" y2="627.11" stroke="#3a3a3a" stroke-width="0.8"/>
<line x1="100.6" y1="600.72" x2="102.4" y2="600.72" stroke="#3a3a3a" stroke-width="0.8"/>
<line x1="100.6" y1="569.8" x2="102.4" y2="569.8" stroke="#3a3a3a" stroke-width="0.8"/>
<line x1="100.6" y1="535.94" x2="102.4" y2="535.94" stroke="#3a3a3a" stroke-width="0.8"/>
<line x1="100.6" y1="629.23" x2="102.4" y2="629.23" stroke="#3a3a3a" stroke-width="0.8"/>
<line x1="100.6" y1="598.59" x2="102.4" y2="598.59" stroke="#3a3a3a" stroke-width="0.8"/>
<line x1="100.6" y1="566.23" x2="102.4" y2="566.23" stroke="#3a3a3a" stroke-width="0.8"/>
<line x1="100.6" y1="532.85" x2="102.4" y2="532.85" stroke="#3a3a3a" stroke-width="0.8"/>
<line x1="100.6" y1="630.97" x2="102.4" y2="630.97" stroke="#3a3a3a" stroke-width="0.8"/>
<line x1="100.6" y1="596.86" x2="102.4" y2="596.86" stroke="#3a3a3a" stroke-width="0.8"/>
<line x1="100.6" y1="563.31" x2="102.4" y2="563.31" stroke="#3a3a3a" stroke-width="0.8"/>
<line x1="100.6" y1="530.32" x2="102.4" y2="530.32" stroke="#3a3a3a" stroke-width="0.8"/>
<line x1="100.6" y1="632.43" x2="102.4" y2="632.43" stroke="#3a3a3a" stroke-width="0.8"/>
<line x1="100.6" y1="595.39" x2="102.4" y2="595.39" stroke="#3a3a3a" stroke-width="0.8"/>
<line x1="100.6" y1="560.84" x2="102.4" y2="560.84" stroke="#3a3a3a" stroke-width="0.8"/>
<line x1="100.6" y1="528.19" x2="102.4" y2="528.19" stroke="#3a3a3a" stroke-width="0.8"/>
<line x1="100.6" y1="633.71" x2="102.4" y2="633.71" stroke="#3a3a3a" stroke-width="0.8"/>
<line x1="100.6" y1="594.12" x2="102.4" y2="594.12" stroke="#3a3a3a" stroke-width="0.8"/>
<line x1="100.6" y1="558.7" x2="102.4" y2="558.7" stroke="#3a3a3a" stroke-width="0.8"/>
<line x1="100.6" y1="526.34" x2="102.4" y2="526.34" stroke="#3a3a3a" stroke-width="0.8"/>
<line x1="100.6" y1="634.83" x2="102.4" y2="634.83" stroke="#3a3a3a" stroke-width="0.8"/>
<line x1="100.6" y1="593" x2="102.4" y2="593" stroke="#3a3a3a" stroke-width="0.8"/>
<line x1="100.6" y1="556.82" x2="102.4" y2="556.82" stroke="#3a3a3a" stroke-width="0.8"/>
<line x1="100.6" y1="524.71" x2="102.4" y2="524.71" stroke="#3a3a3a" stroke-width="0.8"/>
<line x1="110.41" y1="643.8" x2="110.41" y2="647" stroke="#3a3a3a" stroke-width="0.8"/>
<line x1="132.42" y1="643.8" x2="132.42" y2="647" stroke="#3a3a3a" stroke-width="0.8"/>
<line x1="154.44" y1="643.8" x2="154.44" y2="647" stroke="#3a3a3a" stroke-width="0.8"/>
<line x1="191.47" y1="643.8" x2="191.47" y2="647" stroke="#3a3a3a" stroke-width="0.8"/>
<line x1="223.49" y1="643.8" x2="223.49" y2="647" stroke="#3a3a3a" stroke-width="0.8"/>
<line x1="125.79" y1="643.8" x2="125.79" y2="645.6" stroke="#3a3a3a" stroke-width="0.8"/>
<line x1="139.05" y1="643.8" x2="139.05" y2="645.6" stroke="#3a3a3a" stroke-width="0.8"/>
<line x1="165.59" y1="643.8" x2="165.59" y2="645.6" stroke="#3a3a3a" stroke-width="0.8"/>
<line x1="201.11" y1="643.8" x2="201.11" y2="645.6" stroke="#3a3a3a" stroke-width="0.8"/>
<line x1="233.13" y1="643.8" x2="233.13" y2="645.6" stroke="#3a3a3a" stroke-width="0.8"/>
<line x1="121.92" y1="643.8" x2="121.92" y2="645.6" stroke="#3a3a3a" stroke-width="0.8"/>
<line x1="142.93" y1="643.8" x2="142.93" y2="645.6" stroke="#3a3a3a" stroke-width="0.8"/>
<line x1="172.11" y1="643.8" x2="172.11" y2="645.6" stroke="#3a3a3a" stroke-width="0.8"/>
<line x1="206.75" y1="643.8" x2="206.75" y2="645.6" stroke="#3a3a3a" stroke-width="0.8"/>
<line x1="119.17" y1="643.8" x2="119.17" y2="645.6" stroke="#3a3a3a" stroke-width="0.8"/>
<line x1="145.68" y1="643.8" x2="145.68" y2="645.6" stroke="#3a3a3a" stroke-width="0.8"/>
<line x1="176.73" y1="643.8" x2="176.73" y2="645.6" stroke="#3a3a3a" stroke-width="0.8"/>
<line x1="210.75" y1="643.8" x2="210.75" y2="645.6" stroke="#3a3a3a" stroke-width="0.8"/>
<line x1="117.03" y1="643.8" x2="117.03" y2="645.6" stroke="#3a3a3a" stroke-width="0.8"/>
<line x1="147.81" y1="643.8" x2="147.81" y2="645.6" stroke="#3a3a3a" stroke-width="0.8"/>
<line x1="180.32" y1="643.8" x2="180.32" y2="645.6" stroke="#3a3a3a" stroke-width="0.8"/>
<line x1="213.85" y1="643.8" x2="213.85" y2="645.6" stroke="#3a3a3a" stroke-width="0.8"/>
<line x1="115.29" y1="643.8" x2="115.29" y2="645.6" stroke="#3a3a3a" stroke-width="0.8"/>
<line x1="149.55" y1="643.8" x2="149.55" y2="645.6" stroke="#3a3a3a" stroke-width="0.8"/>
<line x1="183.25" y1="643.8" x2="183.25" y2="645.6" stroke="#3a3a3a" stroke-width="0.8"/>
<line x1="216.39" y1="643.8" x2="216.39" y2="645.6" stroke="#3a3a3a" stroke-width="0.8"/>
<line x1="113.82" y1="643.8" x2="113.82" y2="645.6" stroke="#3a3a3a" stroke-width="0.8"/>
<line x1="151.03" y1="643.8" x2="151.03" y2="645.6" stroke="#3a3a3a" stroke-width="0.8"/>
<line x1="185.73" y1="643.8" x2="185.73" y2="645.6" stroke="#3a3a3a" stroke-width="0.8"/>
<line x1="218.53" y1="643.8" x2="218.53" y2="645.6" stroke="#3a3a3a" stroke-width="0.8"/>
<line x1="112.54" y1="643.8" x2="112.54" y2="645.6" stroke="#3a3a3a" stroke-width="0.8"/>
<line x1="152.31" y1="643.8" x2="152.31" y2="645.6" stroke="#3a3a3a" stroke-width="0.8"/>
<line x1="187.88" y1="643.8" x2="187.88" y2="645.6" stroke="#3a3a3a" stroke-width="0.8"/>
<line x1="220.39" y1="643.8" x2="220.39" y2="645.6" stroke="#3a3a3a" stroke-width="0.8"/>
<line x1="111.41" y1="643.8" x2="111.41" y2="645.6" stroke="#3a3a3a" stroke-width="0.8"/>
<line x1="153.43" y1="643.8" x2="153.43" y2="645.6" stroke="#3a3a3a" stroke-width="0.8"/>
<line x1="189.77" y1="643.8" x2="189.77" y2="645.6" stroke="#3a3a3a" stroke-width="0.8"/>
<line x1="222.02" y1="643.8" x2="222.02" y2="645.6" stroke="#3a3a3a" stroke-width="0.8"/>
<rect x="129.4" y="644.3" width="5" height="2.8" fill="#222" stroke="none" stroke-width="1"/>
<rect x="99.4" y="611.8" width="3" height="5" fill="#222" stroke="none" stroke-width="1"/>
<path d="M158.76,568.76 C158.75,568.51 158.76,568.24 158.83,568.02 C158.91,567.8 159.04,567.53 159.22,567.42 C159.4,567.3 159.68,567.33 159.91,567.33 C160.15,567.32 160.38,567.35 160.61,567.38 C160.84,567.42 161.12,567.41 161.28,567.52 C161.45,567.63 161.54,567.85 161.6,568.05 C161.67,568.26 161.69,568.5 161.69,568.76 C161.7,569.03 161.69,569.39 161.61,569.65 C161.53,569.91 161.37,570.09 161.24,570.33 C161.1,570.56 160.96,570.88 160.79,571.06 C160.62,571.24 160.39,571.35 160.22,571.4 C160.05,571.44 159.9,571.41 159.76,571.32 C159.62,571.24 159.5,571.1 159.39,570.9 C159.27,570.7 159.17,570.36 159.09,570.13 C159.01,569.89 158.97,569.7 158.91,569.47 C158.86,569.24 158.77,569 158.76,568.76Z" stroke="#5a5a5a" stroke-width="0.5" fill="none" />
<path d="M156.07,568.37 C156.05,567.76 156.09,567.07 156.3,566.53 C156.51,565.99 156.89,565.42 157.33,565.11 C157.78,564.79 158.4,564.71 158.98,564.63 C159.56,564.54 160.26,564.45 160.82,564.6 C161.38,564.76 161.89,565.23 162.32,565.54 C162.76,565.86 163.22,566.01 163.42,566.48 C163.63,566.96 163.61,567.7 163.57,568.39 C163.52,569.07 163.34,569.91 163.15,570.58 C162.96,571.26 162.75,571.88 162.43,572.44 C162.1,573 161.63,573.52 161.19,573.96 C160.75,574.4 160.23,574.9 159.79,575.09 C159.35,575.28 158.9,575.36 158.57,575.11 C158.23,574.87 158.03,574.19 157.79,573.62 C157.54,573.06 157.32,572.3 157.09,571.73 C156.87,571.16 156.59,570.76 156.42,570.2 C156.25,569.64 156.09,568.98 156.07,568.37Z" stroke="#5a5a5a" stroke-width="0.5" fill="none" />
<path d="M154.51,568.17 C154.48,567.31 154.34,566.32 154.59,565.52 C154.83,564.73 155.35,563.88 155.97,563.42 C156.6,562.96 157.51,562.83 158.34,562.77 C159.16,562.71 160.13,562.83 160.93,563.04 C161.72,563.26 162.51,563.64 163.11,564.06 C163.71,564.47 164.27,564.85 164.53,565.54 C164.8,566.23 164.7,567.21 164.69,568.18 C164.68,569.14 164.75,570.41 164.48,571.33 C164.22,572.25 163.6,572.87 163.11,573.7 C162.62,574.53 162.13,575.74 161.54,576.32 C160.94,576.9 160.17,576.96 159.54,577.18 C158.91,577.41 158.23,577.96 157.76,577.67 C157.29,577.38 157.1,576.22 156.72,575.44 C156.35,574.66 155.85,573.77 155.52,572.98 C155.19,572.19 154.9,571.49 154.74,570.69 C154.57,569.89 154.53,569.03 154.51,568.17Z" stroke="#5a5a5a" stroke-width="0.5" fill="none" />
<path d="M152.98,567.96 C152.94,566.91 152.94,565.75 153.25,564.76 C153.57,563.78 154.1,562.61 154.87,562.06 C155.63,561.51 156.84,561.53 157.86,561.46 C158.89,561.39 160.01,561.47 161.02,561.63 C162.04,561.8 163.24,561.91 163.96,562.45 C164.68,562.99 165.03,563.95 165.33,564.87 C165.64,565.78 165.8,566.79 165.8,567.95 C165.79,569.12 165.62,570.66 165.3,571.84 C164.98,573.03 164.48,574.08 163.88,575.04 C163.28,576.01 162.47,576.86 161.7,577.66 C160.93,578.47 160,579.53 159.24,579.86 C158.48,580.2 157.69,580.14 157.13,579.65 C156.56,579.16 156.31,577.88 155.85,576.92 C155.39,575.97 154.76,574.89 154.36,573.92 C153.96,572.94 153.7,572.07 153.46,571.08 C153.23,570.09 153.01,569.01 152.98,567.96Z" stroke="#5a5a5a" stroke-width="0.5" fill="none" />
<path d="M151.55,567.76 C151.54,566.54 151.69,565.22 152.11,564.13 C152.54,563.03 153.22,561.87 154.09,561.17 C154.96,560.46 156.15,560.09 157.33,559.9 C158.5,559.7 159.96,559.73 161.15,560 C162.33,560.28 163.56,560.89 164.43,561.55 C165.3,562.21 165.97,562.93 166.38,563.96 C166.79,564.99 166.9,566.33 166.87,567.73 C166.85,569.14 166.6,570.95 166.23,572.39 C165.86,573.83 165.36,575.22 164.65,576.37 C163.93,577.52 162.87,578.39 161.93,579.32 C160.99,580.24 159.91,581.5 159,581.9 C158.09,582.3 157.21,582.18 156.48,581.69 C155.75,581.21 155.22,580.09 154.64,578.97 C154.07,577.85 153.43,576.23 153.02,574.97 C152.61,573.72 152.43,572.66 152.19,571.46 C151.94,570.26 151.56,568.98 151.55,567.76Z" stroke="#5a5a5a" stroke-width="0.5" fill="none" />
<path d="M150.45,567.63 C150.46,566.15 149.92,564.31 150.36,563.04 C150.81,561.76 152.04,560.73 153.12,559.98 C154.2,559.22 155.5,558.63 156.84,558.5 C158.19,558.37 159.81,558.91 161.19,559.2 C162.57,559.49 164.11,559.57 165.12,560.25 C166.12,560.92 166.78,562.03 167.22,563.25 C167.66,564.46 167.86,565.97 167.78,567.56 C167.7,569.14 167.17,571.1 166.75,572.75 C166.33,574.4 166,576.01 165.25,577.45 C164.51,578.89 163.33,580.34 162.25,581.4 C161.17,582.45 159.85,583.4 158.78,583.77 C157.72,584.14 156.65,584.28 155.87,583.64 C155.09,582.99 154.71,581.24 154.1,579.9 C153.5,578.57 152.86,576.95 152.23,575.63 C151.61,574.3 150.63,573.29 150.33,571.95 C150.03,570.62 150.45,569.12 150.45,567.63Z" stroke="#5a5a5a" stroke-width="0.5" fill="none" />
<path d="M148.98,567.41 C149,565.79 148.99,564.07 149.47,562.56 C149.95,561.05 150.68,559.19 151.85,558.34 C153.02,557.5 154.89,557.69 156.47,557.49 C158.06,557.28 159.86,556.77 161.37,557.11 C162.87,557.45 164.35,558.65 165.51,559.51 C166.67,560.37 167.82,560.95 168.33,562.27 C168.83,563.59 168.67,565.59 168.55,567.42 C168.43,569.25 168.08,571.45 167.6,573.25 C167.11,575.04 166.49,576.59 165.64,578.2 C164.78,579.81 163.63,581.79 162.46,582.89 C161.3,583.99 159.84,584.38 158.64,584.8 C157.45,585.22 156.25,585.9 155.31,585.4 C154.37,584.9 153.64,583.31 152.98,581.81 C152.32,580.3 151.94,577.95 151.34,576.35 C150.74,574.76 149.77,573.75 149.38,572.25 C148.99,570.76 148.97,569.03 148.98,567.41Z" stroke="#5a5a5a" stroke-width="0.5" fill="none" />
<path d="M147.8,567.25 C147.74,565.47 147.71,563.49 148.24,561.83 C148.77,560.17 149.68,558.22 150.98,557.28 C152.28,556.34 154.29,556.29 156.02,556.18 C157.76,556.07 159.71,556.24 161.38,556.63 C163.05,557.01 164.75,557.67 166.05,558.49 C167.34,559.32 168.58,560.13 169.12,561.59 C169.66,563.06 169.34,565.24 169.28,567.29 C169.22,569.33 169.22,571.81 168.74,573.86 C168.27,575.9 167.46,577.82 166.44,579.55 C165.43,581.27 163.99,582.87 162.64,584.2 C161.29,585.53 159.63,587.14 158.35,587.52 C157.07,587.9 155.96,587.25 154.96,586.48 C153.96,585.71 153.18,584.4 152.34,582.9 C151.5,581.39 150.55,579.18 149.92,577.45 C149.3,575.72 148.96,574.22 148.6,572.52 C148.25,570.81 147.86,569.03 147.8,567.25Z" stroke="#5a5a5a" stroke-width="0.5" fill="none" />
<path d="M146.51,567.05 C146.56,565.11 146.6,562.97 147.29,561.29 C147.98,559.61 149.25,558.02 150.64,556.98 C152.03,555.94 153.83,555.26 155.63,555.06 C157.42,554.85 159.54,555.47 161.43,555.76 C163.31,556.05 165.62,555.85 166.95,556.79 C168.27,557.72 168.82,559.69 169.4,561.39 C169.97,563.1 170.4,564.87 170.42,567.03 C170.43,569.18 170.15,572.18 169.49,574.3 C168.83,576.42 167.55,577.81 166.45,579.74 C165.35,581.68 164.28,584.3 162.89,585.89 C161.51,587.47 159.6,588.76 158.16,589.24 C156.71,589.72 155.33,589.6 154.25,588.74 C153.17,587.88 152.57,585.8 151.65,584.07 C150.74,582.34 149.53,580.23 148.75,578.38 C147.97,576.52 147.36,574.83 146.99,572.95 C146.61,571.06 146.46,569 146.51,567.05Z" stroke="#5a5a5a" stroke-width="0.5" fill="none" />
<path d="M145.62,566.96 C145.62,564.76 144.83,562.01 145.53,560.17 C146.22,558.33 148.17,556.99 149.78,555.92 C151.39,554.84 153.21,554.02 155.17,553.72 C157.14,553.41 159.53,553.71 161.57,554.09 C163.6,554.46 165.92,554.88 167.38,555.97 C168.83,557.06 169.63,558.81 170.29,560.62 C170.94,562.43 171.38,564.52 171.3,566.84 C171.22,569.16 170.47,572.17 169.81,574.56 C169.15,576.95 168.49,579.24 167.33,581.19 C166.18,583.14 164.44,584.77 162.89,586.24 C161.34,587.7 159.57,589.31 158.05,589.98 C156.53,590.65 154.98,590.99 153.77,590.25 C152.56,589.51 151.8,587.38 150.79,585.53 C149.79,583.69 148.63,581.21 147.74,579.18 C146.86,577.15 145.85,575.38 145.49,573.35 C145.14,571.31 145.61,569.15 145.62,566.96Z" stroke="#5a5a5a" stroke-width="0.5" fill="none" />
<path d="M144.22,566.73 C144.38,564.5 144.72,562.31 145.46,560.26 C146.2,558.22 147.1,555.74 148.66,554.46 C150.21,553.18 152.61,552.86 154.78,552.57 C156.95,552.28 159.57,552.19 161.67,552.74 C163.78,553.29 165.8,554.74 167.42,555.89 C169.04,557.04 170.7,557.82 171.39,559.64 C172.09,561.47 171.66,564.24 171.6,566.84 C171.54,569.43 171.63,572.61 171.04,575.19 C170.44,577.77 169.33,580.2 168.01,582.34 C166.7,584.48 164.86,586.47 163.17,588.03 C161.47,589.59 159.51,591.01 157.85,591.67 C156.19,592.34 154.43,592.98 153.21,592.03 C151.99,591.08 151.56,588.03 150.53,585.99 C149.51,583.94 148.06,581.8 147.06,579.74 C146.06,577.68 145,575.81 144.53,573.64 C144.06,571.47 144.07,568.96 144.22,566.73Z" stroke="#5a5a5a" stroke-width="0.5" fill="none" />
<path d="M142.53,566.43 C142.49,563.97 142.79,561.29 143.66,559.11 C144.53,556.93 145.99,554.7 147.75,553.33 C149.52,551.96 151.91,551.09 154.24,550.9 C156.56,550.71 159.39,551.56 161.69,552.18 C164,552.81 166.31,553.54 168.07,554.65 C169.84,555.76 171.61,556.84 172.3,558.85 C173,560.86 172.43,563.95 172.26,566.71 C172.09,569.48 171.93,572.7 171.28,575.41 C170.63,578.13 169.65,580.58 168.35,582.99 C167.05,585.4 165.25,588.08 163.46,589.89 C161.67,591.69 159.37,593.34 157.62,593.81 C155.87,594.28 154.37,593.67 152.99,592.71 C151.6,591.74 150.39,590.11 149.34,588.01 C148.28,585.91 147.55,582.47 146.64,580.11 C145.73,577.75 144.56,576.14 143.88,573.86 C143.19,571.58 142.56,568.89 142.53,566.43Z" stroke="#5a5a5a" stroke-width="0.5" fill="none" />
<path d="M141.89,566.39 C141.86,563.72 141.33,560.45 142.26,558.24 C143.19,556.02 145.49,554.33 147.47,553.09 C149.45,551.85 151.75,551.09 154.13,550.79 C156.51,550.49 159.36,550.77 161.75,551.28 C164.15,551.79 166.77,552.54 168.51,553.83 C170.24,555.12 171.36,556.92 172.17,559.02 C172.98,561.13 173.4,563.67 173.35,566.46 C173.3,569.25 172.67,572.96 171.85,575.77 C171.04,578.58 169.86,580.81 168.48,583.34 C167.11,585.88 165.43,589.21 163.61,590.98 C161.79,592.76 159.44,593.38 157.56,594 C155.69,594.61 153.75,595.66 152.37,594.67 C150.99,593.69 150.37,590.41 149.31,588.08 C148.24,585.74 147.13,582.96 145.98,580.65 C144.84,578.34 143.12,576.62 142.44,574.25 C141.76,571.87 141.92,569.05 141.89,566.39Z" stroke="#5a5a5a" stroke-width="0.5" fill="none" />
<path d="M140.59,566.18 C140.4,563.4 140.27,559.99 141.31,557.69 C142.36,555.39 144.82,553.81 146.86,552.37 C148.9,550.93 151.08,549.39 153.57,549.04 C156.07,548.7 159.2,549.77 161.82,550.3 C164.45,550.84 167.42,550.97 169.33,552.27 C171.24,553.56 172.47,555.72 173.26,558.06 C174.06,560.4 174.17,563.26 174.11,566.31 C174.04,569.35 173.73,573.33 172.86,576.3 C172,579.28 170.46,581.58 168.93,584.15 C167.4,586.72 165.63,589.59 163.68,591.72 C161.74,593.84 159.25,596.09 157.27,596.89 C155.29,597.68 153.34,597.59 151.8,596.48 C150.26,595.38 149.32,592.63 148.03,590.23 C146.75,587.84 145.01,584.75 144.08,582.09 C143.15,579.44 143.03,576.98 142.45,574.33 C141.87,571.68 140.78,568.95 140.59,566.18Z" stroke="#5a5a5a" stroke-width="0.5" fill="none" />
<path d="M139.57,566.03 C139.4,563.1 139.25,559.6 140.27,557.07 C141.28,554.53 143.48,552.2 145.68,550.82 C147.87,549.44 150.72,549.14 153.43,548.79 C156.14,548.44 159.32,548.13 161.96,548.73 C164.59,549.34 167.22,551 169.25,552.43 C171.28,553.85 173.15,555.01 174.15,557.28 C175.14,559.55 175.41,562.86 175.2,566.05 C174.98,569.24 173.78,573.21 172.85,576.41 C171.91,579.61 171.09,582.51 169.59,585.25 C168.08,587.98 165.91,590.69 163.84,592.83 C161.76,594.97 159.18,597.33 157.12,598.1 C155.06,598.87 153.01,598.75 151.49,597.45 C149.97,596.14 149.2,592.86 148.02,590.27 C146.84,587.68 145.54,584.52 144.41,581.91 C143.29,579.31 142.08,577.3 141.28,574.65 C140.47,572.01 139.74,568.97 139.57,566.03Z" stroke="#5a5a5a" stroke-width="0.5" fill="none" />
<path d="M139.66,566.16 C139.81,563.21 139.63,560.08 140.5,557.36 C141.37,554.64 142.82,551.58 144.87,549.81 C146.92,548.05 149.96,546.98 152.8,546.78 C155.64,546.57 159.06,547.91 161.94,548.6 C164.81,549.28 167.96,549.5 170.05,550.9 C172.14,552.31 173.53,554.51 174.48,557.02 C175.44,559.52 175.78,562.57 175.79,565.94 C175.8,569.31 175.51,573.9 174.53,577.22 C173.55,580.54 171.64,583.02 169.89,585.85 C168.14,588.67 166.18,591.97 164.03,594.16 C161.88,596.35 159.13,598.31 157,598.98 C154.87,599.66 152.9,599.39 151.24,598.22 C149.58,597.05 148.51,594.4 147.03,591.94 C145.56,589.48 143.62,586.26 142.38,583.45 C141.15,580.64 140.08,577.96 139.63,575.08 C139.18,572.19 139.52,569.11 139.66,566.16Z" stroke="#5a5a5a" stroke-width="0.5" fill="none" />
<path d="M177.09,607 C177.13,606.63 177.28,606.42 177.47,606.22 C177.66,606.02 177.92,605.87 178.23,605.8 C178.54,605.73 179.01,605.76 179.34,605.79 C179.68,605.83 180.03,605.83 180.25,606 C180.47,606.17 180.59,606.51 180.68,606.81 C180.76,607.11 180.76,607.46 180.76,607.8 C180.75,608.14 180.8,608.57 180.66,608.84 C180.52,609.1 180.24,609.28 179.92,609.4 C179.6,609.52 179.11,609.58 178.75,609.54 C178.39,609.5 178.03,609.36 177.78,609.17 C177.53,608.98 177.39,608.75 177.27,608.39 C177.16,608.03 177.06,607.36 177.09,607Z" stroke="#444" stroke-width="0.5" fill="none" />
<path d="M171.99,604.87 C172.08,603.78 172.74,603.19 173.36,602.61 C173.97,602.04 174.74,601.66 175.69,601.44 C176.64,601.21 178.02,601.19 179.04,601.25 C180.06,601.32 181.16,601.32 181.84,601.84 C182.52,602.36 182.89,603.45 183.11,604.38 C183.34,605.3 183.26,606.39 183.21,607.39 C183.16,608.4 183.2,609.58 182.81,610.41 C182.41,611.23 181.78,611.95 180.84,612.36 C179.91,612.76 178.32,612.94 177.21,612.82 C176.1,612.7 174.91,612.27 174.18,611.66 C173.45,611.05 173.18,610.3 172.82,609.17 C172.45,608.04 171.9,605.97 171.99,604.87Z" stroke="#444" stroke-width="0.5" fill="none" />
<path d="M169.86,603.98 C170,602.55 170.68,601.71 171.46,600.95 C172.24,600.2 173.3,599.73 174.53,599.45 C175.77,599.18 177.56,599.18 178.88,599.29 C180.2,599.39 181.52,599.47 182.44,600.11 C183.37,600.75 184.06,601.96 184.42,603.14 C184.77,604.33 184.62,605.85 184.55,607.21 C184.48,608.56 184.52,610.14 183.99,611.26 C183.46,612.37 182.61,613.4 181.36,613.89 C180.11,614.38 177.99,614.38 176.51,614.2 C175.03,614.03 173.47,613.6 172.49,612.83 C171.51,612.06 171.06,611.04 170.62,609.57 C170.18,608.09 169.72,605.42 169.86,603.98Z" stroke="#444" stroke-width="0.5" fill="none" />
<path d="M168.1,603.25 C168.25,601.49 168.73,600.2 169.67,599.35 C170.61,598.5 172.2,598.53 173.73,598.16 C175.26,597.79 177.3,597.02 178.84,597.1 C180.38,597.19 181.96,597.77 182.98,598.66 C183.99,599.56 184.55,601.08 184.93,602.48 C185.31,603.88 185.32,605.52 185.26,607.06 C185.2,608.6 185.22,610.46 184.59,611.71 C183.96,612.96 182.91,613.98 181.47,614.57 C180.04,615.15 177.67,615.4 175.98,615.24 C174.28,615.08 172.49,614.5 171.29,613.61 C170.09,612.73 169.32,611.65 168.79,609.92 C168.26,608.19 167.95,605.01 168.1,603.25Z" stroke="#444" stroke-width="0.5" fill="none" />
<path d="M166.69,602.66 C166.88,600.63 167.22,599.12 168.23,598.07 C169.25,597.02 171.02,596.68 172.76,596.36 C174.5,596.05 176.85,596.06 178.67,596.17 C180.5,596.28 182.47,596.12 183.71,597.01 C184.94,597.9 185.57,599.84 186.06,601.49 C186.55,603.15 186.73,605.12 186.64,606.93 C186.55,608.74 186.3,610.85 185.54,612.38 C184.78,613.91 183.76,615.47 182.09,616.09 C180.42,616.7 177.5,616.37 175.53,616.07 C173.55,615.77 171.66,615.26 170.26,614.29 C168.86,613.32 167.69,612.2 167.1,610.26 C166.5,608.32 166.5,604.69 166.69,602.66Z" stroke="#444" stroke-width="0.5" fill="none" />
<path d="M165.74,602.26 C165.81,600.06 166.01,598.25 167.05,597.03 C168.08,595.8 170.03,595.22 171.95,594.9 C173.87,594.57 176.59,594.83 178.56,595.09 C180.53,595.36 182.35,595.53 183.74,596.46 C185.13,597.4 186.32,598.98 186.93,600.7 C187.54,602.43 187.5,604.78 187.39,606.82 C187.28,608.85 187.14,611.25 186.28,612.91 C185.43,614.57 184.14,616.01 182.26,616.76 C180.38,617.5 177.19,617.69 175.02,617.39 C172.86,617.09 170.66,616.17 169.26,614.97 C167.86,613.78 167.19,612.35 166.6,610.23 C166.02,608.11 165.66,604.46 165.74,602.26Z" stroke="#444" stroke-width="0.5" fill="none" />
<path d="M163.92,601.51 C164.03,599.12 164.76,597.4 165.99,596.1 C167.21,594.8 169.18,594.13 171.27,593.71 C173.36,593.29 176.41,593.25 178.54,593.57 C180.66,593.88 182.62,594.43 184.02,595.58 C185.43,596.73 186.35,598.59 186.95,600.44 C187.55,602.3 187.73,604.62 187.63,606.71 C187.53,608.81 187.27,611.31 186.37,613.01 C185.46,614.71 184.12,616.15 182.18,616.93 C180.24,617.71 177.04,617.9 174.72,617.7 C172.4,617.5 169.79,616.93 168.23,615.72 C166.68,614.52 166.08,612.83 165.36,610.46 C164.64,608.09 163.82,603.9 163.92,601.51Z" stroke="#444" stroke-width="0.5" fill="none" />
<path d="M163.31,601.25 C163.64,598.75 164.32,597.11 165.61,595.84 C166.9,594.57 168.91,594.24 171.06,593.63 C173.21,593.02 176.2,592.15 178.51,592.18 C180.82,592.21 183.43,592.52 184.93,593.8 C186.43,595.08 186.95,597.73 187.53,599.86 C188.11,602 188.43,604.3 188.41,606.62 C188.4,608.93 188.42,611.88 187.43,613.74 C186.44,615.61 184.67,616.99 182.49,617.8 C180.3,618.6 176.9,618.76 174.34,618.56 C171.78,618.36 168.9,617.88 167.12,616.6 C165.34,615.31 164.31,613.41 163.67,610.85 C163.04,608.3 162.99,603.75 163.31,601.25Z" stroke="#444" stroke-width="0.5" fill="none" />
<path d="M161.67,600.57 C161.9,597.82 162.69,595.87 164.12,594.46 C165.55,593.04 167.88,592.53 170.25,592.07 C172.63,591.61 175.88,591.55 178.36,591.72 C180.85,591.88 183.45,591.85 185.16,593.06 C186.87,594.28 188.08,596.75 188.62,598.99 C189.16,601.23 188.6,604.06 188.41,606.53 C188.21,608.99 188.39,611.8 187.44,613.79 C186.49,615.78 184.96,617.48 182.71,618.49 C180.45,619.49 176.56,620.12 173.9,619.82 C171.25,619.52 168.63,618.14 166.77,616.67 C164.9,615.2 163.58,613.69 162.73,611.01 C161.89,608.33 161.44,603.33 161.67,600.57Z" stroke="#444" stroke-width="0.5" fill="none" />
<path d="M160.87,600.24 C161.12,597.41 162.16,595.59 163.64,594.09 C165.12,592.59 167.29,591.92 169.76,591.24 C172.22,590.56 175.79,589.87 178.4,590.04 C181.02,590.2 183.74,590.78 185.47,592.23 C187.19,593.68 188.15,596.35 188.74,598.71 C189.33,601.08 189.16,603.87 189.03,606.44 C188.89,609.01 188.93,612 187.92,614.14 C186.92,616.28 185.37,618.26 182.99,619.27 C180.61,620.29 176.55,620.49 173.63,620.24 C170.7,620 167.37,619.32 165.45,617.79 C163.54,616.26 162.92,613.98 162.16,611.05 C161.39,608.13 160.62,603.06 160.87,600.24Z" stroke="#444" stroke-width="0.5" fill="none" />
<path d="M159.25,599.57 C159.48,596.48 160.59,594.33 162.26,592.81 C163.93,591.29 166.62,590.91 169.28,590.44 C171.94,589.97 175.52,589.76 178.22,590 C180.91,590.25 183.51,590.6 185.44,591.91 C187.37,593.23 189.11,595.47 189.8,597.88 C190.48,600.29 189.73,603.56 189.55,606.36 C189.36,609.16 189.72,612.38 188.67,614.66 C187.63,616.94 185.82,619.11 183.28,620.06 C180.74,621 176.37,620.77 173.41,620.33 C170.46,619.89 167.64,618.91 165.55,617.41 C163.46,615.91 161.93,614.31 160.88,611.33 C159.84,608.36 159.03,602.66 159.25,599.57Z" stroke="#444" stroke-width="0.5" fill="none" />
<path d="M159.49,599.66 C159.81,596.48 160.34,594.28 161.84,592.49 C163.34,590.69 165.78,589.52 168.51,588.9 C171.23,588.29 175.32,588.45 178.2,588.81 C181.08,589.17 183.93,589.53 185.79,591.06 C187.65,592.58 188.63,595.43 189.36,597.96 C190.09,600.5 190.27,603.49 190.17,606.28 C190.07,609.08 189.93,612.46 188.76,614.75 C187.58,617.04 185.75,618.88 183.13,620.02 C180.5,621.15 176.14,621.82 173.02,621.56 C169.89,621.29 166.56,620.08 164.38,618.4 C162.19,616.73 160.72,614.65 159.91,611.53 C159.09,608.4 159.16,602.83 159.49,599.66Z" stroke="#444" stroke-width="0.5" fill="none" />
<path d="M158.54,599.26 C158.87,596.03 159.83,594.01 161.42,592.16 C163,590.3 165.28,588.73 168.06,588.14 C170.83,587.56 175.04,588.3 178.05,588.65 C181.06,589 184.01,588.85 186.11,590.25 C188.2,591.64 189.89,594.36 190.63,597.02 C191.37,599.68 190.81,603.22 190.55,606.21 C190.28,609.2 190.2,612.48 189.05,614.97 C187.89,617.46 186.32,620.05 183.62,621.16 C180.92,622.26 176.11,622.01 172.83,621.58 C169.56,621.15 166.2,620.26 163.97,618.59 C161.75,616.91 160.38,614.76 159.48,611.54 C158.57,608.32 158.22,602.49 158.54,599.26Z" stroke="#444" stroke-width="0.5" fill="none" />
<path d="M157.43,598.8 C157.62,595.38 158.49,592.9 160.21,591.04 C161.92,589.17 164.72,588.34 167.71,587.62 C170.7,586.91 174.96,586.55 178.16,586.73 C181.36,586.91 184.92,586.98 186.92,588.72 C188.92,590.45 189.47,594.23 190.16,597.14 C190.84,600.04 191,603.02 191.02,606.14 C191.05,609.25 191.5,613.19 190.31,615.82 C189.12,618.44 186.87,620.72 183.89,621.88 C180.92,623.04 175.86,623.28 172.45,622.78 C169.05,622.29 165.7,620.76 163.46,618.89 C161.22,617.02 160.04,614.91 159.03,611.56 C158.03,608.21 157.23,602.22 157.43,598.8Z" stroke="#444" stroke-width="0.5" fill="none" />
<path d="M156.64,598.47 C156.94,594.83 157.43,592.06 159.2,590.12 C160.97,588.18 164.13,587.44 167.26,586.84 C170.4,586.25 174.75,586.29 178.02,586.56 C181.29,586.83 184.67,586.84 186.9,588.45 C189.13,590.06 190.63,593.28 191.4,596.22 C192.16,599.16 191.78,602.87 191.49,606.07 C191.2,609.27 190.9,612.7 189.66,615.43 C188.42,618.15 186.98,621.11 184.07,622.41 C181.16,623.72 175.83,623.68 172.2,623.26 C168.57,622.85 164.74,621.81 162.28,619.93 C159.81,618.05 158.36,615.55 157.42,611.98 C156.48,608.4 156.35,602.12 156.64,598.47Z" stroke="#444" stroke-width="0.5" fill="none" />
<path d="M155.71,598.09 C155.95,594.41 156.91,591.7 158.8,589.8 C160.7,587.91 163.87,587.52 167.09,586.71 C170.3,585.9 174.84,584.64 178.1,584.94 C181.36,585.25 184.36,586.72 186.64,588.54 C188.92,590.36 190.87,592.93 191.76,595.84 C192.65,598.75 192.11,602.59 191.99,606 C191.86,609.41 192.3,613.51 191.01,616.33 C189.71,619.14 187.37,621.78 184.22,622.9 C181.06,624.02 175.7,623.62 172.08,623.04 C168.46,622.47 164.95,621.32 162.5,619.46 C160.05,617.6 158.52,615.43 157.38,611.87 C156.25,608.31 155.47,601.76 155.71,598.09Z" stroke="#444" stroke-width="0.5" fill="none" />
<polygon points="118.2,558.3 137.7,540.1 174.4,545.8 175.6,582 153.1,601 123.4,596.3" stroke="#222" stroke-width="1" fill="none" stroke-linejoin="miter"/>
<polygon points="176.8,547.2 192.2,551.2 192.2,584.4 177.5,581.3" stroke="#222" stroke-width="1" fill="none" stroke-linejoin="miter"/>
<circle cx="138.4" cy="566.3" r="0.45" fill="#777"/>
<circle cx="120.55" cy="565.59" r="0.45" fill="#777"/>
<circle cx="139.68" cy="581.97" r="0.45" fill="#777"/>
<circle cx="120.23" cy="560.44" r="0.45" fill="#777"/>
<circle cx="139.03" cy="563.46" r="0.45" fill="#777"/>
<circle cx="130.74" cy="585.42" r="0.45" fill="#777"/>
<circle cx="148.78" cy="542.54" r="0.45" fill="#777"/>
<circle cx="136.12" cy="587.58" r="0.45" fill="#777"/>
<circle cx="133.14" cy="584.57" r="0.45" fill="#777"/>
<circle cx="146.06" cy="598.71" r="0.45" fill="#777"/>
<circle cx="122.95" cy="556.28" r="0.45" fill="#777"/>
<circle cx="133.41" cy="579.34" r="0.45" fill="#777"/>
<circle cx="128.34" cy="596.19" r="0.45" fill="#777"/>
<circle cx="140.72" cy="556.35" r="0.45" fill="#777"/>
<circle cx="137.62" cy="592.91" r="0.45" fill="#777"/>
<circle cx="153.73" cy="600.37" r="0.45" fill="#777"/>
<circle cx="122.83" cy="570.02" r="0.45" fill="#777"/>
<circle cx="150.14" cy="598.15" r="0.45" fill="#777"/>
<circle cx="135.58" cy="591.52" r="0.45" fill="#777"/>
<circle cx="146.28" cy="548.6" r="0.45" fill="#777"/>
<circle cx="173.93" cy="547.23" r="0.45" fill="#777"/>
<circle cx="124.75" cy="555.03" r="0.45" fill="#777"/>
<circle cx="185.24" cy="552.11" r="0.45" fill="#777"/>
<circle cx="187.76" cy="558.44" r="0.45" fill="#777"/>
<circle cx="191.25" cy="554.37" r="0.45" fill="#777"/>
<circle cx="188.53" cy="553.36" r="0.45" fill="#777"/>
<circle cx="191.68" cy="579.7" r="0.45" fill="#777"/>
<circle cx="178.46" cy="571.35" r="0.45" fill="#777"/>
<circle cx="124.31" cy="609.44" r="0.45" fill="#777"/>
<circle cx="125.63" cy="619.64" r="0.45" fill="#777"/>
<circle cx="126.95" cy="619.09" r="0.45" fill="#777"/>
<circle cx="141.28" cy="612.18" r="0.45" fill="#777"/>
<circle cx="148.06" cy="615.14" r="0.45" fill="#777"/>
<circle cx="139.56" cy="609.04" r="0.45" fill="#777"/>
<circle cx="129.79" cy="601.15" r="0.45" fill="#777"/>
<circle cx="135.04" cy="608.32" r="0.45" fill="#777"/>
<circle cx="145.55" cy="605.08" r="0.45" fill="#777"/>
<circle cx="134.3" cy="625.48" r="0.45" fill="#777"/>
<circle cx="140.97" cy="616.9" r="0.45" fill="#777"/>
<circle cx="143.01" cy="624.39" r="0.45" fill="#777"/>
<circle cx="128.51" cy="620.19" r="0.45" fill="#777"/>
<circle cx="124.27" cy="604.68" r="0.45" fill="#777"/>
<polygon points="176.8,584.4 192.7,587.5 192.7,626.4 154.3,626.4 153.8,601.7" stroke="#222" stroke-width="1" fill="none" stroke-linejoin="miter"/>
<polygon points="123,597 151.9,602.7 152.4,627.1 125.3,627.1 122.3,611.7" stroke="#222" stroke-width="1" fill="none" stroke-linejoin="miter"/>
<text x="108" y="535.6" font-size="13.1" fill="#111" textLength="62" lengthAdjust="spacingAndGlyphs">47.3 ± 0.5</text>
<text x="199.3" y="554.3" font-size="13.1" fill="#111" textLength="17.3" lengthAdjust="spacingAndGlyphs">3.1</text>
<text x="199.3" y="570.8" font-size="13.1" fill="#111" textLength="30" lengthAdjust="spacingAndGlyphs">± 0.4</text>
<text x="168.5" y="641.2" font-size="13.4" fill="#000" font-weight="bold" textLength="62.3" lengthAdjust="spacingAndGlyphs">42.5 ± 1.6</text>
<text x="321.6" y="369.4" font-size="14.8" fill="#000" font-weight="bold" text-anchor="middle" textLength="35.5" lengthAdjust="spacingAndGlyphs">MZ B</text>
<line x1="255.9" y1="371.7" x2="390.9" y2="371.7" stroke="#8a8a8a" stroke-width="0.9"/>
<line x1="390.9" y1="371.7" x2="390.9" y2="507.2" stroke="#8a8a8a" stroke-width="0.9"/>
<line x1="255.9" y1="371.25" x2="255.9" y2="507.65" stroke="#333" stroke-width="1"/>
<line x1="255.9" y1="507.2" x2="390.9" y2="507.2" stroke="#333" stroke-width="1"/>
<line x1="252.4" y1="507.2" x2="255.9" y2="507.2" stroke="#333" stroke-width="0.9"/>
<line x1="253.6" y1="500.78" x2="255.9" y2="500.78" stroke="#333" stroke-width="0.9"/>
<line x1="253.6" y1="494.36" x2="255.9" y2="494.36" stroke="#333" stroke-width="0.9"/>
<line x1="253.6" y1="487.94" x2="255.9" y2="487.94" stroke="#333" stroke-width="0.9"/>
<line x1="252.4" y1="481.52" x2="255.9" y2="481.52" stroke="#333" stroke-width="0.9"/>
<line x1="253.6" y1="475.1" x2="255.9" y2="475.1" stroke="#333" stroke-width="0.9"/>
<line x1="253.6" y1="468.68" x2="255.9" y2="468.68" stroke="#333" stroke-width="0.9"/>
<line x1="253.6" y1="462.26" x2="255.9" y2="462.26" stroke="#333" stroke-width="0.9"/>
<line x1="252.4" y1="455.84" x2="255.9" y2="455.84" stroke="#333" stroke-width="0.9"/>
<line x1="253.6" y1="449.42" x2="255.9" y2="449.42" stroke="#333" stroke-width="0.9"/>
<line x1="253.6" y1="443" x2="255.9" y2="443" stroke="#333" stroke-width="0.9"/>
<line x1="253.6" y1="436.58" x2="255.9" y2="436.58" stroke="#333" stroke-width="0.9"/>
<line x1="252.4" y1="430.16" x2="255.9" y2="430.16" stroke="#333" stroke-width="0.9"/>
<line x1="253.6" y1="423.74" x2="255.9" y2="423.74" stroke="#333" stroke-width="0.9"/>
<line x1="253.6" y1="417.32" x2="255.9" y2="417.32" stroke="#333" stroke-width="0.9"/>
<line x1="253.6" y1="410.9" x2="255.9" y2="410.9" stroke="#333" stroke-width="0.9"/>
<line x1="252.4" y1="404.48" x2="255.9" y2="404.48" stroke="#333" stroke-width="0.9"/>
<line x1="253.6" y1="398.06" x2="255.9" y2="398.06" stroke="#333" stroke-width="0.9"/>
<line x1="253.6" y1="391.64" x2="255.9" y2="391.64" stroke="#333" stroke-width="0.9"/>
<line x1="253.6" y1="385.22" x2="255.9" y2="385.22" stroke="#333" stroke-width="0.9"/>
<line x1="252.4" y1="378.8" x2="255.9" y2="378.8" stroke="#333" stroke-width="0.9"/>
<line x1="263.96" y1="507.2" x2="263.96" y2="510.4" stroke="#3a3a3a" stroke-width="0.8"/>
<line x1="286.12" y1="507.2" x2="286.12" y2="510.4" stroke="#3a3a3a" stroke-width="0.8"/>
<line x1="308.29" y1="507.2" x2="308.29" y2="510.4" stroke="#3a3a3a" stroke-width="0.8"/>
<line x1="345.56" y1="507.2" x2="345.56" y2="510.4" stroke="#3a3a3a" stroke-width="0.8"/>
<line x1="377.8" y1="507.2" x2="377.8" y2="510.4" stroke="#3a3a3a" stroke-width="0.8"/>
<line x1="279.45" y1="507.2" x2="279.45" y2="509" stroke="#3a3a3a" stroke-width="0.8"/>
<line x1="292.8" y1="507.2" x2="292.8" y2="509" stroke="#3a3a3a" stroke-width="0.8"/>
<line x1="319.51" y1="507.2" x2="319.51" y2="509" stroke="#3a3a3a" stroke-width="0.8"/>
<line x1="355.27" y1="507.2" x2="355.27" y2="509" stroke="#3a3a3a" stroke-width="0.8"/>
<line x1="387.51" y1="507.2" x2="387.51" y2="509" stroke="#3a3a3a" stroke-width="0.8"/>
<line x1="275.55" y1="507.2" x2="275.55" y2="509" stroke="#3a3a3a" stroke-width="0.8"/>
<line x1="296.7" y1="507.2" x2="296.7" y2="509" stroke="#3a3a3a" stroke-width="0.8"/>
<line x1="326.07" y1="507.2" x2="326.07" y2="509" stroke="#3a3a3a" stroke-width="0.8"/>
<line x1="360.95" y1="507.2" x2="360.95" y2="509" stroke="#3a3a3a" stroke-width="0.8"/>
<line x1="272.78" y1="507.2" x2="272.78" y2="509" stroke="#3a3a3a" stroke-width="0.8"/>
<line x1="299.47" y1="507.2" x2="299.47" y2="509" stroke="#3a3a3a" stroke-width="0.8"/>
<line x1="330.73" y1="507.2" x2="330.73" y2="509" stroke="#3a3a3a" stroke-width="0.8"/>
<line x1="364.97" y1="507.2" x2="364.97" y2="509" stroke="#3a3a3a" stroke-width="0.8"/>
<line x1="270.63" y1="507.2" x2="270.63" y2="509" stroke="#3a3a3a" stroke-width="0.8"/>
<line x1="301.62" y1="507.2" x2="301.62" y2="509" stroke="#3a3a3a" stroke-width="0.8"/>
<line x1="334.34" y1="507.2" x2="334.34" y2="509" stroke="#3a3a3a" stroke-width="0.8"/>
<line x1="368.1" y1="507.2" x2="368.1" y2="509" stroke="#3a3a3a" stroke-width="0.8"/>
<line x1="268.88" y1="507.2" x2="268.88" y2="509" stroke="#3a3a3a" stroke-width="0.8"/>
<line x1="303.37" y1="507.2" x2="303.37" y2="509" stroke="#3a3a3a" stroke-width="0.8"/>
<line x1="337.29" y1="507.2" x2="337.29" y2="509" stroke="#3a3a3a" stroke-width="0.8"/>
<line x1="370.65" y1="507.2" x2="370.65" y2="509" stroke="#3a3a3a" stroke-width="0.8"/>
<line x1="267.39" y1="507.2" x2="267.39" y2="509" stroke="#3a3a3a" stroke-width="0.8"/>
<line x1="304.85" y1="507.2" x2="304.85" y2="509" stroke="#3a3a3a" stroke-width="0.8"/>
<line x1="339.79" y1="507.2" x2="339.79" y2="509" stroke="#3a3a3a" stroke-width="0.8"/>
<line x1="372.81" y1="507.2" x2="372.81" y2="509" stroke="#3a3a3a" stroke-width="0.8"/>
<line x1="266.11" y1="507.2" x2="266.11" y2="509" stroke="#3a3a3a" stroke-width="0.8"/>
<line x1="306.14" y1="507.2" x2="306.14" y2="509" stroke="#3a3a3a" stroke-width="0.8"/>
<line x1="341.95" y1="507.2" x2="341.95" y2="509" stroke="#3a3a3a" stroke-width="0.8"/>
<line x1="374.68" y1="507.2" x2="374.68" y2="509" stroke="#3a3a3a" stroke-width="0.8"/>
<line x1="264.97" y1="507.2" x2="264.97" y2="509" stroke="#3a3a3a" stroke-width="0.8"/>
<line x1="307.27" y1="507.2" x2="307.27" y2="509" stroke="#3a3a3a" stroke-width="0.8"/>
<line x1="343.86" y1="507.2" x2="343.86" y2="509" stroke="#3a3a3a" stroke-width="0.8"/>
<line x1="376.33" y1="507.2" x2="376.33" y2="509" stroke="#3a3a3a" stroke-width="0.8"/>
<rect x="284.4" y="507.7" width="5" height="2.8" fill="#222" stroke="none" stroke-width="1"/>
<text x="258.8" y="386.1" font-size="13.5" fill="#000" font-weight="bold" textLength="26.5" lengthAdjust="spacingAndGlyphs">19.6</text>
<text x="258.8" y="403.4" font-size="13.5" fill="#000" font-weight="bold" textLength="37.5" lengthAdjust="spacingAndGlyphs">± 12.1</text>
<text x="388.3" y="386.1" font-size="13.5" fill="#000" font-weight="bold" text-anchor="end" textLength="26.5" lengthAdjust="spacingAndGlyphs">80.4</text>
<text x="388.3" y="403.4" font-size="13.5" fill="#000" font-weight="bold" text-anchor="end" textLength="37.5" lengthAdjust="spacingAndGlyphs">± 12.1</text>
<path d="M282.8,507.2 C284,506.92 287.42,506.37 290,505.5 C292.58,504.63 296.3,503.25 298.3,502 C300.3,500.75 300.88,499.25 302,498 C303.12,496.75 303.95,494.67 305,494.5 C306.05,494.33 307.3,497.42 308.3,497 C309.3,496.58 310.25,493.22 311,492 C311.75,490.78 312.13,490.28 312.8,489.7 C313.47,489.12 314.27,488.95 315,488.5 C315.73,488.05 316.37,487.5 317.2,487 C318.03,486.5 319.12,486.25 320,485.5 C320.88,484.75 321.67,485.08 322.5,482.5 C323.33,479.92 324.08,475.75 325,470 C325.92,464.25 327.27,453.1 328,448 C328.73,442.9 328.78,441.23 329.4,439.4 C330.02,437.57 331.02,439.4 331.7,437 C332.38,434.6 332.83,428.73 333.5,425 C334.17,421.27 335.03,415.43 335.7,414.6 C336.37,413.77 336.88,416.43 337.5,420 C338.12,423.57 338.52,431 339.4,436 C340.28,441 341.87,444.33 342.8,450 C343.73,455.67 344.27,463.67 345,470 C345.73,476.33 346.45,483.33 347.2,488 C347.95,492.67 348.75,495.5 349.5,498 C350.25,500.5 350.95,501.67 351.7,503 C352.45,504.33 353.08,505.3 354,506 C354.92,506.7 356.67,507 357.2,507.2" stroke="#111" stroke-width="0.9" fill="none" />
<line x1="256.6" y1="482.1" x2="317.2" y2="482.1" stroke="#111" stroke-width="1.2"/>
<line x1="256.6" y1="479.6" x2="256.6" y2="484.6" stroke="#111" stroke-width="1.2"/>
<line x1="317.2" y1="479.6" x2="317.2" y2="484.6" stroke="#111" stroke-width="1.2"/>
<line x1="317.2" y1="490.1" x2="388.3" y2="490.1" stroke="#111" stroke-width="1.2"/>
<line x1="317.2" y1="487.6" x2="317.2" y2="492.6" stroke="#111" stroke-width="1.2"/>
<line x1="388.3" y1="487.6" x2="388.3" y2="492.6" stroke="#111" stroke-width="1.2"/>
<line x1="255.9" y1="510" x2="390.9" y2="510" stroke="#8a8a8a" stroke-width="0.9"/>
<line x1="390.9" y1="510" x2="390.9" y2="643.8" stroke="#8a8a8a" stroke-width="0.9"/>
<line x1="255.9" y1="509.55" x2="255.9" y2="644.25" stroke="#333" stroke-width="1"/>
<line x1="255.9" y1="643.8" x2="390.9" y2="643.8" stroke="#333" stroke-width="1"/>
<line x1="252.4" y1="643.8" x2="255.9" y2="643.8" stroke="#333" stroke-width="0.9"/>
<line x1="253.6" y1="637.38" x2="255.9" y2="637.38" stroke="#333" stroke-width="0.9"/>
<line x1="253.6" y1="630.96" x2="255.9" y2="630.96" stroke="#333" stroke-width="0.9"/>
<line x1="253.6" y1="624.54" x2="255.9" y2="624.54" stroke="#333" stroke-width="0.9"/>
<line x1="252.4" y1="618.12" x2="255.9" y2="618.12" stroke="#333" stroke-width="0.9"/>
<line x1="253.6" y1="611.7" x2="255.9" y2="611.7" stroke="#333" stroke-width="0.9"/>
<line x1="253.6" y1="605.28" x2="255.9" y2="605.28" stroke="#333" stroke-width="0.9"/>
<line x1="253.6" y1="598.86" x2="255.9" y2="598.86" stroke="#333" stroke-width="0.9"/>
<line x1="252.4" y1="592.44" x2="255.9" y2="592.44" stroke="#333" stroke-width="0.9"/>
<line x1="253.6" y1="586.02" x2="255.9" y2="586.02" stroke="#333" stroke-width="0.9"/>
<line x1="253.6" y1="579.6" x2="255.9" y2="579.6" stroke="#333" stroke-width="0.9"/>
<line x1="253.6" y1="573.18" x2="255.9" y2="573.18" stroke="#333" stroke-width="0.9"/>
<line x1="252.4" y1="566.76" x2="255.9" y2="566.76" stroke="#333" stroke-width="0.9"/>
<line x1="253.6" y1="560.34" x2="255.9" y2="560.34" stroke="#333" stroke-width="0.9"/>
<line x1="253.6" y1="553.92" x2="255.9" y2="553.92" stroke="#333" stroke-width="0.9"/>
<line x1="253.6" y1="547.5" x2="255.9" y2="547.5" stroke="#333" stroke-width="0.9"/>
<line x1="252.4" y1="541.08" x2="255.9" y2="541.08" stroke="#333" stroke-width="0.9"/>
<line x1="253.6" y1="534.66" x2="255.9" y2="534.66" stroke="#333" stroke-width="0.9"/>
<line x1="253.6" y1="528.24" x2="255.9" y2="528.24" stroke="#333" stroke-width="0.9"/>
<line x1="253.6" y1="521.82" x2="255.9" y2="521.82" stroke="#333" stroke-width="0.9"/>
<line x1="252.4" y1="515.4" x2="255.9" y2="515.4" stroke="#333" stroke-width="0.9"/>
<line x1="263.96" y1="643.8" x2="263.96" y2="647" stroke="#3a3a3a" stroke-width="0.8"/>
<line x1="286.12" y1="643.8" x2="286.12" y2="647" stroke="#3a3a3a" stroke-width="0.8"/>
<line x1="308.29" y1="643.8" x2="308.29" y2="647" stroke="#3a3a3a" stroke-width="0.8"/>
<line x1="345.56" y1="643.8" x2="345.56" y2="647" stroke="#3a3a3a" stroke-width="0.8"/>
<line x1="377.8" y1="643.8" x2="377.8" y2="647" stroke="#3a3a3a" stroke-width="0.8"/>
<line x1="279.45" y1="643.8" x2="279.45" y2="645.6" stroke="#3a3a3a" stroke-width="0.8"/>
<line x1="292.8" y1="643.8" x2="292.8" y2="645.6" stroke="#3a3a3a" stroke-width="0.8"/>
<line x1="319.51" y1="643.8" x2="319.51" y2="645.6" stroke="#3a3a3a" stroke-width="0.8"/>
<line x1="355.27" y1="643.8" x2="355.27" y2="645.6" stroke="#3a3a3a" stroke-width="0.8"/>
<line x1="387.51" y1="643.8" x2="387.51" y2="645.6" stroke="#3a3a3a" stroke-width="0.8"/>
<line x1="275.55" y1="643.8" x2="275.55" y2="645.6" stroke="#3a3a3a" stroke-width="0.8"/>
<line x1="296.7" y1="643.8" x2="296.7" y2="645.6" stroke="#3a3a3a" stroke-width="0.8"/>
<line x1="326.07" y1="643.8" x2="326.07" y2="645.6" stroke="#3a3a3a" stroke-width="0.8"/>
<line x1="360.95" y1="643.8" x2="360.95" y2="645.6" stroke="#3a3a3a" stroke-width="0.8"/>
<line x1="272.78" y1="643.8" x2="272.78" y2="645.6" stroke="#3a3a3a" stroke-width="0.8"/>
<line x1="299.47" y1="643.8" x2="299.47" y2="645.6" stroke="#3a3a3a" stroke-width="0.8"/>
<line x1="330.73" y1="643.8" x2="330.73" y2="645.6" stroke="#3a3a3a" stroke-width="0.8"/>
<line x1="364.97" y1="643.8" x2="364.97" y2="645.6" stroke="#3a3a3a" stroke-width="0.8"/>
<line x1="270.63" y1="643.8" x2="270.63" y2="645.6" stroke="#3a3a3a" stroke-width="0.8"/>
<line x1="301.62" y1="643.8" x2="301.62" y2="645.6" stroke="#3a3a3a" stroke-width="0.8"/>
<line x1="334.34" y1="643.8" x2="334.34" y2="645.6" stroke="#3a3a3a" stroke-width="0.8"/>
<line x1="368.1" y1="643.8" x2="368.1" y2="645.6" stroke="#3a3a3a" stroke-width="0.8"/>
<line x1="268.88" y1="643.8" x2="268.88" y2="645.6" stroke="#3a3a3a" stroke-width="0.8"/>
<line x1="303.37" y1="643.8" x2="303.37" y2="645.6" stroke="#3a3a3a" stroke-width="0.8"/>
<line x1="337.29" y1="643.8" x2="337.29" y2="645.6" stroke="#3a3a3a" stroke-width="0.8"/>
<line x1="370.65" y1="643.8" x2="370.65" y2="645.6" stroke="#3a3a3a" stroke-width="0.8"/>
<line x1="267.39" y1="643.8" x2="267.39" y2="645.6" stroke="#3a3a3a" stroke-width="0.8"/>
<line x1="304.85" y1="643.8" x2="304.85" y2="645.6" stroke="#3a3a3a" stroke-width="0.8"/>
<line x1="339.79" y1="643.8" x2="339.79" y2="645.6" stroke="#3a3a3a" stroke-width="0.8"/>
<line x1="372.81" y1="643.8" x2="372.81" y2="645.6" stroke="#3a3a3a" stroke-width="0.8"/>
<line x1="266.11" y1="643.8" x2="266.11" y2="645.6" stroke="#3a3a3a" stroke-width="0.8"/>
<line x1="306.14" y1="643.8" x2="306.14" y2="645.6" stroke="#3a3a3a" stroke-width="0.8"/>
<line x1="341.95" y1="643.8" x2="341.95" y2="645.6" stroke="#3a3a3a" stroke-width="0.8"/>
<line x1="374.68" y1="643.8" x2="374.68" y2="645.6" stroke="#3a3a3a" stroke-width="0.8"/>
<line x1="264.97" y1="643.8" x2="264.97" y2="645.6" stroke="#3a3a3a" stroke-width="0.8"/>
<line x1="307.27" y1="643.8" x2="307.27" y2="645.6" stroke="#3a3a3a" stroke-width="0.8"/>
<line x1="343.86" y1="643.8" x2="343.86" y2="645.6" stroke="#3a3a3a" stroke-width="0.8"/>
<line x1="376.33" y1="643.8" x2="376.33" y2="645.6" stroke="#3a3a3a" stroke-width="0.8"/>
<rect x="284.4" y="644.3" width="5" height="2.8" fill="#222" stroke="none" stroke-width="1"/>
<text x="258.8" y="522.2" font-size="13.5" fill="#000" font-weight="bold" textLength="26.5" lengthAdjust="spacingAndGlyphs">63.8</text>
<text x="258.8" y="539.6" font-size="13.5" fill="#000" font-weight="bold" textLength="30.5" lengthAdjust="spacingAndGlyphs">± 1.3</text>
<text x="388.3" y="522.2" font-size="13.5" fill="#000" font-weight="bold" text-anchor="end" textLength="26.5" lengthAdjust="spacingAndGlyphs">36.2</text>
<text x="388.3" y="539.6" font-size="13.5" fill="#000" font-weight="bold" text-anchor="end" textLength="30.5" lengthAdjust="spacingAndGlyphs">± 1.3</text>
<path d="M279,643.8 C279.42,643.58 280.67,643.3 281.5,642.5 C282.33,641.7 283.12,640.28 284,639 C284.88,637.72 285.97,636.05 286.8,634.8 C287.63,633.55 288.3,632.38 289,631.5 C289.7,630.62 290.4,630.92 291,629.5 C291.6,628.08 292.1,625.28 292.6,623 C293.1,620.72 293.43,617.8 294,615.8 C294.57,613.8 295.32,612.57 296,611 C296.68,609.43 297.43,607.98 298.1,606.4 C298.77,604.82 299.4,603.08 300,601.5 C300.6,599.92 301.2,598.82 301.7,596.9 C302.2,594.98 302.62,592.57 303,590 C303.38,587.43 303.7,584.67 304,581.5 C304.3,578.33 304.5,573.77 304.8,571 C305.1,568.23 305.35,565.4 305.8,564.9 C306.25,564.4 306.95,566.13 307.5,568 C308.05,569.87 308.65,575.77 309.1,576.1 C309.55,576.43 309.87,572.07 310.2,570 C310.53,567.93 310.75,565.78 311.1,563.7 C311.45,561.62 311.9,558.88 312.3,557.5 C312.7,556.12 313.1,555.15 313.5,555.4 C313.9,555.65 314.3,557.52 314.7,559 C315.1,560.48 315.22,562.33 315.9,564.3 C316.58,566.27 318.02,567.73 318.8,570.8 C319.58,573.87 319.98,579.92 320.6,582.7 C321.22,585.48 321.8,586.32 322.5,587.5 C323.2,588.68 324.22,588.72 324.8,589.8 C325.38,590.88 325.62,592.43 326,594 C326.38,595.57 326.72,596.53 327.1,599.2 C327.48,601.87 327.9,606.43 328.3,610 C328.7,613.57 329.05,618.18 329.5,620.6 C329.95,623.02 330.4,623.42 331,624.5 C331.6,625.58 332.5,625.93 333.1,627.1 C333.7,628.27 334.12,630.22 334.6,631.5 C335.08,632.78 335.35,634.15 336,634.8 C336.65,635.45 337.7,635.3 338.5,635.4 C339.3,635.5 339.93,634.92 340.8,635.4 C341.67,635.88 342.83,637.37 343.7,638.3 C344.57,639.23 345.2,640.08 346,641 C346.8,641.92 348.08,643.33 348.5,643.8" stroke="#111" stroke-width="0.9" fill="none" />
<line x1="256.6" y1="620" x2="317.2" y2="620" stroke="#111" stroke-width="1.2"/>
<line x1="256.6" y1="617.5" x2="256.6" y2="622.5" stroke="#111" stroke-width="1.2"/>
<line x1="317.2" y1="617.5" x2="317.2" y2="622.5" stroke="#111" stroke-width="1.2"/>
<line x1="317.2" y1="628.2" x2="388.3" y2="628.2" stroke="#111" stroke-width="1.2"/>
<line x1="317.2" y1="625.7" x2="317.2" y2="630.7" stroke="#111" stroke-width="1.2"/>
<line x1="388.3" y1="625.7" x2="388.3" y2="630.7" stroke="#111" stroke-width="1.2"/>
<line x1="265" y1="655.6" x2="346" y2="655.6" stroke="#707070" stroke-width="1.6"/>
<line x1="340" y1="655.6" x2="345.7" y2="655.6" stroke="#222" stroke-width="1"/>
<polygon points="351.7,655.6 344.2,652.6 344.2,658.6" stroke="none" stroke-width="0" fill="#000" stroke-linejoin="miter"/>
<text x="356.1" y="659.6" font-size="12.6" fill="#111" textLength="33.8" lengthAdjust="spacingAndGlyphs">CD80</text>
<line x1="451.6" y1="443.35" x2="451.6" y2="580.5" stroke="#333" stroke-width="1"/>
<line x1="451.6" y1="580.5" x2="606.7" y2="580.5" stroke="#333" stroke-width="1"/>
<line x1="448" y1="580.5" x2="451.6" y2="580.5" stroke="#333" stroke-width="1"/>
<text x="446.3" y="585.4" font-size="14.4" fill="#111" text-anchor="end">0</text>
<line x1="448" y1="553.17" x2="451.6" y2="553.17" stroke="#333" stroke-width="1"/>
<text x="446.3" y="558.07" font-size="14.4" fill="#111" text-anchor="end">20</text>
<line x1="448" y1="525.84" x2="451.6" y2="525.84" stroke="#333" stroke-width="1"/>
<text x="446.3" y="530.74" font-size="14.4" fill="#111" text-anchor="end">40</text>
<line x1="448" y1="498.51" x2="451.6" y2="498.51" stroke="#333" stroke-width="1"/>
<text x="446.3" y="503.41" font-size="14.4" fill="#111" text-anchor="end">60</text>
<line x1="448" y1="471.18" x2="451.6" y2="471.18" stroke="#333" stroke-width="1"/>
<text x="446.3" y="476.08" font-size="14.4" fill="#111" text-anchor="end">80</text>
<line x1="448" y1="443.85" x2="451.6" y2="443.85" stroke="#333" stroke-width="1"/>
<text x="446.3" y="448.75" font-size="14.4" fill="#111" text-anchor="end">100</text>
<line x1="490.4" y1="580.5" x2="490.4" y2="584.2" stroke="#333" stroke-width="1"/>
<line x1="567.3" y1="580.5" x2="567.3" y2="584.2" stroke="#333" stroke-width="1"/>
<line x1="473.1" y1="553.72" x2="473.1" y2="537.18" stroke="#222" stroke-width="1.1"/>
<line x1="465.9" y1="537.18" x2="480.3" y2="537.18" stroke="#222" stroke-width="1.1"/>
<rect x="458.7" y="553.72" width="28.8" height="26.78" fill="#fff" stroke="#444" stroke-width="1.2"/>
<line x1="507.7" y1="470.63" x2="507.7" y2="454.1" stroke="#222" stroke-width="1.1"/>
<line x1="500.5" y1="454.1" x2="514.9" y2="454.1" stroke="#222" stroke-width="1.1"/>
<rect x="493.3" y="470.63" width="28.8" height="109.87" fill="#0a0606" stroke="#0a0606" stroke-width="1"/>
<line x1="550.9" y1="493.32" x2="550.9" y2="491.54" stroke="#222" stroke-width="1.1"/>
<line x1="543.7" y1="491.54" x2="558.1" y2="491.54" stroke="#222" stroke-width="1.1"/>
<rect x="536.5" y="493.32" width="28.8" height="87.18" fill="#fff" stroke="#444" stroke-width="1.2"/>
<line x1="585.1" y1="531.03" x2="585.1" y2="529.26" stroke="#222" stroke-width="1.1"/>
<line x1="577.9" y1="529.26" x2="592.3" y2="529.26" stroke="#222" stroke-width="1.1"/>
<rect x="570.7" y="531.03" width="28.8" height="49.47" fill="#0a0606" stroke="#0a0606" stroke-width="1"/>
<text transform="translate(416.7,512.3) rotate(-90)" x="0" y="0" font-size="12.5" fill="#111" text-anchor="middle" textLength="62.5" lengthAdjust="spacingAndGlyphs">% (/ MZ B)</text>
<text x="443.4" y="599" font-size="14" fill="#000" font-weight="bold" textLength="36.6" lengthAdjust="spacingAndGlyphs">CD80</text>
<text x="480.9" y="593.6" font-size="9.5" fill="#000" font-weight="bold" textLength="20.2" lengthAdjust="spacingAndGlyphs">high</text>
<text x="506.2" y="599" font-size="14" fill="#000" font-weight="bold" textLength="21.1" lengthAdjust="spacingAndGlyphs">MZ</text>
<text x="535.8" y="599" font-size="14" fill="#000" font-weight="bold" textLength="37.1" lengthAdjust="spacingAndGlyphs">CD80</text>
<text x="573.8" y="593.6" font-size="9.5" fill="#000" font-weight="bold" textLength="15.4" lengthAdjust="spacingAndGlyphs">low</text>
<text x="594" y="599" font-size="14" fill="#000" font-weight="bold" textLength="21.1" lengthAdjust="spacingAndGlyphs">MZ</text>
<line x1="443.4" y1="604.6" x2="615.1" y2="604.6" stroke="#333" stroke-width="1.1"/>
<text x="487.1" y="619.3" font-size="14" fill="#000" font-weight="bold" textLength="83.6" lengthAdjust="spacingAndGlyphs">Donor cells</text>
<line x1="474.7" y1="413.4" x2="548.7" y2="413.4" stroke="#333" stroke-width="1"/>
<line x1="474.7" y1="412.9" x2="474.7" y2="417.2" stroke="#333" stroke-width="1"/>
<line x1="548.7" y1="412.9" x2="548.7" y2="417.2" stroke="#333" stroke-width="1"/>
<line x1="551" y1="413.4" x2="585.4" y2="413.4" stroke="#333" stroke-width="1"/>
<line x1="551" y1="412.9" x2="551" y2="417.2" stroke="#333" stroke-width="1"/>
<line x1="585.4" y1="412.9" x2="585.4" y2="417.2" stroke="#333" stroke-width="1"/>
<line x1="474.7" y1="439.4" x2="506.8" y2="439.4" stroke="#333" stroke-width="1"/>
<line x1="474.7" y1="438.9" x2="474.7" y2="443.2" stroke="#333" stroke-width="1"/>
<line x1="506.8" y1="438.9" x2="506.8" y2="443.2" stroke="#333" stroke-width="1"/>
<line x1="508.3" y1="439.4" x2="585.9" y2="439.4" stroke="#333" stroke-width="1"/>
<line x1="508.3" y1="438.9" x2="508.3" y2="443.2" stroke="#333" stroke-width="1"/>
<line x1="585.9" y1="438.9" x2="585.9" y2="443.2" stroke="#333" stroke-width="1"/>
<text x="510" y="418" font-size="21" fill="#000" font-weight="bold" textLength="7.4" lengthAdjust="spacingAndGlyphs">*</text>
<text x="567.5" y="409.5" font-size="14" fill="#000" font-weight="bold" text-anchor="middle" textLength="16.2" lengthAdjust="spacingAndGlyphs">ns</text>
<text x="477.8" y="442.9" font-size="21" fill="#000" font-weight="bold" textLength="25" lengthAdjust="spacingAndGlyphs">***</text>
<text x="543" y="443.5" font-size="21" fill="#000" font-weight="bold" textLength="8" lengthAdjust="spacingAndGlyphs">*</text>
<rect x="611.9" y="439.2" width="8.6" height="8.6" fill="#fff" stroke="#333" stroke-width="1"/>
<rect x="611.4" y="453.1" width="9.6" height="9.6" fill="#000" stroke="none" stroke-width="1"/>
<text x="626.6" y="447.9" font-size="12.6" fill="#111" textLength="31.6" lengthAdjust="spacingAndGlyphs">CD80</text>
<text x="659.5" y="444.5" font-size="7.4" fill="#111" textLength="11.2" lengthAdjust="spacingAndGlyphs">low</text>
<text x="626.6" y="462.3" font-size="12.6" fill="#111" textLength="31.6" lengthAdjust="spacingAndGlyphs">CD80</text>
<text x="659.5" y="458.7" font-size="7.4" fill="#111" textLength="14.2" lengthAdjust="spacingAndGlyphs">high</text>
<text x="2.9" y="701.8" font-size="26" fill="#000" font-weight="bold" textLength="15.4" lengthAdjust="spacingAndGlyphs">C</text>
<line x1="45.8" y1="710.4" x2="45.8" y2="992.7" stroke="#333" stroke-width="1.1"/>
<text transform="translate(37.8,851.9) rotate(-90)" x="0" y="0" font-size="15.6" fill="#000" font-weight="bold" text-anchor="middle" textLength="81.8" lengthAdjust="spacingAndGlyphs">Donor cells</text>
<text transform="translate(71,941.3) rotate(-90)" font-size="14.5" font-weight="bold"><tspan fill="#1b1b8f">CD80</tspan><tspan fill="#1b1b8f" font-size="9" dy="-5.6">low</tspan><tspan dy="5.6" fill="#000"> MZ + </tspan><tspan fill="#9a1b2f">CD80</tspan><tspan fill="#9a1b2f" font-size="9" dy="-5.6">high</tspan><tspan dy="5.6" fill="#000"> MZ</tspan></text>
<text transform="translate(98.9,727.8) rotate(-90)" x="0" y="0" font-size="13.2" fill="#111" text-anchor="middle" textLength="32.8" lengthAdjust="spacingAndGlyphs">CD23</text>
<line x1="92.1" y1="994.7" x2="92.1" y2="755.2" stroke="#222" stroke-width="1"/>
<polygon points="92.1,749.2 89.1,756.7 95.1,756.7" stroke="none" stroke-width="0" fill="#000" stroke-linejoin="miter"/>
<line x1="92.1" y1="994.7" x2="194" y2="994.7" stroke="#333" stroke-width="1"/>
<line x1="92.1" y1="994.7" x2="192.9" y2="994.7" stroke="#222" stroke-width="1"/>
<polygon points="198.9,994.7 191.4,991.7 191.4,997.7" stroke="none" stroke-width="0" fill="#000" stroke-linejoin="miter"/>
<text x="204.6" y="998.8" font-size="12.6" fill="#111" textLength="32.5" lengthAdjust="spacingAndGlyphs">CD21</text>
<line x1="104.3" y1="710.7" x2="238.9" y2="710.7" stroke="#8a8a8a" stroke-width="0.9"/>
<line x1="238.9" y1="710.7" x2="238.9" y2="843.9" stroke="#8a8a8a" stroke-width="0.9"/>
<line x1="104.3" y1="710.25" x2="104.3" y2="844.35" stroke="#333" stroke-width="1"/>
<line x1="104.3" y1="843.9" x2="238.9" y2="843.9" stroke="#333" stroke-width="1"/>
<line x1="101.1" y1="835.95" x2="104.3" y2="835.95" stroke="#3a3a3a" stroke-width="0.8"/>
<line x1="101.1" y1="814.08" x2="104.3" y2="814.08" stroke="#3a3a3a" stroke-width="0.8"/>
<line x1="101.1" y1="792.21" x2="104.3" y2="792.21" stroke="#3a3a3a" stroke-width="0.8"/>
<line x1="101.1" y1="755.43" x2="104.3" y2="755.43" stroke="#3a3a3a" stroke-width="0.8"/>
<line x1="101.1" y1="723.62" x2="104.3" y2="723.62" stroke="#3a3a3a" stroke-width="0.8"/>
<line x1="102.5" y1="820.66" x2="104.3" y2="820.66" stroke="#3a3a3a" stroke-width="0.8"/>
<line x1="102.5" y1="807.5" x2="104.3" y2="807.5" stroke="#3a3a3a" stroke-width="0.8"/>
<line x1="102.5" y1="781.14" x2="104.3" y2="781.14" stroke="#3a3a3a" stroke-width="0.8"/>
<line x1="102.5" y1="745.86" x2="104.3" y2="745.86" stroke="#3a3a3a" stroke-width="0.8"/>
<line x1="102.5" y1="714.05" x2="104.3" y2="714.05" stroke="#3a3a3a" stroke-width="0.8"/>
<line x1="102.5" y1="824.51" x2="104.3" y2="824.51" stroke="#3a3a3a" stroke-width="0.8"/>
<line x1="102.5" y1="803.65" x2="104.3" y2="803.65" stroke="#3a3a3a" stroke-width="0.8"/>
<line x1="102.5" y1="774.66" x2="104.3" y2="774.66" stroke="#3a3a3a" stroke-width="0.8"/>
<line x1="102.5" y1="740.25" x2="104.3" y2="740.25" stroke="#3a3a3a" stroke-width="0.8"/>
<line x1="102.5" y1="827.25" x2="104.3" y2="827.25" stroke="#3a3a3a" stroke-width="0.8"/>
<line x1="102.5" y1="800.91" x2="104.3" y2="800.91" stroke="#3a3a3a" stroke-width="0.8"/>
<line x1="102.5" y1="770.07" x2="104.3" y2="770.07" stroke="#3a3a3a" stroke-width="0.8"/>
<line x1="102.5" y1="736.28" x2="104.3" y2="736.28" stroke="#3a3a3a" stroke-width="0.8"/>
<line x1="102.5" y1="829.36" x2="104.3" y2="829.36" stroke="#3a3a3a" stroke-width="0.8"/>
<line x1="102.5" y1="798.79" x2="104.3" y2="798.79" stroke="#3a3a3a" stroke-width="0.8"/>
<line x1="102.5" y1="766.5" x2="104.3" y2="766.5" stroke="#3a3a3a" stroke-width="0.8"/>
<line x1="102.5" y1="733.2" x2="104.3" y2="733.2" stroke="#3a3a3a" stroke-width="0.8"/>
<line x1="102.5" y1="831.1" x2="104.3" y2="831.1" stroke="#3a3a3a" stroke-width="0.8"/>
<line x1="102.5" y1="797.06" x2="104.3" y2="797.06" stroke="#3a3a3a" stroke-width="0.8"/>
<line x1="102.5" y1="763.59" x2="104.3" y2="763.59" stroke="#3a3a3a" stroke-width="0.8"/>
<line x1="102.5" y1="730.68" x2="104.3" y2="730.68" stroke="#3a3a3a" stroke-width="0.8"/>
<line x1="102.5" y1="832.56" x2="104.3" y2="832.56" stroke="#3a3a3a" stroke-width="0.8"/>
<line x1="102.5" y1="795.6" x2="104.3" y2="795.6" stroke="#3a3a3a" stroke-width="0.8"/>
<line x1="102.5" y1="761.13" x2="104.3" y2="761.13" stroke="#3a3a3a" stroke-width="0.8"/>
<line x1="102.5" y1="728.55" x2="104.3" y2="728.55" stroke="#3a3a3a" stroke-width="0.8"/>
<line x1="102.5" y1="833.83" x2="104.3" y2="833.83" stroke="#3a3a3a" stroke-width="0.8"/>
<line x1="102.5" y1="794.33" x2="104.3" y2="794.33" stroke="#3a3a3a" stroke-width="0.8"/>
<line x1="102.5" y1="759" x2="104.3" y2="759" stroke="#3a3a3a" stroke-width="0.8"/>
<line x1="102.5" y1="726.7" x2="104.3" y2="726.7" stroke="#3a3a3a" stroke-width="0.8"/>
<line x1="102.5" y1="834.95" x2="104.3" y2="834.95" stroke="#3a3a3a" stroke-width="0.8"/>
<line x1="102.5" y1="793.21" x2="104.3" y2="793.21" stroke="#3a3a3a" stroke-width="0.8"/>
<line x1="102.5" y1="757.11" x2="104.3" y2="757.11" stroke="#3a3a3a" stroke-width="0.8"/>
<line x1="102.5" y1="725.08" x2="104.3" y2="725.08" stroke="#3a3a3a" stroke-width="0.8"/>
<line x1="112.34" y1="843.9" x2="112.34" y2="847.1" stroke="#3a3a3a" stroke-width="0.8"/>
<line x1="134.43" y1="843.9" x2="134.43" y2="847.1" stroke="#3a3a3a" stroke-width="0.8"/>
<line x1="156.53" y1="843.9" x2="156.53" y2="847.1" stroke="#3a3a3a" stroke-width="0.8"/>
<line x1="193.7" y1="843.9" x2="193.7" y2="847.1" stroke="#3a3a3a" stroke-width="0.8"/>
<line x1="225.84" y1="843.9" x2="225.84" y2="847.1" stroke="#3a3a3a" stroke-width="0.8"/>
<line x1="127.78" y1="843.9" x2="127.78" y2="845.7" stroke="#3a3a3a" stroke-width="0.8"/>
<line x1="141.09" y1="843.9" x2="141.09" y2="845.7" stroke="#3a3a3a" stroke-width="0.8"/>
<line x1="167.72" y1="843.9" x2="167.72" y2="845.7" stroke="#3a3a3a" stroke-width="0.8"/>
<line x1="203.37" y1="843.9" x2="203.37" y2="845.7" stroke="#3a3a3a" stroke-width="0.8"/>
<line x1="235.52" y1="843.9" x2="235.52" y2="845.7" stroke="#3a3a3a" stroke-width="0.8"/>
<line x1="123.89" y1="843.9" x2="123.89" y2="845.7" stroke="#3a3a3a" stroke-width="0.8"/>
<line x1="144.98" y1="843.9" x2="144.98" y2="845.7" stroke="#3a3a3a" stroke-width="0.8"/>
<line x1="174.27" y1="843.9" x2="174.27" y2="845.7" stroke="#3a3a3a" stroke-width="0.8"/>
<line x1="209.03" y1="843.9" x2="209.03" y2="845.7" stroke="#3a3a3a" stroke-width="0.8"/>
<line x1="121.13" y1="843.9" x2="121.13" y2="845.7" stroke="#3a3a3a" stroke-width="0.8"/>
<line x1="147.74" y1="843.9" x2="147.74" y2="845.7" stroke="#3a3a3a" stroke-width="0.8"/>
<line x1="178.91" y1="843.9" x2="178.91" y2="845.7" stroke="#3a3a3a" stroke-width="0.8"/>
<line x1="213.05" y1="843.9" x2="213.05" y2="845.7" stroke="#3a3a3a" stroke-width="0.8"/>
<line x1="118.99" y1="843.9" x2="118.99" y2="845.7" stroke="#3a3a3a" stroke-width="0.8"/>
<line x1="149.88" y1="843.9" x2="149.88" y2="845.7" stroke="#3a3a3a" stroke-width="0.8"/>
<line x1="182.51" y1="843.9" x2="182.51" y2="845.7" stroke="#3a3a3a" stroke-width="0.8"/>
<line x1="216.17" y1="843.9" x2="216.17" y2="845.7" stroke="#3a3a3a" stroke-width="0.8"/>
<line x1="117.24" y1="843.9" x2="117.24" y2="845.7" stroke="#3a3a3a" stroke-width="0.8"/>
<line x1="151.63" y1="843.9" x2="151.63" y2="845.7" stroke="#3a3a3a" stroke-width="0.8"/>
<line x1="185.45" y1="843.9" x2="185.45" y2="845.7" stroke="#3a3a3a" stroke-width="0.8"/>
<line x1="218.71" y1="843.9" x2="218.71" y2="845.7" stroke="#3a3a3a" stroke-width="0.8"/>
<line x1="115.76" y1="843.9" x2="115.76" y2="845.7" stroke="#3a3a3a" stroke-width="0.8"/>
<line x1="153.11" y1="843.9" x2="153.11" y2="845.7" stroke="#3a3a3a" stroke-width="0.8"/>
<line x1="187.94" y1="843.9" x2="187.94" y2="845.7" stroke="#3a3a3a" stroke-width="0.8"/>
<line x1="220.86" y1="843.9" x2="220.86" y2="845.7" stroke="#3a3a3a" stroke-width="0.8"/>
<line x1="114.48" y1="843.9" x2="114.48" y2="845.7" stroke="#3a3a3a" stroke-width="0.8"/>
<line x1="154.39" y1="843.9" x2="154.39" y2="845.7" stroke="#3a3a3a" stroke-width="0.8"/>
<line x1="190.1" y1="843.9" x2="190.1" y2="845.7" stroke="#3a3a3a" stroke-width="0.8"/>
<line x1="222.73" y1="843.9" x2="222.73" y2="845.7" stroke="#3a3a3a" stroke-width="0.8"/>
<line x1="113.35" y1="843.9" x2="113.35" y2="845.7" stroke="#3a3a3a" stroke-width="0.8"/>
<line x1="155.52" y1="843.9" x2="155.52" y2="845.7" stroke="#3a3a3a" stroke-width="0.8"/>
<line x1="192" y1="843.9" x2="192" y2="845.7" stroke="#3a3a3a" stroke-width="0.8"/>
<line x1="224.37" y1="843.9" x2="224.37" y2="845.7" stroke="#3a3a3a" stroke-width="0.8"/>
<rect x="131.3" y="844.4" width="5" height="2.8" fill="#222" stroke="none" stroke-width="1"/>
<rect x="101.3" y="811.9" width="3" height="5" fill="#222" stroke="none" stroke-width="1"/>
<path d="M127,813 C127.17,810.92 127.5,808.03 129,806.5 C130.5,804.97 133.17,804.22 136,803.8 C138.83,803.38 143.17,803.55 146,804 C148.83,804.45 151.17,805.75 153,806.5 C154.83,807.25 155.5,808.67 157,808.5 C158.5,808.33 159.5,806.37 162,805.5 C164.5,804.63 168.33,803.63 172,803.3 C175.67,802.97 180.67,803.05 184,803.5 C187.33,803.95 190,804.58 192,806 C194,807.42 195.5,809.92 196,812 C196.5,814.08 196.33,816.7 195,818.5 C193.67,820.3 191.33,821.93 188,822.8 C184.67,823.67 179.17,823.8 175,823.7 C170.83,823.6 166,822.9 163,822.2 C160,821.5 158.83,819.62 157,819.5 C155.17,819.38 154.17,820.92 152,821.5 C149.83,822.08 147,822.87 144,823 C141,823.13 136.67,822.97 134,822.3 C131.33,821.63 129.17,820.55 128,819 C126.83,817.45 126.83,815.08 127,813Z" stroke="#555" stroke-width="0.5" fill="none" />
<path d="M128.16,813.02 C128.32,811.01 128.64,808.22 130.09,806.75 C131.53,805.27 134.11,804.54 136.84,804.14 C139.57,803.74 143.76,803.9 146.49,804.33 C149.22,804.77 151.48,806.02 153.25,806.75 C155.01,807.47 155.66,808.84 157.1,808.67 C158.55,808.51 159.52,806.62 161.93,805.78 C164.34,804.94 168.04,803.98 171.58,803.66 C175.12,803.34 179.94,803.42 183.16,803.85 C186.38,804.28 188.95,804.9 190.88,806.26 C192.81,807.63 194.26,810.04 194.74,812.05 C195.22,814.06 195.06,816.59 193.78,818.33 C192.49,820.06 190.24,821.64 187.02,822.47 C183.8,823.31 178.5,823.44 174.47,823.34 C170.45,823.25 165.79,822.57 162.9,821.9 C160,821.22 158.87,819.4 157.1,819.29 C155.34,819.18 154.37,820.66 152.28,821.22 C150.19,821.78 147.46,822.54 144.56,822.67 C141.66,822.8 137.48,822.64 134.91,821.99 C132.34,821.35 130.25,820.3 129.12,818.81 C127.99,817.31 127.99,815.03 128.16,813.02Z" stroke="#555" stroke-width="0.5" fill="none" />
<path d="M129.31,813.03 C129.47,811.1 129.77,808.42 131.17,806.99 C132.56,805.56 135.05,804.87 137.68,804.48 C140.31,804.09 144.34,804.25 146.98,804.66 C149.61,805.08 151.78,806.29 153.49,806.99 C155.2,807.69 155.81,809 157.21,808.85 C158.61,808.7 159.54,806.87 161.86,806.06 C164.19,805.25 167.75,804.32 171.16,804.01 C174.57,803.7 179.22,803.78 182.32,804.2 C185.42,804.62 187.9,805.21 189.76,806.52 C191.62,807.84 193.02,810.17 193.48,812.11 C193.95,814.04 193.79,816.48 192.55,818.15 C191.31,819.82 189.14,821.34 186.04,822.15 C182.94,822.96 177.82,823.08 173.95,822.99 C170.07,822.89 165.58,822.24 162.79,821.59 C160,820.94 158.92,819.19 157.21,819.08 C155.5,818.97 154.57,820.4 152.56,820.94 C150.55,821.48 147.91,822.21 145.12,822.34 C142.33,822.46 138.3,822.3 135.82,821.68 C133.34,821.06 131.33,820.06 130.24,818.62 C129.16,817.17 129.16,814.97 129.31,813.03Z" stroke="#555" stroke-width="0.5" fill="none" />
<path d="M141.17,813.44 C141.2,813.26 141.24,812.99 141.4,812.86 C141.55,812.73 141.81,812.69 142.08,812.67 C142.36,812.64 142.77,812.65 143.05,812.71 C143.32,812.77 143.57,812.89 143.72,813.03 C143.87,813.18 143.97,813.38 143.95,813.56 C143.94,813.73 143.83,813.95 143.62,814.09 C143.4,814.22 143,814.34 142.68,814.36 C142.37,814.38 141.99,814.27 141.74,814.2 C141.5,814.13 141.31,814.05 141.22,813.93 C141.12,813.8 141.14,813.62 141.17,813.44Z" stroke="#555" stroke-width="0.5" fill="none" />
<path d="M138.9,813.34 C138.96,812.89 139.23,812.19 139.65,811.85 C140.07,811.51 140.71,811.39 141.42,811.33 C142.12,811.27 143.17,811.34 143.88,811.5 C144.6,811.66 145.28,811.91 145.72,812.27 C146.16,812.63 146.58,813.21 146.52,813.66 C146.45,814.11 145.94,814.67 145.34,814.99 C144.75,815.31 143.77,815.51 142.95,815.58 C142.13,815.65 141.03,815.59 140.42,815.42 C139.81,815.25 139.53,814.92 139.28,814.57 C139.03,814.23 138.84,813.8 138.9,813.34Z" stroke="#555" stroke-width="0.5" fill="none" />
<path d="M137.71,813.29 C137.81,812.65 137.95,811.64 138.5,811.18 C139.05,810.72 140.02,810.64 141.02,810.54 C142.02,810.45 143.52,810.41 144.49,810.62 C145.47,810.84 146.34,811.32 146.88,811.83 C147.42,812.35 147.77,813.07 147.72,813.71 C147.67,814.35 147.35,815.18 146.58,815.65 C145.82,816.12 144.3,816.42 143.14,816.5 C141.98,816.59 140.5,816.4 139.62,816.16 C138.75,815.91 138.21,815.51 137.89,815.04 C137.57,814.56 137.61,813.93 137.71,813.29Z" stroke="#555" stroke-width="0.5" fill="none" />
<path d="M136.5,813.24 C136.63,812.45 136.92,811.25 137.6,810.67 C138.29,810.08 139.38,809.83 140.6,809.71 C141.83,809.58 143.76,809.64 144.97,809.93 C146.17,810.23 147.13,810.83 147.83,811.47 C148.54,812.11 149.25,812.98 149.22,813.77 C149.19,814.56 148.65,815.64 147.66,816.22 C146.68,816.8 144.72,817.18 143.3,817.24 C141.88,817.3 140.23,816.9 139.15,816.6 C138.07,816.29 137.27,815.95 136.83,815.39 C136.39,814.83 136.37,814.03 136.5,813.24Z" stroke="#555" stroke-width="0.5" fill="none" />
<path d="M135.25,813.18 C135.41,812.26 135.92,810.86 136.77,810.18 C137.61,809.5 138.9,809.22 140.31,809.12 C141.72,809.02 143.81,809.24 145.22,809.57 C146.63,809.9 147.94,810.41 148.76,811.12 C149.58,811.82 150.21,812.9 150.13,813.81 C150.06,814.71 149.42,815.89 148.3,816.55 C147.18,817.22 145.07,817.68 143.42,817.8 C141.78,817.91 139.7,817.6 138.43,817.26 C137.16,816.91 136.36,816.4 135.83,815.72 C135.3,815.05 135.1,814.11 135.25,813.18Z" stroke="#555" stroke-width="0.5" fill="none" />
<path d="M134.12,813.14 C134.15,812.07 134.59,810.28 135.57,809.49 C136.54,808.69 138.25,808.49 139.94,808.38 C141.64,808.27 144.1,808.43 145.74,808.82 C147.38,809.21 148.88,809.89 149.77,810.73 C150.66,811.57 151.15,812.79 151.06,813.84 C150.97,814.9 150.5,816.28 149.25,817.05 C148,817.82 145.46,818.32 143.56,818.44 C141.66,818.56 139.23,818.2 137.87,817.78 C136.5,817.35 135.98,816.65 135.36,815.88 C134.73,815.11 134.08,814.2 134.12,813.14Z" stroke="#555" stroke-width="0.5" fill="none" />
<path d="M133.72,813.12 C133.78,811.93 133.81,809.91 134.82,809.05 C135.82,808.19 137.86,808.1 139.74,807.98 C141.62,807.86 144.29,807.92 146.08,808.33 C147.86,808.75 149.43,809.55 150.45,810.47 C151.47,811.4 152.25,812.71 152.2,813.89 C152.16,815.07 151.6,816.68 150.18,817.54 C148.76,818.4 145.85,818.9 143.69,819.04 C141.53,819.18 138.75,818.86 137.21,818.38 C135.68,817.9 135.06,817.05 134.48,816.17 C133.9,815.3 133.67,814.31 133.72,813.12Z" stroke="#555" stroke-width="0.5" fill="none" />
<path d="M132.67,813.07 C132.74,811.78 133.01,809.59 134.15,808.67 C135.29,807.74 137.46,807.67 139.51,807.52 C141.56,807.37 144.44,807.37 146.45,807.79 C148.46,808.22 150.48,809.03 151.55,810.05 C152.63,811.07 153.09,812.65 152.9,813.92 C152.7,815.18 151.9,816.68 150.39,817.65 C148.88,818.62 146.05,819.6 143.84,819.74 C141.62,819.88 138.78,819.04 137.09,818.49 C135.4,817.94 134.45,817.33 133.71,816.43 C132.97,815.53 132.59,814.37 132.67,813.07Z" stroke="#555" stroke-width="0.5" fill="none" />
<path d="M131.94,813.04 C132.09,811.62 132.31,809.34 133.51,808.3 C134.71,807.26 136.96,806.94 139.15,806.8 C141.35,806.66 144.49,806.97 146.68,807.46 C148.86,807.96 150.98,808.69 152.27,809.78 C153.55,810.86 154.58,812.59 154.4,813.98 C154.22,815.36 152.93,817.07 151.18,818.07 C149.43,819.06 146.35,819.77 143.88,819.95 C141.42,820.12 138.27,819.66 136.4,819.13 C134.52,818.61 133.37,817.81 132.62,816.79 C131.88,815.78 131.79,814.46 131.94,813.04Z" stroke="#555" stroke-width="0.5" fill="none" />
<path d="M131.42,813.02 C131.71,811.52 132.02,809.22 133.29,808.17 C134.57,807.12 136.8,806.92 139.1,806.7 C141.4,806.49 144.74,806.43 147.08,806.88 C149.42,807.34 151.76,808.25 153.16,809.44 C154.56,810.63 155.63,812.49 155.47,814.02 C155.31,815.55 154.12,817.55 152.2,818.61 C150.29,819.66 146.69,820.19 143.97,820.36 C141.25,820.53 137.92,820.17 135.86,819.63 C133.8,819.09 132.33,818.24 131.59,817.14 C130.85,816.03 131.14,814.51 131.42,813.02Z" stroke="#555" stroke-width="0.5" fill="none" />
<path d="M175.29,813.45 C175.27,813.26 175.4,813.06 175.59,812.94 C175.77,812.82 176.07,812.75 176.38,812.73 C176.7,812.71 177.17,812.77 177.49,812.81 C177.81,812.86 178.12,812.89 178.32,812.99 C178.51,813.1 178.62,813.29 178.65,813.45 C178.68,813.61 178.66,813.83 178.5,813.96 C178.34,814.1 178.02,814.18 177.68,814.23 C177.35,814.29 176.83,814.31 176.49,814.29 C176.16,814.27 175.89,814.25 175.69,814.11 C175.49,813.97 175.31,813.64 175.29,813.45Z" stroke="#444" stroke-width="0.5" fill="none" />
<path d="M171.67,813.34 C171.57,812.74 171.87,812.08 172.45,811.71 C173.02,811.34 174.1,811.21 175.11,811.14 C176.13,811.08 177.54,811.19 178.56,811.32 C179.58,811.44 180.64,811.54 181.22,811.88 C181.81,812.21 182.03,812.84 182.07,813.34 C182.11,813.84 181.96,814.48 181.47,814.89 C180.99,815.3 180.17,815.64 179.16,815.82 C178.15,815.99 176.45,816.03 175.43,815.94 C174.42,815.86 173.7,815.75 173.07,815.31 C172.44,814.88 171.77,813.94 171.67,813.34Z" stroke="#444" stroke-width="0.5" fill="none" />
<path d="M169.74,813.29 C169.68,812.45 170.17,811.62 170.96,811.13 C171.75,810.64 173.1,810.45 174.47,810.34 C175.84,810.23 177.81,810.29 179.18,810.45 C180.55,810.61 181.92,810.84 182.7,811.31 C183.47,811.78 183.72,812.6 183.81,813.29 C183.9,813.97 183.89,814.89 183.23,815.43 C182.58,815.98 181.25,816.37 179.87,816.58 C178.5,816.79 176.39,816.76 174.96,816.69 C173.53,816.61 172.15,816.71 171.28,816.14 C170.41,815.57 169.79,814.12 169.74,813.29Z" stroke="#444" stroke-width="0.5" fill="none" />
<path d="M168.43,813.25 C168.38,812.28 169.09,811.36 169.99,810.74 C170.88,810.13 172.22,809.68 173.83,809.53 C175.43,809.38 178.01,809.59 179.61,809.84 C181.22,810.09 182.55,810.45 183.46,811.01 C184.38,811.58 184.95,812.46 185.09,813.25 C185.22,814.04 185.04,815.09 184.28,815.76 C183.52,816.43 182.15,817.01 180.52,817.28 C178.9,817.54 176.24,817.46 174.54,817.34 C172.84,817.23 171.34,817.26 170.32,816.58 C169.3,815.9 168.49,814.22 168.43,813.25Z" stroke="#444" stroke-width="0.5" fill="none" />
<path d="M167.12,813.21 C167,812.1 167.73,810.95 168.8,810.28 C169.87,809.61 171.7,809.31 173.55,809.18 C175.39,809.05 178.05,809.25 179.86,809.5 C181.67,809.74 183.24,810.04 184.39,810.66 C185.53,811.27 186.51,812.27 186.73,813.2 C186.95,814.12 186.66,815.42 185.73,816.21 C184.8,817 183.09,817.66 181.15,817.95 C179.22,818.24 176.07,818.14 174.14,817.97 C172.2,817.8 170.71,817.74 169.54,816.94 C168.37,816.15 167.24,814.32 167.12,813.21Z" stroke="#444" stroke-width="0.5" fill="none" />
<path d="M166.11,813.18 C166,811.93 166.71,810.66 167.88,809.92 C169.06,809.18 171.12,808.88 173.18,808.72 C175.24,808.56 178.21,808.7 180.24,808.96 C182.28,809.22 184.21,809.57 185.39,810.27 C186.56,810.98 187.09,812.14 187.31,813.18 C187.53,814.22 187.65,815.63 186.7,816.51 C185.75,817.39 183.78,818.08 181.61,818.44 C179.44,818.79 175.89,818.81 173.7,818.64 C171.52,818.47 169.77,818.33 168.51,817.42 C167.24,816.51 166.21,814.43 166.11,813.18Z" stroke="#444" stroke-width="0.5" fill="none" />
<path d="M164.63,813.14 C164.41,811.76 165.26,810.25 166.61,809.42 C167.96,808.59 170.4,808.28 172.71,808.14 C175.03,808 178.22,808.31 180.5,808.6 C182.79,808.88 185.09,809.12 186.42,809.88 C187.75,810.64 188.27,811.98 188.5,813.14 C188.72,814.3 188.85,815.9 187.76,816.84 C186.66,817.78 184.34,818.36 181.92,818.77 C179.51,819.19 175.6,819.51 173.26,819.33 C170.93,819.15 169.37,818.72 167.93,817.68 C166.49,816.65 164.85,814.51 164.63,813.14Z" stroke="#444" stroke-width="0.5" fill="none" />
<path d="M163.59,813.11 C163.41,811.63 164.58,810.1 166.04,809.2 C167.5,808.29 169.85,807.92 172.35,807.69 C174.85,807.46 178.55,807.52 181.05,807.83 C183.56,808.13 186.02,808.62 187.39,809.51 C188.75,810.39 189.07,811.86 189.24,813.12 C189.41,814.37 189.51,815.98 188.4,817.04 C187.28,818.09 185.08,819.06 182.55,819.45 C180.02,819.84 175.79,819.64 173.22,819.4 C170.64,819.17 168.72,819.11 167.12,818.06 C165.51,817.01 163.77,814.58 163.59,813.11Z" stroke="#444" stroke-width="0.5" fill="none" />
<path d="M162.54,813.07 C162.3,811.48 163.41,809.76 164.97,808.78 C166.54,807.8 169.25,807.38 171.95,807.19 C174.66,807 178.52,807.28 181.19,807.63 C183.86,807.98 186.46,808.37 187.97,809.28 C189.48,810.19 189.97,811.73 190.24,813.09 C190.51,814.44 190.78,816.25 189.6,817.41 C188.41,818.57 185.92,819.62 183.12,820.06 C180.32,820.5 175.57,820.35 172.79,820.07 C170.01,819.79 168.16,819.53 166.46,818.37 C164.75,817.2 162.79,814.67 162.54,813.07Z" stroke="#444" stroke-width="0.5" fill="none" />
<path d="M161.86,813.05 C161.7,811.3 162.49,809.47 164.12,808.44 C165.76,807.41 168.82,807.03 171.69,806.86 C174.56,806.69 178.57,807.04 181.35,807.41 C184.13,807.79 186.67,808.19 188.38,809.12 C190.09,810.06 191.32,811.63 191.61,813.04 C191.9,814.45 191.55,816.4 190.15,817.58 C188.74,818.76 186.12,819.62 183.18,820.12 C180.23,820.62 175.48,820.76 172.47,820.57 C169.45,820.39 166.85,820.25 165.08,819 C163.32,817.75 162.02,814.81 161.86,813.05Z" stroke="#444" stroke-width="0.5" fill="none" />
<path d="M160.25,813.01 C160.09,811.14 161.5,809.24 163.35,808.14 C165.19,807.04 168.24,806.65 171.33,806.41 C174.42,806.17 178.79,806.32 181.87,806.69 C184.94,807.05 187.97,807.53 189.77,808.59 C191.57,809.64 192.43,811.47 192.65,813.01 C192.86,814.56 192.54,816.58 191.05,817.86 C189.56,819.14 186.83,820.16 183.7,820.67 C180.56,821.18 175.48,821.14 172.25,820.92 C169.01,820.7 166.3,820.68 164.3,819.36 C162.3,818.04 160.41,814.88 160.25,813.01Z" stroke="#444" stroke-width="0.5" fill="none" />
<path d="M159.83,812.99 C159.7,811.03 160.87,809.04 162.75,807.9 C164.64,806.76 167.95,806.36 171.13,806.16 C174.31,805.97 178.73,806.32 181.84,806.73 C184.94,807.13 187.88,807.55 189.76,808.59 C191.64,809.64 192.8,811.42 193.11,813 C193.41,814.57 193.13,816.72 191.58,818.03 C190.04,819.33 187.07,820.31 183.83,820.82 C180.59,821.33 175.51,821.29 172.12,821.11 C168.74,820.92 165.58,821.07 163.53,819.72 C161.48,818.36 159.96,814.96 159.83,812.99Z" stroke="#444" stroke-width="0.5" fill="none" />
<polygon points="130,755.7 154.4,747.2 175.6,752.8 176.7,788.3 158.9,806.1 125.6,797.2" stroke="#222" stroke-width="1" fill="none" stroke-linejoin="miter"/>
<polygon points="177.3,753.9 195.6,755.7 195.6,789 178.2,787.7" stroke="#222" stroke-width="1" fill="none" stroke-linejoin="miter"/>
<polygon points="177.8,789.4 195.1,791.2 200,809.4 195.6,826.1 157.3,825 157.3,807.7" stroke="#222" stroke-width="1" fill="none" stroke-linejoin="miter"/>
<polygon points="124.4,800.1 155.6,807.2 154.4,825 131.1,824.6 124,816.1" stroke="#222" stroke-width="1" fill="none" stroke-linejoin="miter"/>
<text x="107.8" y="724.1" font-size="14" fill="#9a1b2f" font-weight="bold" textLength="51.8" lengthAdjust="spacingAndGlyphs">CD45.2+</text>
<text x="204.4" y="798.3" font-size="13" fill="#000" font-weight="bold" textLength="31.2" lengthAdjust="spacingAndGlyphs">MZ B</text>
<text x="204.4" y="814.3" font-size="13" fill="#000" font-weight="bold" textLength="24.6" lengthAdjust="spacingAndGlyphs">82.6</text>
<text x="204.4" y="830.2" font-size="13.2" fill="#000" font-weight="bold" textLength="28.8" lengthAdjust="spacingAndGlyphs">± 3.9</text>
<text x="107.8" y="842.5" font-size="13.4" fill="#111" textLength="80" lengthAdjust="spacingAndGlyphs">DN 13.6 ± 3.1</text>
<line x1="104.3" y1="849.3" x2="238.9" y2="849.3" stroke="#8a8a8a" stroke-width="0.9"/>
<line x1="238.9" y1="849.3" x2="238.9" y2="983" stroke="#8a8a8a" stroke-width="0.9"/>
<line x1="104.3" y1="848.85" x2="104.3" y2="983.45" stroke="#333" stroke-width="1"/>
<line x1="104.3" y1="983" x2="238.9" y2="983" stroke="#333" stroke-width="1"/>
<line x1="101.1" y1="975.02" x2="104.3" y2="975.02" stroke="#3a3a3a" stroke-width="0.8"/>
<line x1="101.1" y1="953.07" x2="104.3" y2="953.07" stroke="#3a3a3a" stroke-width="0.8"/>
<line x1="101.1" y1="931.12" x2="104.3" y2="931.12" stroke="#3a3a3a" stroke-width="0.8"/>
<line x1="101.1" y1="894.2" x2="104.3" y2="894.2" stroke="#3a3a3a" stroke-width="0.8"/>
<line x1="101.1" y1="862.27" x2="104.3" y2="862.27" stroke="#3a3a3a" stroke-width="0.8"/>
<line x1="102.5" y1="959.67" x2="104.3" y2="959.67" stroke="#3a3a3a" stroke-width="0.8"/>
<line x1="102.5" y1="946.46" x2="104.3" y2="946.46" stroke="#3a3a3a" stroke-width="0.8"/>
<line x1="102.5" y1="920" x2="104.3" y2="920" stroke="#3a3a3a" stroke-width="0.8"/>
<line x1="102.5" y1="884.59" x2="104.3" y2="884.59" stroke="#3a3a3a" stroke-width="0.8"/>
<line x1="102.5" y1="852.66" x2="104.3" y2="852.66" stroke="#3a3a3a" stroke-width="0.8"/>
<line x1="102.5" y1="963.54" x2="104.3" y2="963.54" stroke="#3a3a3a" stroke-width="0.8"/>
<line x1="102.5" y1="942.59" x2="104.3" y2="942.59" stroke="#3a3a3a" stroke-width="0.8"/>
<line x1="102.5" y1="913.5" x2="104.3" y2="913.5" stroke="#3a3a3a" stroke-width="0.8"/>
<line x1="102.5" y1="878.97" x2="104.3" y2="878.97" stroke="#3a3a3a" stroke-width="0.8"/>
<line x1="102.5" y1="966.28" x2="104.3" y2="966.28" stroke="#3a3a3a" stroke-width="0.8"/>
<line x1="102.5" y1="939.85" x2="104.3" y2="939.85" stroke="#3a3a3a" stroke-width="0.8"/>
<line x1="102.5" y1="908.89" x2="104.3" y2="908.89" stroke="#3a3a3a" stroke-width="0.8"/>
<line x1="102.5" y1="874.98" x2="104.3" y2="874.98" stroke="#3a3a3a" stroke-width="0.8"/>
<line x1="102.5" y1="968.41" x2="104.3" y2="968.41" stroke="#3a3a3a" stroke-width="0.8"/>
<line x1="102.5" y1="937.72" x2="104.3" y2="937.72" stroke="#3a3a3a" stroke-width="0.8"/>
<line x1="102.5" y1="905.31" x2="104.3" y2="905.31" stroke="#3a3a3a" stroke-width="0.8"/>
<line x1="102.5" y1="871.88" x2="104.3" y2="871.88" stroke="#3a3a3a" stroke-width="0.8"/>
<line x1="102.5" y1="970.15" x2="104.3" y2="970.15" stroke="#3a3a3a" stroke-width="0.8"/>
<line x1="102.5" y1="935.99" x2="104.3" y2="935.99" stroke="#3a3a3a" stroke-width="0.8"/>
<line x1="102.5" y1="902.39" x2="104.3" y2="902.39" stroke="#3a3a3a" stroke-width="0.8"/>
<line x1="102.5" y1="869.35" x2="104.3" y2="869.35" stroke="#3a3a3a" stroke-width="0.8"/>
<line x1="102.5" y1="971.62" x2="104.3" y2="971.62" stroke="#3a3a3a" stroke-width="0.8"/>
<line x1="102.5" y1="934.52" x2="104.3" y2="934.52" stroke="#3a3a3a" stroke-width="0.8"/>
<line x1="102.5" y1="899.92" x2="104.3" y2="899.92" stroke="#3a3a3a" stroke-width="0.8"/>
<line x1="102.5" y1="867.22" x2="104.3" y2="867.22" stroke="#3a3a3a" stroke-width="0.8"/>
<line x1="102.5" y1="972.89" x2="104.3" y2="972.89" stroke="#3a3a3a" stroke-width="0.8"/>
<line x1="102.5" y1="933.24" x2="104.3" y2="933.24" stroke="#3a3a3a" stroke-width="0.8"/>
<line x1="102.5" y1="897.78" x2="104.3" y2="897.78" stroke="#3a3a3a" stroke-width="0.8"/>
<line x1="102.5" y1="865.37" x2="104.3" y2="865.37" stroke="#3a3a3a" stroke-width="0.8"/>
<line x1="102.5" y1="974.01" x2="104.3" y2="974.01" stroke="#3a3a3a" stroke-width="0.8"/>
<line x1="102.5" y1="932.12" x2="104.3" y2="932.12" stroke="#3a3a3a" stroke-width="0.8"/>
<line x1="102.5" y1="895.89" x2="104.3" y2="895.89" stroke="#3a3a3a" stroke-width="0.8"/>
<line x1="102.5" y1="863.73" x2="104.3" y2="863.73" stroke="#3a3a3a" stroke-width="0.8"/>
<line x1="112.34" y1="983" x2="112.34" y2="986.2" stroke="#3a3a3a" stroke-width="0.8"/>
<line x1="134.43" y1="983" x2="134.43" y2="986.2" stroke="#3a3a3a" stroke-width="0.8"/>
<line x1="156.53" y1="983" x2="156.53" y2="986.2" stroke="#3a3a3a" stroke-width="0.8"/>
<line x1="193.7" y1="983" x2="193.7" y2="986.2" stroke="#3a3a3a" stroke-width="0.8"/>
<line x1="225.84" y1="983" x2="225.84" y2="986.2" stroke="#3a3a3a" stroke-width="0.8"/>
<line x1="127.78" y1="983" x2="127.78" y2="984.8" stroke="#3a3a3a" stroke-width="0.8"/>
<line x1="141.09" y1="983" x2="141.09" y2="984.8" stroke="#3a3a3a" stroke-width="0.8"/>
<line x1="167.72" y1="983" x2="167.72" y2="984.8" stroke="#3a3a3a" stroke-width="0.8"/>
<line x1="203.37" y1="983" x2="203.37" y2="984.8" stroke="#3a3a3a" stroke-width="0.8"/>
<line x1="235.52" y1="983" x2="235.52" y2="984.8" stroke="#3a3a3a" stroke-width="0.8"/>
<line x1="123.89" y1="983" x2="123.89" y2="984.8" stroke="#3a3a3a" stroke-width="0.8"/>
<line x1="144.98" y1="983" x2="144.98" y2="984.8" stroke="#3a3a3a" stroke-width="0.8"/>
<line x1="174.27" y1="983" x2="174.27" y2="984.8" stroke="#3a3a3a" stroke-width="0.8"/>
<line x1="209.03" y1="983" x2="209.03" y2="984.8" stroke="#3a3a3a" stroke-width="0.8"/>
<line x1="121.13" y1="983" x2="121.13" y2="984.8" stroke="#3a3a3a" stroke-width="0.8"/>
<line x1="147.74" y1="983" x2="147.74" y2="984.8" stroke="#3a3a3a" stroke-width="0.8"/>
<line x1="178.91" y1="983" x2="178.91" y2="984.8" stroke="#3a3a3a" stroke-width="0.8"/>
<line x1="213.05" y1="983" x2="213.05" y2="984.8" stroke="#3a3a3a" stroke-width="0.8"/>
<line x1="118.99" y1="983" x2="118.99" y2="984.8" stroke="#3a3a3a" stroke-width="0.8"/>
<line x1="149.88" y1="983" x2="149.88" y2="984.8" stroke="#3a3a3a" stroke-width="0.8"/>
<line x1="182.51" y1="983" x2="182.51" y2="984.8" stroke="#3a3a3a" stroke-width="0.8"/>
<line x1="216.17" y1="983" x2="216.17" y2="984.8" stroke="#3a3a3a" stroke-width="0.8"/>
<line x1="117.24" y1="983" x2="117.24" y2="984.8" stroke="#3a3a3a" stroke-width="0.8"/>
<line x1="151.63" y1="983" x2="151.63" y2="984.8" stroke="#3a3a3a" stroke-width="0.8"/>
<line x1="185.45" y1="983" x2="185.45" y2="984.8" stroke="#3a3a3a" stroke-width="0.8"/>
<line x1="218.71" y1="983" x2="218.71" y2="984.8" stroke="#3a3a3a" stroke-width="0.8"/>
<line x1="115.76" y1="983" x2="115.76" y2="984.8" stroke="#3a3a3a" stroke-width="0.8"/>
<line x1="153.11" y1="983" x2="153.11" y2="984.8" stroke="#3a3a3a" stroke-width="0.8"/>
<line x1="187.94" y1="983" x2="187.94" y2="984.8" stroke="#3a3a3a" stroke-width="0.8"/>
<line x1="220.86" y1="983" x2="220.86" y2="984.8" stroke="#3a3a3a" stroke-width="0.8"/>
<line x1="114.48" y1="983" x2="114.48" y2="984.8" stroke="#3a3a3a" stroke-width="0.8"/>
<line x1="154.39" y1="983" x2="154.39" y2="984.8" stroke="#3a3a3a" stroke-width="0.8"/>
<line x1="190.1" y1="983" x2="190.1" y2="984.8" stroke="#3a3a3a" stroke-width="0.8"/>
<line x1="222.73" y1="983" x2="222.73" y2="984.8" stroke="#3a3a3a" stroke-width="0.8"/>
<line x1="113.35" y1="983" x2="113.35" y2="984.8" stroke="#3a3a3a" stroke-width="0.8"/>
<line x1="155.52" y1="983" x2="155.52" y2="984.8" stroke="#3a3a3a" stroke-width="0.8"/>
<line x1="192" y1="983" x2="192" y2="984.8" stroke="#3a3a3a" stroke-width="0.8"/>
<line x1="224.37" y1="983" x2="224.37" y2="984.8" stroke="#3a3a3a" stroke-width="0.8"/>
<rect x="131.3" y="983.5" width="5" height="2.8" fill="#222" stroke="none" stroke-width="1"/>
<rect x="101.3" y="951" width="3" height="5" fill="#222" stroke="none" stroke-width="1"/>
<path d="M132.41,950.42 C132.52,949.85 132.98,949.19 133.58,948.89 C134.18,948.58 135.16,948.56 136.03,948.58 C136.9,948.6 138.03,948.82 138.81,949.03 C139.59,949.23 140.26,949.5 140.73,949.83 C141.2,950.17 141.67,950.64 141.64,951.04 C141.61,951.43 141.12,951.95 140.55,952.23 C139.97,952.51 139.02,952.6 138.17,952.71 C137.31,952.82 136.29,952.94 135.42,952.87 C134.54,952.79 133.43,952.68 132.93,952.28 C132.43,951.87 132.3,950.98 132.41,950.42Z" stroke="#777" stroke-width="0.5" fill="none" />
<path d="M130.05,950.29 C130.23,949.32 131.07,948.19 132.12,947.65 C133.17,947.1 134.85,946.98 136.36,947.02 C137.87,947.05 139.73,947.5 141.18,947.86 C142.64,948.22 144.29,948.61 145.07,949.19 C145.84,949.77 145.9,950.61 145.83,951.34 C145.77,952.07 145.65,953.12 144.67,953.58 C143.68,954.05 141.47,953.96 139.9,954.14 C138.34,954.31 136.75,954.73 135.27,954.62 C133.8,954.5 131.93,954.17 131.06,953.45 C130.19,952.73 129.87,951.25 130.05,950.29Z" stroke="#777" stroke-width="0.5" fill="none" />
<path d="M127.78,950.16 C127.99,948.76 128.99,946.99 130.47,946.25 C131.94,945.51 134.48,945.63 136.63,945.72 C138.79,945.81 141.38,946.29 143.4,946.77 C145.42,947.26 147.64,947.82 148.75,948.63 C149.86,949.45 150.22,950.64 150.07,951.64 C149.91,952.64 149.21,953.95 147.84,954.63 C146.46,955.31 143.94,955.41 141.82,955.71 C139.7,956.01 137.23,956.62 135.13,956.43 C133.03,956.25 130.45,955.65 129.23,954.6 C128,953.56 127.57,951.55 127.78,950.16Z" stroke="#777" stroke-width="0.5" fill="none" />
<path d="M125.29,950.02 C125.63,948.23 127.26,946.23 129.22,945.19 C131.18,944.15 134.24,943.74 137.05,943.78 C139.85,943.83 143.3,944.79 146.04,945.48 C148.77,946.17 151.83,946.84 153.45,947.93 C155.06,949.03 155.98,950.71 155.73,952.05 C155.49,953.4 153.96,955.1 151.99,956 C150.03,956.9 146.76,957.12 143.93,957.44 C141.1,957.76 137.8,958.19 135.01,957.93 C132.21,957.68 128.78,957.22 127.16,955.9 C125.54,954.58 124.94,951.8 125.29,950.02Z" stroke="#777" stroke-width="0.5" fill="none" />
<path d="M178.3,951.32 C178.35,951.11 178.52,950.99 178.68,950.87 C178.85,950.75 179.03,950.64 179.27,950.59 C179.52,950.54 179.89,950.54 180.16,950.57 C180.44,950.61 180.72,950.67 180.9,950.82 C181.08,950.97 181.21,951.25 181.25,951.48 C181.29,951.72 181.25,952.01 181.13,952.21 C181.02,952.41 180.81,952.57 180.55,952.67 C180.3,952.77 179.9,952.82 179.6,952.81 C179.3,952.79 178.97,952.69 178.76,952.58 C178.55,952.46 178.41,952.34 178.34,952.13 C178.26,951.92 178.24,951.53 178.3,951.32Z" stroke="#4e4e4e" stroke-width="0.5" fill="none" />
<path d="M174.75,950.52 C174.89,949.87 175.35,949.46 175.86,949.09 C176.36,948.73 177.01,948.48 177.79,948.33 C178.56,948.19 179.68,948.12 180.51,948.24 C181.33,948.36 182.13,948.6 182.72,949.06 C183.3,949.52 183.86,950.29 184.01,951.01 C184.16,951.72 183.98,952.68 183.6,953.32 C183.23,953.96 182.58,954.55 181.78,954.83 C180.98,955.12 179.74,955.08 178.8,955.01 C177.86,954.94 176.8,954.74 176.17,954.41 C175.53,954.07 175.24,953.64 175,952.99 C174.76,952.35 174.61,951.17 174.75,950.52Z" stroke="#4e4e4e" stroke-width="0.5" fill="none" />
<path d="M173.05,950.14 C173.18,949.25 173.57,948.58 174.22,948.06 C174.86,947.53 175.83,947.16 176.91,946.99 C177.98,946.83 179.54,946.91 180.67,947.09 C181.81,947.27 182.96,947.46 183.72,948.08 C184.49,948.69 185.12,949.85 185.25,950.79 C185.38,951.73 185,952.89 184.51,953.73 C184.03,954.57 183.37,955.41 182.35,955.83 C181.32,956.24 179.64,956.28 178.36,956.21 C177.09,956.15 175.51,955.93 174.68,955.46 C173.85,954.99 173.68,954.29 173.41,953.4 C173.14,952.52 172.91,951.03 173.05,950.14Z" stroke="#4e4e4e" stroke-width="0.5" fill="none" />
<path d="M171.39,949.77 C171.56,948.68 172.04,947.8 172.89,947.23 C173.74,946.65 175.16,946.53 176.48,946.34 C177.8,946.16 179.51,945.92 180.82,946.12 C182.12,946.31 183.38,946.78 184.28,947.53 C185.19,948.28 186.04,949.51 186.24,950.62 C186.45,951.73 186.07,953.15 185.51,954.18 C184.96,955.22 184.18,956.29 182.92,956.82 C181.65,957.36 179.54,957.46 177.94,957.39 C176.34,957.32 174.32,957.02 173.32,956.42 C172.31,955.82 172.21,954.91 171.89,953.8 C171.57,952.69 171.22,950.87 171.39,949.77Z" stroke="#4e4e4e" stroke-width="0.5" fill="none" />
<path d="M170.04,949.47 C170.23,948.23 170.99,947.33 171.95,946.63 C172.91,945.94 174.3,945.56 175.8,945.31 C177.3,945.05 179.4,944.88 180.96,945.1 C182.53,945.33 184.15,945.77 185.18,946.66 C186.21,947.56 186.9,949.13 187.15,950.46 C187.39,951.8 187.29,953.53 186.64,954.69 C185.99,955.85 184.74,956.88 183.26,957.43 C181.77,957.97 179.52,958.05 177.72,957.99 C175.92,957.92 173.63,957.67 172.47,957.02 C171.32,956.37 171.19,955.34 170.79,954.08 C170.38,952.82 169.85,950.71 170.04,949.47Z" stroke="#4e4e4e" stroke-width="0.5" fill="none" />
<path d="M169.09,949.26 C169.34,947.88 170.03,946.83 171.09,946.09 C172.16,945.36 173.83,945.11 175.49,944.84 C177.15,944.57 179.38,944.23 181.06,944.47 C182.73,944.71 184.35,945.34 185.55,946.3 C186.74,947.27 187.96,948.84 188.23,950.28 C188.51,951.72 187.99,953.68 187.21,954.94 C186.42,956.21 185.17,957.17 183.51,957.87 C181.86,958.58 179.22,959.26 177.29,959.18 C175.36,959.1 173.23,958.19 171.95,957.39 C170.67,956.59 170.08,955.74 169.6,954.39 C169.13,953.03 168.85,950.64 169.09,949.26Z" stroke="#4e4e4e" stroke-width="0.5" fill="none" />
<path d="M167.97,949.01 C168.34,947.5 169.32,946.56 170.47,945.7 C171.61,944.84 173.06,944.14 174.83,943.84 C176.61,943.53 179.23,943.59 181.14,943.87 C183.06,944.16 185.03,944.49 186.34,945.54 C187.64,946.58 188.7,948.53 188.96,950.15 C189.22,951.77 188.72,953.84 187.88,955.25 C187.04,956.65 185.71,957.83 183.92,958.58 C182.12,959.33 179.26,959.8 177.09,959.72 C174.92,959.65 172.37,958.96 170.89,958.13 C169.42,957.3 168.73,956.26 168.24,954.74 C167.76,953.22 167.6,950.51 167.97,949.01Z" stroke="#4e4e4e" stroke-width="0.5" fill="none" />
<path d="M166.54,948.69 C166.9,947.1 168.54,946.21 169.87,945.32 C171.2,944.44 172.62,943.72 174.52,943.35 C176.41,942.99 179.24,942.84 181.25,943.16 C183.26,943.48 185.14,944.16 186.58,945.3 C188.02,946.44 189.53,948.28 189.87,949.99 C190.21,951.7 189.55,954.04 188.61,955.58 C187.68,957.11 186.22,958.47 184.28,959.22 C182.34,959.96 179.4,960.09 176.97,960.05 C174.55,960.01 171.24,959.83 169.71,958.97 C168.17,958.11 168.27,956.58 167.75,954.87 C167.22,953.15 166.19,950.28 166.54,948.69Z" stroke="#4e4e4e" stroke-width="0.5" fill="none" />
<path d="M165.67,948.49 C165.97,946.71 167.15,945.5 168.5,944.46 C169.86,943.43 171.68,942.63 173.82,942.3 C175.96,941.96 179.12,942.04 181.35,942.44 C183.59,942.83 185.72,943.43 187.23,944.67 C188.74,945.91 190.02,948 190.42,949.9 C190.82,951.79 190.62,954.42 189.63,956.03 C188.64,957.65 186.66,958.73 184.49,959.58 C182.31,960.43 179.13,961.18 176.58,961.14 C174.03,961.09 170.86,960.32 169.21,959.32 C167.56,958.32 167.28,956.95 166.69,955.14 C166.1,953.34 165.37,950.27 165.67,948.49Z" stroke="#4e4e4e" stroke-width="0.5" fill="none" />
<path d="M164.57,948.25 C165.04,946.37 166.6,945.22 168.15,944.24 C169.71,943.27 171.67,942.73 173.88,942.38 C176.09,942.04 179.07,941.89 181.39,942.18 C183.71,942.47 186.26,942.83 187.8,944.11 C189.34,945.39 190.27,947.85 190.63,949.86 C190.99,951.87 190.94,954.44 189.99,956.19 C189.04,957.95 187.18,959.51 184.94,960.37 C182.69,961.23 179.26,961.43 176.51,961.34 C173.76,961.26 170.3,960.84 168.44,959.87 C166.58,958.89 165.99,957.43 165.35,955.49 C164.7,953.55 164.11,950.12 164.57,948.25Z" stroke="#4e4e4e" stroke-width="0.5" fill="none" />
<path d="M163.68,948.05 C164.09,946 165.32,944.6 166.89,943.45 C168.45,942.3 170.62,941.54 173.06,941.14 C175.51,940.75 178.98,940.69 181.55,941.08 C184.12,941.47 186.78,942.03 188.47,943.46 C190.16,944.89 191.4,947.55 191.67,949.68 C191.95,951.81 191.2,954.39 190.13,956.26 C189.05,958.12 187.54,959.9 185.22,960.88 C182.9,961.86 179.16,962.2 176.22,962.14 C173.28,962.07 169.52,961.55 167.56,960.48 C165.6,959.41 165.1,957.79 164.45,955.72 C163.81,953.65 163.28,950.09 163.68,948.05Z" stroke="#4e4e4e" stroke-width="0.5" fill="none" />
<path d="M163.34,947.97 C163.93,945.9 165.46,944.74 167.04,943.54 C168.62,942.34 170.4,941.14 172.82,940.77 C175.23,940.39 178.92,940.84 181.52,941.3 C184.12,941.75 186.7,942.11 188.43,943.5 C190.15,944.9 191.38,947.44 191.85,949.65 C192.32,951.86 192.27,954.74 191.24,956.76 C190.22,958.78 188.25,960.76 185.71,961.74 C183.18,962.73 179.01,962.9 176.03,962.66 C173.04,962.43 169.88,961.43 167.8,960.32 C165.72,959.2 164.27,958.02 163.53,955.96 C162.78,953.9 162.76,950.04 163.34,947.97Z" stroke="#4e4e4e" stroke-width="0.5" fill="none" />
<path d="M163.1,947.92 C163.45,945.71 164.15,943.99 165.71,942.71 C167.27,941.43 169.79,940.67 172.46,940.22 C175.12,939.76 178.98,939.49 181.71,939.97 C184.44,940.45 187.03,941.5 188.85,943.09 C190.67,944.68 192.19,947.23 192.62,949.52 C193.04,951.81 192.58,954.83 191.4,956.83 C190.23,958.83 188.2,960.41 185.59,961.52 C182.98,962.63 178.88,963.58 175.72,963.51 C172.56,963.45 168.67,962.39 166.65,961.13 C164.62,959.87 164.18,958.14 163.59,955.94 C163,953.74 162.74,950.12 163.1,947.92Z" stroke="#4e4e4e" stroke-width="0.5" fill="none" />
<path d="M161.9,947.65 C162.5,945.39 164.12,944.13 165.8,942.76 C167.47,941.39 169.29,939.89 171.94,939.44 C174.59,938.98 178.84,939.44 181.71,940.01 C184.57,940.57 187.11,941.28 189.12,942.83 C191.12,944.38 193.26,946.95 193.73,949.32 C194.19,951.7 193.19,954.88 191.92,957.06 C190.65,959.25 188.84,961.31 186.11,962.44 C183.39,963.58 178.83,964.1 175.59,963.88 C172.34,963.66 168.88,962.39 166.66,961.12 C164.43,959.86 163.03,958.54 162.24,956.29 C161.45,954.05 161.31,949.91 161.9,947.65Z" stroke="#4e4e4e" stroke-width="0.5" fill="none" />
<path d="M160.44,947.32 C161.01,944.96 163.12,943.57 165.05,942.29 C166.99,941.01 169.28,940.15 172.07,939.63 C174.87,939.12 178.91,938.75 181.82,939.21 C184.73,939.68 187.44,940.76 189.54,942.42 C191.63,944.09 193.82,946.7 194.38,949.21 C194.94,951.72 194.2,955.18 192.89,957.5 C191.58,959.82 189.43,961.99 186.52,963.15 C183.6,964.31 178.88,964.64 175.39,964.43 C171.89,964.23 167.82,963.25 165.53,961.92 C163.23,960.59 162.48,958.88 161.63,956.45 C160.79,954.02 159.87,949.68 160.44,947.32Z" stroke="#4e4e4e" stroke-width="0.5" fill="none" />
<path d="M160.34,947.3 C160.91,944.78 162.14,943.08 163.96,941.6 C165.78,940.12 168.3,938.81 171.28,938.42 C174.25,938.03 178.65,938.72 181.81,939.27 C184.98,939.82 188.15,940.06 190.26,941.72 C192.38,943.37 194.08,946.57 194.5,949.19 C194.93,951.81 194.16,955.18 192.8,957.46 C191.44,959.74 189.29,961.64 186.36,962.87 C183.43,964.11 178.79,964.97 175.23,964.87 C171.66,964.78 167.41,963.68 164.96,962.32 C162.52,960.96 161.35,959.23 160.57,956.72 C159.8,954.22 159.78,949.82 160.34,947.3Z" stroke="#4e4e4e" stroke-width="0.5" fill="none" />
<path d="M160.08,947.24 C160.66,944.67 161.68,942.77 163.59,941.37 C165.49,939.96 168.48,939.24 171.53,938.81 C174.58,938.39 178.75,938.35 181.88,938.82 C185.01,939.29 188.1,939.95 190.33,941.65 C192.56,943.36 194.67,946.34 195.27,949.06 C195.87,951.78 195.33,955.53 193.92,957.96 C192.51,960.4 189.95,962.43 186.81,963.66 C183.67,964.89 178.68,965.58 175.06,965.35 C171.43,965.11 167.53,963.68 165.05,962.26 C162.56,960.84 160.97,959.34 160.14,956.83 C159.32,954.33 159.51,949.82 160.08,947.24Z" stroke="#4e4e4e" stroke-width="0.5" fill="none" />
<path d="M159.61,947.14 C160.16,944.47 161.04,942.46 162.97,940.98 C164.9,939.5 168.02,938.73 171.18,938.28 C174.35,937.82 178.6,937.88 181.96,938.27 C185.33,938.66 189.09,938.85 191.37,940.64 C193.65,942.43 195.27,946.12 195.66,948.99 C196.05,951.86 195.16,955.37 193.71,957.87 C192.27,960.37 190.1,962.76 186.99,963.99 C183.89,965.22 178.98,965.38 175.09,965.26 C171.19,965.14 166.19,964.65 163.62,963.27 C161.05,961.88 160.34,959.65 159.67,956.96 C159,954.27 159.06,949.8 159.61,947.14Z" stroke="#4e4e4e" stroke-width="0.5" fill="none" />
<polygon points="130,893.4 155.6,885.4 175.6,891.7 177.3,927.2 158.2,943.9 124.4,936.1" stroke="#222" stroke-width="1" fill="none" stroke-linejoin="miter"/>
<polygon points="177.3,892.1 195.6,893.4 195.6,926.8 178.9,926.1" stroke="#222" stroke-width="1" fill="none" stroke-linejoin="miter"/>
<circle cx="150.72" cy="900.97" r="0.45" fill="#777"/>
<circle cx="158.12" cy="899.59" r="0.45" fill="#777"/>
<circle cx="128.91" cy="903.97" r="0.45" fill="#777"/>
<circle cx="160.18" cy="890.39" r="0.45" fill="#777"/>
<circle cx="132.51" cy="933.68" r="0.45" fill="#777"/>
<circle cx="141.8" cy="920.72" r="0.45" fill="#777"/>
<circle cx="156.54" cy="922.55" r="0.45" fill="#777"/>
<circle cx="161.07" cy="933.66" r="0.45" fill="#777"/>
<circle cx="166.39" cy="923.02" r="0.45" fill="#777"/>
<circle cx="147.16" cy="898.69" r="0.45" fill="#777"/>
<circle cx="161.43" cy="891.59" r="0.45" fill="#777"/>
<circle cx="172.58" cy="901.26" r="0.45" fill="#777"/>
<circle cx="161.03" cy="912.31" r="0.45" fill="#777"/>
<circle cx="138.67" cy="897.64" r="0.45" fill="#777"/>
<circle cx="155.03" cy="909.49" r="0.45" fill="#777"/>
<circle cx="157.43" cy="926.11" r="0.45" fill="#777"/>
<circle cx="167.75" cy="935.31" r="0.45" fill="#777"/>
<circle cx="157.49" cy="941.93" r="0.45" fill="#777"/>
<circle cx="150.64" cy="937.32" r="0.45" fill="#777"/>
<circle cx="167.51" cy="933.23" r="0.45" fill="#777"/>
<circle cx="131.02" cy="918.77" r="0.45" fill="#777"/>
<circle cx="151.73" cy="890.85" r="0.45" fill="#777"/>
<circle cx="143.85" cy="915.63" r="0.45" fill="#777"/>
<circle cx="155.45" cy="909.44" r="0.45" fill="#777"/>
<circle cx="168.24" cy="932.36" r="0.45" fill="#777"/>
<circle cx="136.26" cy="927.86" r="0.45" fill="#777"/>
<circle cx="144.29" cy="899.78" r="0.45" fill="#777"/>
<circle cx="152.35" cy="912.61" r="0.45" fill="#777"/>
<circle cx="146.53" cy="933.43" r="0.45" fill="#777"/>
<circle cx="149.27" cy="908.98" r="0.45" fill="#777"/>
<circle cx="143.58" cy="930.75" r="0.45" fill="#777"/>
<circle cx="141.16" cy="905.69" r="0.45" fill="#777"/>
<circle cx="158.52" cy="915.79" r="0.45" fill="#777"/>
<circle cx="150.73" cy="903.04" r="0.45" fill="#777"/>
<circle cx="147.13" cy="939.6" r="0.45" fill="#777"/>
<circle cx="131.97" cy="903.59" r="0.45" fill="#777"/>
<circle cx="137.15" cy="938.01" r="0.45" fill="#777"/>
<circle cx="177.08" cy="926.2" r="0.45" fill="#777"/>
<circle cx="147.26" cy="916.98" r="0.45" fill="#777"/>
<circle cx="156.4" cy="933.75" r="0.45" fill="#777"/>
<circle cx="142.14" cy="907.52" r="0.45" fill="#777"/>
<circle cx="167.56" cy="913.5" r="0.45" fill="#777"/>
<circle cx="169.37" cy="927.03" r="0.45" fill="#777"/>
<circle cx="137.91" cy="915.5" r="0.45" fill="#777"/>
<circle cx="130.89" cy="918.14" r="0.45" fill="#777"/>
<circle cx="181.76" cy="909.53" r="0.45" fill="#777"/>
<circle cx="180.26" cy="920.6" r="0.45" fill="#777"/>
<circle cx="181.53" cy="911.27" r="0.45" fill="#777"/>
<circle cx="194.25" cy="905.89" r="0.45" fill="#777"/>
<circle cx="195.01" cy="917.48" r="0.45" fill="#777"/>
<circle cx="187.33" cy="913.92" r="0.45" fill="#777"/>
<circle cx="188.02" cy="904.6" r="0.45" fill="#777"/>
<circle cx="195.54" cy="906.12" r="0.45" fill="#777"/>
<circle cx="197.89" cy="943.96" r="0.45" fill="#777"/>
<circle cx="165.19" cy="941.62" r="0.45" fill="#777"/>
<circle cx="184.49" cy="929.62" r="0.45" fill="#777"/>
<circle cx="167.24" cy="938.86" r="0.45" fill="#777"/>
<circle cx="194.26" cy="962.89" r="0.45" fill="#777"/>
<circle cx="195.88" cy="964.79" r="0.45" fill="#777"/>
<circle cx="180.15" cy="935.22" r="0.45" fill="#777"/>
<circle cx="176.98" cy="934.9" r="0.45" fill="#777"/>
<circle cx="176.83" cy="964.95" r="0.45" fill="#777"/>
<circle cx="192.32" cy="937.5" r="0.45" fill="#777"/>
<polygon points="177.8,928.3 195.1,930.1 200.4,948.3 196,966.8 157.3,963.2 157.3,946.1" stroke="#222" stroke-width="1" fill="none" stroke-linejoin="miter"/>
<polygon points="124.4,937.9 155.6,945 153.8,962.8 130,961.7 124,953.9" stroke="#222" stroke-width="1" fill="none" stroke-linejoin="miter"/>
<text x="107.8" y="861.6" font-size="14" fill="#1b1b8f" font-weight="bold" textLength="52.2" lengthAdjust="spacingAndGlyphs">CD45.1+</text>
<text x="204.9" y="944.6" font-size="13" fill="#000" font-weight="bold" textLength="25.1" lengthAdjust="spacingAndGlyphs">70.8</text>
<text x="204.9" y="960.6" font-size="13" fill="#000" font-weight="bold" textLength="28.4" lengthAdjust="spacingAndGlyphs">± 1.5</text>
<text x="107.8" y="979.5" font-size="13.4" fill="#111" textLength="57.8" lengthAdjust="spacingAndGlyphs">25.4 ± 1.1</text>
<text x="321.3" y="707.8" font-size="14.8" fill="#000" font-weight="bold" text-anchor="middle" textLength="36.2" lengthAdjust="spacingAndGlyphs">MZ B</text>
<line x1="256.1" y1="711.1" x2="390.6" y2="711.1" stroke="#8a8a8a" stroke-width="0.9"/>
<line x1="390.6" y1="711.1" x2="390.6" y2="843.8" stroke="#8a8a8a" stroke-width="0.9"/>
<line x1="256.1" y1="710.65" x2="256.1" y2="844.25" stroke="#333" stroke-width="1"/>
<line x1="256.1" y1="843.8" x2="390.6" y2="843.8" stroke="#333" stroke-width="1"/>
<line x1="252.6" y1="843.8" x2="256.1" y2="843.8" stroke="#333" stroke-width="0.9"/>
<line x1="253.8" y1="837.38" x2="256.1" y2="837.38" stroke="#333" stroke-width="0.9"/>
<line x1="253.8" y1="830.96" x2="256.1" y2="830.96" stroke="#333" stroke-width="0.9"/>
<line x1="253.8" y1="824.54" x2="256.1" y2="824.54" stroke="#333" stroke-width="0.9"/>
<line x1="252.6" y1="818.12" x2="256.1" y2="818.12" stroke="#333" stroke-width="0.9"/>
<line x1="253.8" y1="811.7" x2="256.1" y2="811.7" stroke="#333" stroke-width="0.9"/>
<line x1="253.8" y1="805.28" x2="256.1" y2="805.28" stroke="#333" stroke-width="0.9"/>
<line x1="253.8" y1="798.86" x2="256.1" y2="798.86" stroke="#333" stroke-width="0.9"/>
<line x1="252.6" y1="792.44" x2="256.1" y2="792.44" stroke="#333" stroke-width="0.9"/>
<line x1="253.8" y1="786.02" x2="256.1" y2="786.02" stroke="#333" stroke-width="0.9"/>
<line x1="253.8" y1="779.6" x2="256.1" y2="779.6" stroke="#333" stroke-width="0.9"/>
<line x1="253.8" y1="773.18" x2="256.1" y2="773.18" stroke="#333" stroke-width="0.9"/>
<line x1="252.6" y1="766.76" x2="256.1" y2="766.76" stroke="#333" stroke-width="0.9"/>
<line x1="253.8" y1="760.34" x2="256.1" y2="760.34" stroke="#333" stroke-width="0.9"/>
<line x1="253.8" y1="753.92" x2="256.1" y2="753.92" stroke="#333" stroke-width="0.9"/>
<line x1="253.8" y1="747.5" x2="256.1" y2="747.5" stroke="#333" stroke-width="0.9"/>
<line x1="252.6" y1="741.08" x2="256.1" y2="741.08" stroke="#333" stroke-width="0.9"/>
<line x1="253.8" y1="734.66" x2="256.1" y2="734.66" stroke="#333" stroke-width="0.9"/>
<line x1="253.8" y1="728.24" x2="256.1" y2="728.24" stroke="#333" stroke-width="0.9"/>
<line x1="253.8" y1="721.82" x2="256.1" y2="721.82" stroke="#333" stroke-width="0.9"/>
<line x1="252.6" y1="715.4" x2="256.1" y2="715.4" stroke="#333" stroke-width="0.9"/>
<line x1="264.13" y1="843.8" x2="264.13" y2="847" stroke="#3a3a3a" stroke-width="0.8"/>
<line x1="286.21" y1="843.8" x2="286.21" y2="847" stroke="#3a3a3a" stroke-width="0.8"/>
<line x1="308.29" y1="843.8" x2="308.29" y2="847" stroke="#3a3a3a" stroke-width="0.8"/>
<line x1="345.43" y1="843.8" x2="345.43" y2="847" stroke="#3a3a3a" stroke-width="0.8"/>
<line x1="377.55" y1="843.8" x2="377.55" y2="847" stroke="#3a3a3a" stroke-width="0.8"/>
<line x1="279.56" y1="843.8" x2="279.56" y2="845.6" stroke="#3a3a3a" stroke-width="0.8"/>
<line x1="292.86" y1="843.8" x2="292.86" y2="845.6" stroke="#3a3a3a" stroke-width="0.8"/>
<line x1="319.47" y1="843.8" x2="319.47" y2="845.6" stroke="#3a3a3a" stroke-width="0.8"/>
<line x1="355.1" y1="843.8" x2="355.1" y2="845.6" stroke="#3a3a3a" stroke-width="0.8"/>
<line x1="387.22" y1="843.8" x2="387.22" y2="845.6" stroke="#3a3a3a" stroke-width="0.8"/>
<line x1="275.68" y1="843.8" x2="275.68" y2="845.6" stroke="#3a3a3a" stroke-width="0.8"/>
<line x1="296.75" y1="843.8" x2="296.75" y2="845.6" stroke="#3a3a3a" stroke-width="0.8"/>
<line x1="326.01" y1="843.8" x2="326.01" y2="845.6" stroke="#3a3a3a" stroke-width="0.8"/>
<line x1="360.76" y1="843.8" x2="360.76" y2="845.6" stroke="#3a3a3a" stroke-width="0.8"/>
<line x1="272.92" y1="843.8" x2="272.92" y2="845.6" stroke="#3a3a3a" stroke-width="0.8"/>
<line x1="299.51" y1="843.8" x2="299.51" y2="845.6" stroke="#3a3a3a" stroke-width="0.8"/>
<line x1="330.65" y1="843.8" x2="330.65" y2="845.6" stroke="#3a3a3a" stroke-width="0.8"/>
<line x1="364.77" y1="843.8" x2="364.77" y2="845.6" stroke="#3a3a3a" stroke-width="0.8"/>
<line x1="270.78" y1="843.8" x2="270.78" y2="845.6" stroke="#3a3a3a" stroke-width="0.8"/>
<line x1="301.65" y1="843.8" x2="301.65" y2="845.6" stroke="#3a3a3a" stroke-width="0.8"/>
<line x1="334.25" y1="843.8" x2="334.25" y2="845.6" stroke="#3a3a3a" stroke-width="0.8"/>
<line x1="367.88" y1="843.8" x2="367.88" y2="845.6" stroke="#3a3a3a" stroke-width="0.8"/>
<line x1="269.03" y1="843.8" x2="269.03" y2="845.6" stroke="#3a3a3a" stroke-width="0.8"/>
<line x1="303.4" y1="843.8" x2="303.4" y2="845.6" stroke="#3a3a3a" stroke-width="0.8"/>
<line x1="337.19" y1="843.8" x2="337.19" y2="845.6" stroke="#3a3a3a" stroke-width="0.8"/>
<line x1="370.43" y1="843.8" x2="370.43" y2="845.6" stroke="#3a3a3a" stroke-width="0.8"/>
<line x1="267.55" y1="843.8" x2="267.55" y2="845.6" stroke="#3a3a3a" stroke-width="0.8"/>
<line x1="304.87" y1="843.8" x2="304.87" y2="845.6" stroke="#3a3a3a" stroke-width="0.8"/>
<line x1="339.68" y1="843.8" x2="339.68" y2="845.6" stroke="#3a3a3a" stroke-width="0.8"/>
<line x1="372.58" y1="843.8" x2="372.58" y2="845.6" stroke="#3a3a3a" stroke-width="0.8"/>
<line x1="266.27" y1="843.8" x2="266.27" y2="845.6" stroke="#3a3a3a" stroke-width="0.8"/>
<line x1="306.15" y1="843.8" x2="306.15" y2="845.6" stroke="#3a3a3a" stroke-width="0.8"/>
<line x1="341.83" y1="843.8" x2="341.83" y2="845.6" stroke="#3a3a3a" stroke-width="0.8"/>
<line x1="374.44" y1="843.8" x2="374.44" y2="845.6" stroke="#3a3a3a" stroke-width="0.8"/>
<line x1="265.14" y1="843.8" x2="265.14" y2="845.6" stroke="#3a3a3a" stroke-width="0.8"/>
<line x1="307.28" y1="843.8" x2="307.28" y2="845.6" stroke="#3a3a3a" stroke-width="0.8"/>
<line x1="343.73" y1="843.8" x2="343.73" y2="845.6" stroke="#3a3a3a" stroke-width="0.8"/>
<line x1="376.08" y1="843.8" x2="376.08" y2="845.6" stroke="#3a3a3a" stroke-width="0.8"/>
<rect x="284.6" y="844.3" width="5" height="2.8" fill="#222" stroke="none" stroke-width="1"/>
<text x="259.4" y="723.3" font-size="13.5" fill="#000" font-weight="bold" textLength="26.5" lengthAdjust="spacingAndGlyphs">30.2</text>
<text x="259.4" y="739.3" font-size="13.5" fill="#000" font-weight="bold" textLength="37.5" lengthAdjust="spacingAndGlyphs">± 10.3</text>
<text x="388.3" y="723.3" font-size="13.5" fill="#000" font-weight="bold" text-anchor="end" textLength="26.5" lengthAdjust="spacingAndGlyphs">69.8</text>
<text x="388.3" y="739.3" font-size="13.5" fill="#000" font-weight="bold" text-anchor="end" textLength="37.5" lengthAdjust="spacingAndGlyphs">± 10.2</text>
<path d="M283.9,843.8 C284.58,843 286.7,840.47 288,839 C289.3,837.53 290.7,836.25 291.7,835 C292.7,833.75 293.27,832.33 294,831.5 C294.73,830.67 295.18,831.42 296.1,830 C297.02,828.58 298.38,825.5 299.5,823 C300.62,820.5 301.72,818 302.8,815 C303.88,812 304.9,808.33 306,805 C307.1,801.67 308.4,798 309.4,795 C310.4,792 311.25,789.5 312,787 C312.75,784.5 313.27,784.5 313.9,780 C314.53,775.5 315.25,766.33 315.8,760 C316.35,753.67 316.75,746.5 317.2,742 C317.65,737.5 318.07,734.75 318.5,733 C318.93,731.25 319.38,731.5 319.8,731.5 C320.22,731.5 320.68,733.07 321,733 C321.32,732.93 321.4,730.43 321.7,731.1 C322,731.77 322.43,733.85 322.8,737 C323.17,740.15 323.45,745.83 323.9,750 C324.35,754.17 324.95,757.83 325.5,762 C326.05,766.17 326.62,770 327.2,775 C327.78,780 328.43,786.17 329,792 C329.57,797.83 330.07,804.5 330.6,810 C331.13,815.5 331.65,820.83 332.2,825 C332.75,829.17 333.27,832.67 333.9,835 C334.53,837.33 335.27,838.08 336,839 C336.73,839.92 337.47,839.92 338.3,840.5 C339.13,841.08 340.07,841.95 341,842.5 C341.93,843.05 343.42,843.58 343.9,843.8" stroke="#111" stroke-width="0.9" fill="none" />
<line x1="257.2" y1="813.3" x2="317.2" y2="813.3" stroke="#111" stroke-width="1.2"/>
<line x1="257.2" y1="810.8" x2="257.2" y2="815.8" stroke="#111" stroke-width="1.2"/>
<line x1="317.2" y1="810.8" x2="317.2" y2="815.8" stroke="#111" stroke-width="1.2"/>
<line x1="317.2" y1="820" x2="383.2" y2="820" stroke="#111" stroke-width="1.2"/>
<line x1="317.2" y1="817.5" x2="317.2" y2="822.5" stroke="#111" stroke-width="1.2"/>
<line x1="383.2" y1="817.5" x2="383.2" y2="822.5" stroke="#111" stroke-width="1.2"/>
<line x1="256.1" y1="849.3" x2="390.6" y2="849.3" stroke="#8a8a8a" stroke-width="0.9"/>
<line x1="390.6" y1="849.3" x2="390.6" y2="982.2" stroke="#8a8a8a" stroke-width="0.9"/>
<line x1="256.1" y1="848.85" x2="256.1" y2="982.65" stroke="#333" stroke-width="1"/>
<line x1="256.1" y1="982.2" x2="390.6" y2="982.2" stroke="#333" stroke-width="1"/>
<line x1="252.6" y1="982.2" x2="256.1" y2="982.2" stroke="#333" stroke-width="0.9"/>
<line x1="253.8" y1="975.78" x2="256.1" y2="975.78" stroke="#333" stroke-width="0.9"/>
<line x1="253.8" y1="969.36" x2="256.1" y2="969.36" stroke="#333" stroke-width="0.9"/>
<line x1="253.8" y1="962.94" x2="256.1" y2="962.94" stroke="#333" stroke-width="0.9"/>
<line x1="252.6" y1="956.52" x2="256.1" y2="956.52" stroke="#333" stroke-width="0.9"/>
<line x1="253.8" y1="950.1" x2="256.1" y2="950.1" stroke="#333" stroke-width="0.9"/>
<line x1="253.8" y1="943.68" x2="256.1" y2="943.68" stroke="#333" stroke-width="0.9"/>
<line x1="253.8" y1="937.26" x2="256.1" y2="937.26" stroke="#333" stroke-width="0.9"/>
<line x1="252.6" y1="930.84" x2="256.1" y2="930.84" stroke="#333" stroke-width="0.9"/>
<line x1="253.8" y1="924.42" x2="256.1" y2="924.42" stroke="#333" stroke-width="0.9"/>
<line x1="253.8" y1="918" x2="256.1" y2="918" stroke="#333" stroke-width="0.9"/>
<line x1="253.8" y1="911.58" x2="256.1" y2="911.58" stroke="#333" stroke-width="0.9"/>
<line x1="252.6" y1="905.16" x2="256.1" y2="905.16" stroke="#333" stroke-width="0.9"/>
<line x1="253.8" y1="898.74" x2="256.1" y2="898.74" stroke="#333" stroke-width="0.9"/>
<line x1="253.8" y1="892.32" x2="256.1" y2="892.32" stroke="#333" stroke-width="0.9"/>
<line x1="253.8" y1="885.9" x2="256.1" y2="885.9" stroke="#333" stroke-width="0.9"/>
<line x1="252.6" y1="879.48" x2="256.1" y2="879.48" stroke="#333" stroke-width="0.9"/>
<line x1="253.8" y1="873.06" x2="256.1" y2="873.06" stroke="#333" stroke-width="0.9"/>
<line x1="253.8" y1="866.64" x2="256.1" y2="866.64" stroke="#333" stroke-width="0.9"/>
<line x1="253.8" y1="860.22" x2="256.1" y2="860.22" stroke="#333" stroke-width="0.9"/>
<line x1="252.6" y1="853.8" x2="256.1" y2="853.8" stroke="#333" stroke-width="0.9"/>
<line x1="264.13" y1="982.2" x2="264.13" y2="985.4" stroke="#3a3a3a" stroke-width="0.8"/>
<line x1="286.21" y1="982.2" x2="286.21" y2="985.4" stroke="#3a3a3a" stroke-width="0.8"/>
<line x1="308.29" y1="982.2" x2="308.29" y2="985.4" stroke="#3a3a3a" stroke-width="0.8"/>
<line x1="345.43" y1="982.2" x2="345.43" y2="985.4" stroke="#3a3a3a" stroke-width="0.8"/>
<line x1="377.55" y1="982.2" x2="377.55" y2="985.4" stroke="#3a3a3a" stroke-width="0.8"/>
<line x1="279.56" y1="982.2" x2="279.56" y2="984" stroke="#3a3a3a" stroke-width="0.8"/>
<line x1="292.86" y1="982.2" x2="292.86" y2="984" stroke="#3a3a3a" stroke-width="0.8"/>
<line x1="319.47" y1="982.2" x2="319.47" y2="984" stroke="#3a3a3a" stroke-width="0.8"/>
<line x1="355.1" y1="982.2" x2="355.1" y2="984" stroke="#3a3a3a" stroke-width="0.8"/>
<line x1="387.22" y1="982.2" x2="387.22" y2="984" stroke="#3a3a3a" stroke-width="0.8"/>
<line x1="275.68" y1="982.2" x2="275.68" y2="984" stroke="#3a3a3a" stroke-width="0.8"/>
<line x1="296.75" y1="982.2" x2="296.75" y2="984" stroke="#3a3a3a" stroke-width="0.8"/>
<line x1="326.01" y1="982.2" x2="326.01" y2="984" stroke="#3a3a3a" stroke-width="0.8"/>
<line x1="360.76" y1="982.2" x2="360.76" y2="984" stroke="#3a3a3a" stroke-width="0.8"/>
<line x1="272.92" y1="982.2" x2="272.92" y2="984" stroke="#3a3a3a" stroke-width="0.8"/>
<line x1="299.51" y1="982.2" x2="299.51" y2="984" stroke="#3a3a3a" stroke-width="0.8"/>
<line x1="330.65" y1="982.2" x2="330.65" y2="984" stroke="#3a3a3a" stroke-width="0.8"/>
<line x1="364.77" y1="982.2" x2="364.77" y2="984" stroke="#3a3a3a" stroke-width="0.8"/>
<line x1="270.78" y1="982.2" x2="270.78" y2="984" stroke="#3a3a3a" stroke-width="0.8"/>
<line x1="301.65" y1="982.2" x2="301.65" y2="984" stroke="#3a3a3a" stroke-width="0.8"/>
<line x1="334.25" y1="982.2" x2="334.25" y2="984" stroke="#3a3a3a" stroke-width="0.8"/>
<line x1="367.88" y1="982.2" x2="367.88" y2="984" stroke="#3a3a3a" stroke-width="0.8"/>
<line x1="269.03" y1="982.2" x2="269.03" y2="984" stroke="#3a3a3a" stroke-width="0.8"/>
<line x1="303.4" y1="982.2" x2="303.4" y2="984" stroke="#3a3a3a" stroke-width="0.8"/>
<line x1="337.19" y1="982.2" x2="337.19" y2="984" stroke="#3a3a3a" stroke-width="0.8"/>
<line x1="370.43" y1="982.2" x2="370.43" y2="984" stroke="#3a3a3a" stroke-width="0.8"/>
<line x1="267.55" y1="982.2" x2="267.55" y2="984" stroke="#3a3a3a" stroke-width="0.8"/>
<line x1="304.87" y1="982.2" x2="304.87" y2="984" stroke="#3a3a3a" stroke-width="0.8"/>
<line x1="339.68" y1="982.2" x2="339.68" y2="984" stroke="#3a3a3a" stroke-width="0.8"/>
<line x1="372.58" y1="982.2" x2="372.58" y2="984" stroke="#3a3a3a" stroke-width="0.8"/>
<line x1="266.27" y1="982.2" x2="266.27" y2="984" stroke="#3a3a3a" stroke-width="0.8"/>
<line x1="306.15" y1="982.2" x2="306.15" y2="984" stroke="#3a3a3a" stroke-width="0.8"/>
<line x1="341.83" y1="982.2" x2="341.83" y2="984" stroke="#3a3a3a" stroke-width="0.8"/>
<line x1="374.44" y1="982.2" x2="374.44" y2="984" stroke="#3a3a3a" stroke-width="0.8"/>
<line x1="265.14" y1="982.2" x2="265.14" y2="984" stroke="#3a3a3a" stroke-width="0.8"/>
<line x1="307.28" y1="982.2" x2="307.28" y2="984" stroke="#3a3a3a" stroke-width="0.8"/>
<line x1="343.73" y1="982.2" x2="343.73" y2="984" stroke="#3a3a3a" stroke-width="0.8"/>
<line x1="376.08" y1="982.2" x2="376.08" y2="984" stroke="#3a3a3a" stroke-width="0.8"/>
<rect x="284.6" y="982.7" width="5" height="2.8" fill="#222" stroke="none" stroke-width="1"/>
<text x="259.4" y="861.1" font-size="13.5" fill="#000" font-weight="bold" textLength="26.5" lengthAdjust="spacingAndGlyphs">59.0</text>
<text x="259.4" y="876.7" font-size="13.5" fill="#000" font-weight="bold" textLength="30.5" lengthAdjust="spacingAndGlyphs">± 9.6</text>
<text x="388.3" y="861.1" font-size="13.5" fill="#000" font-weight="bold" text-anchor="end" textLength="26.5" lengthAdjust="spacingAndGlyphs">41.0</text>
<text x="388.3" y="876.7" font-size="13.5" fill="#000" font-weight="bold" text-anchor="end" textLength="30.5" lengthAdjust="spacingAndGlyphs">± 9.6</text>
<path d="M281,982.2 C281.5,982.08 283,981.87 284,981.5 C285,981.13 286.08,981.25 287,980 C287.92,978.75 288.7,976.35 289.5,974 C290.3,971.65 291.12,968.65 291.8,965.9 C292.48,963.15 293,960.3 293.6,957.5 C294.2,954.7 294.75,951.93 295.4,949.1 C296.05,946.27 296.8,943.28 297.5,940.5 C298.2,937.72 299.13,934.98 299.6,932.4 C300.07,929.82 300.1,927.4 300.3,925 C300.5,922.6 300.57,920.33 300.8,918 C301.03,915.67 301.4,912.8 301.7,911 C302,909.2 302.15,908.03 302.6,907.2 C303.05,906.37 303.8,906 304.4,906 C305,906 305.68,906.7 306.2,907.2 C306.72,907.7 306.9,907.6 307.5,909 C308.1,910.4 309.27,916.1 309.8,915.6 C310.33,915.1 310.4,908.8 310.7,906 C311,903.2 311.2,901.6 311.6,898.8 C312,896 312.6,890.2 313.1,889.2 C313.6,888.2 314,893.6 314.6,892.8 C315.2,892 316,884.8 316.7,884.4 C317.4,884 318.05,888.2 318.8,890.4 C319.55,892.6 320.5,895 321.2,897.6 C321.9,900.2 322.53,902.6 323,906 C323.47,909.4 323.7,914.4 324,918 C324.3,921.6 324.17,924.02 324.8,927.6 C325.43,931.18 326.9,934.72 327.8,939.5 C328.7,944.28 329.5,951.88 330.2,956.3 C330.9,960.72 331.4,963 332,966 C332.6,969 333.22,972.22 333.8,974.3 C334.38,976.38 334.9,977.5 335.5,978.5 C336.1,979.5 336.65,979.75 337.4,980.3 C338.15,980.85 339.22,981.48 340,981.8 C340.78,982.12 341.75,982.13 342.1,982.2" stroke="#111" stroke-width="0.9" fill="none" />
<line x1="258.8" y1="951.6" x2="316.1" y2="951.6" stroke="#111" stroke-width="1.2"/>
<line x1="258.8" y1="949.1" x2="258.8" y2="954.1" stroke="#111" stroke-width="1.2"/>
<line x1="316.1" y1="949.1" x2="316.1" y2="954.1" stroke="#111" stroke-width="1.2"/>
<line x1="316.1" y1="959.6" x2="382.3" y2="959.6" stroke="#111" stroke-width="1.2"/>
<line x1="316.1" y1="957.1" x2="316.1" y2="962.1" stroke="#111" stroke-width="1.2"/>
<line x1="382.3" y1="957.1" x2="382.3" y2="962.1" stroke="#111" stroke-width="1.2"/>
<line x1="258.8" y1="995.1" x2="346" y2="995.1" stroke="#707070" stroke-width="1.6"/>
<line x1="340" y1="995.1" x2="345.7" y2="995.1" stroke="#222" stroke-width="1"/>
<polygon points="351.7,995.1 344.2,992.1 344.2,998.1" stroke="none" stroke-width="0" fill="#000" stroke-linejoin="miter"/>
<text x="357.4" y="998.8" font-size="12.6" fill="#111" textLength="32.8" lengthAdjust="spacingAndGlyphs">CD80</text>
<line x1="451.6" y1="784.65" x2="451.6" y2="921.8" stroke="#333" stroke-width="1"/>
<line x1="451.6" y1="921.8" x2="607.2" y2="921.8" stroke="#333" stroke-width="1"/>
<line x1="448" y1="921.8" x2="451.6" y2="921.8" stroke="#333" stroke-width="1"/>
<text x="446.3" y="926.7" font-size="14.4" fill="#111" text-anchor="end">0</text>
<line x1="448" y1="894.47" x2="451.6" y2="894.47" stroke="#333" stroke-width="1"/>
<text x="446.3" y="899.37" font-size="14.4" fill="#111" text-anchor="end">20</text>
<line x1="448" y1="867.14" x2="451.6" y2="867.14" stroke="#333" stroke-width="1"/>
<text x="446.3" y="872.04" font-size="14.4" fill="#111" text-anchor="end">40</text>
<line x1="448" y1="839.81" x2="451.6" y2="839.81" stroke="#333" stroke-width="1"/>
<text x="446.3" y="844.71" font-size="14.4" fill="#111" text-anchor="end">60</text>
<line x1="448" y1="812.48" x2="451.6" y2="812.48" stroke="#333" stroke-width="1"/>
<text x="446.3" y="817.38" font-size="14.4" fill="#111" text-anchor="end">80</text>
<line x1="448" y1="785.15" x2="451.6" y2="785.15" stroke="#333" stroke-width="1"/>
<text x="446.3" y="790.05" font-size="14.4" fill="#111" text-anchor="end">100</text>
<line x1="490.4" y1="921.8" x2="490.4" y2="925.5" stroke="#333" stroke-width="1"/>
<line x1="567.3" y1="921.8" x2="567.3" y2="925.5" stroke="#333" stroke-width="1"/>
<line x1="473.4" y1="880.53" x2="473.4" y2="866.46" stroke="#222" stroke-width="1.1"/>
<line x1="466.2" y1="866.46" x2="480.6" y2="866.46" stroke="#222" stroke-width="1.1"/>
<rect x="459" y="880.53" width="28.8" height="41.27" fill="#fff" stroke="#444" stroke-width="1.2"/>
<line x1="508.1" y1="826.42" x2="508.1" y2="812.48" stroke="#222" stroke-width="1.1"/>
<line x1="500.9" y1="812.48" x2="515.3" y2="812.48" stroke="#222" stroke-width="1.1"/>
<rect x="493.7" y="826.42" width="28.8" height="95.38" fill="#0a0606" stroke="#0a0606" stroke-width="1"/>
<line x1="550.9" y1="841.18" x2="550.9" y2="828.06" stroke="#222" stroke-width="1.1"/>
<line x1="543.7" y1="828.06" x2="558.1" y2="828.06" stroke="#222" stroke-width="1.1"/>
<rect x="536.5" y="841.18" width="28.8" height="80.62" fill="#fff" stroke="#444" stroke-width="1.2"/>
<line x1="584.9" y1="865.77" x2="584.9" y2="852.66" stroke="#222" stroke-width="1.1"/>
<line x1="577.7" y1="852.66" x2="592.1" y2="852.66" stroke="#222" stroke-width="1.1"/>
<rect x="570.5" y="865.77" width="28.8" height="56.03" fill="#0a0606" stroke="#0a0606" stroke-width="1"/>
<text transform="translate(416.7,855.7) rotate(-90)" x="0" y="0" font-size="12.5" fill="#111" text-anchor="middle" textLength="62.5" lengthAdjust="spacingAndGlyphs">% (/ MZ B)</text>
<text x="441.2" y="940.4" font-size="14" fill="#000" font-weight="bold" textLength="37.4" lengthAdjust="spacingAndGlyphs">CD80</text>
<text x="479.8" y="935" font-size="9.5" fill="#000" font-weight="bold" textLength="19.5" lengthAdjust="spacingAndGlyphs">high</text>
<text x="504" y="940.4" font-size="14" fill="#000" font-weight="bold" textLength="21.6" lengthAdjust="spacingAndGlyphs">MZ</text>
<text x="534.1" y="940.4" font-size="14" fill="#000" font-weight="bold" textLength="37.4" lengthAdjust="spacingAndGlyphs">CD80</text>
<text x="572.5" y="935" font-size="9.5" fill="#000" font-weight="bold" textLength="15" lengthAdjust="spacingAndGlyphs">low</text>
<text x="592.6" y="940.4" font-size="14" fill="#000" font-weight="bold" textLength="21.7" lengthAdjust="spacingAndGlyphs">MZ</text>
<line x1="441.2" y1="946.6" x2="615.1" y2="946.6" stroke="#333" stroke-width="1.1"/>
<text x="485.7" y="962.9" font-size="14" fill="#000" font-weight="bold" textLength="83" lengthAdjust="spacingAndGlyphs">Donor cells</text>
<line x1="473.3" y1="753.4" x2="548.7" y2="753.4" stroke="#333" stroke-width="1"/>
<line x1="473.3" y1="752.9" x2="473.3" y2="757.2" stroke="#333" stroke-width="1"/>
<line x1="548.7" y1="752.9" x2="548.7" y2="757.2" stroke="#333" stroke-width="1"/>
<line x1="550.3" y1="753.4" x2="584.3" y2="753.4" stroke="#333" stroke-width="1"/>
<line x1="550.3" y1="752.9" x2="550.3" y2="757.2" stroke="#333" stroke-width="1"/>
<line x1="584.3" y1="752.9" x2="584.3" y2="757.2" stroke="#333" stroke-width="1"/>
<line x1="473.3" y1="778.9" x2="506.7" y2="778.9" stroke="#333" stroke-width="1"/>
<line x1="473.3" y1="778.4" x2="473.3" y2="782.7" stroke="#333" stroke-width="1"/>
<line x1="506.7" y1="778.4" x2="506.7" y2="782.7" stroke="#333" stroke-width="1"/>
<line x1="509.2" y1="778.9" x2="585.9" y2="778.9" stroke="#333" stroke-width="1"/>
<line x1="509.2" y1="778.4" x2="509.2" y2="782.7" stroke="#333" stroke-width="1"/>
<line x1="585.9" y1="778.4" x2="585.9" y2="782.7" stroke="#333" stroke-width="1"/>
<text x="501.9" y="756.7" font-size="21" fill="#000" font-weight="bold" textLength="18.3" lengthAdjust="spacingAndGlyphs">**</text>
<text x="567.5" y="749.5" font-size="14" fill="#000" font-weight="bold" text-anchor="middle" textLength="16.2" lengthAdjust="spacingAndGlyphs">ns</text>
<text x="477.4" y="783.2" font-size="21" fill="#000" font-weight="bold" textLength="26.5" lengthAdjust="spacingAndGlyphs">***</text>
<text x="538.8" y="784" font-size="21" fill="#000" font-weight="bold" textLength="16.8" lengthAdjust="spacingAndGlyphs">**</text>
<rect x="608.2" y="782.8" width="8.6" height="8.6" fill="#fff" stroke="#333" stroke-width="1"/>
<rect x="607.7" y="796.1" width="9.6" height="9.6" fill="#000" stroke="none" stroke-width="1"/>
<text x="622.9" y="791.5" font-size="12.6" fill="#111" textLength="31.6" lengthAdjust="spacingAndGlyphs">CD80</text>
<text x="655.8" y="788.1" font-size="7.4" fill="#111" textLength="11.2" lengthAdjust="spacingAndGlyphs">low</text>
<text x="622.9" y="805.3" font-size="12.6" fill="#111" textLength="31.6" lengthAdjust="spacingAndGlyphs">CD80</text>
<text x="655.8" y="801.7" font-size="7.4" fill="#111" textLength="14.2" lengthAdjust="spacingAndGlyphs">high</text>
</svg></body></html>
